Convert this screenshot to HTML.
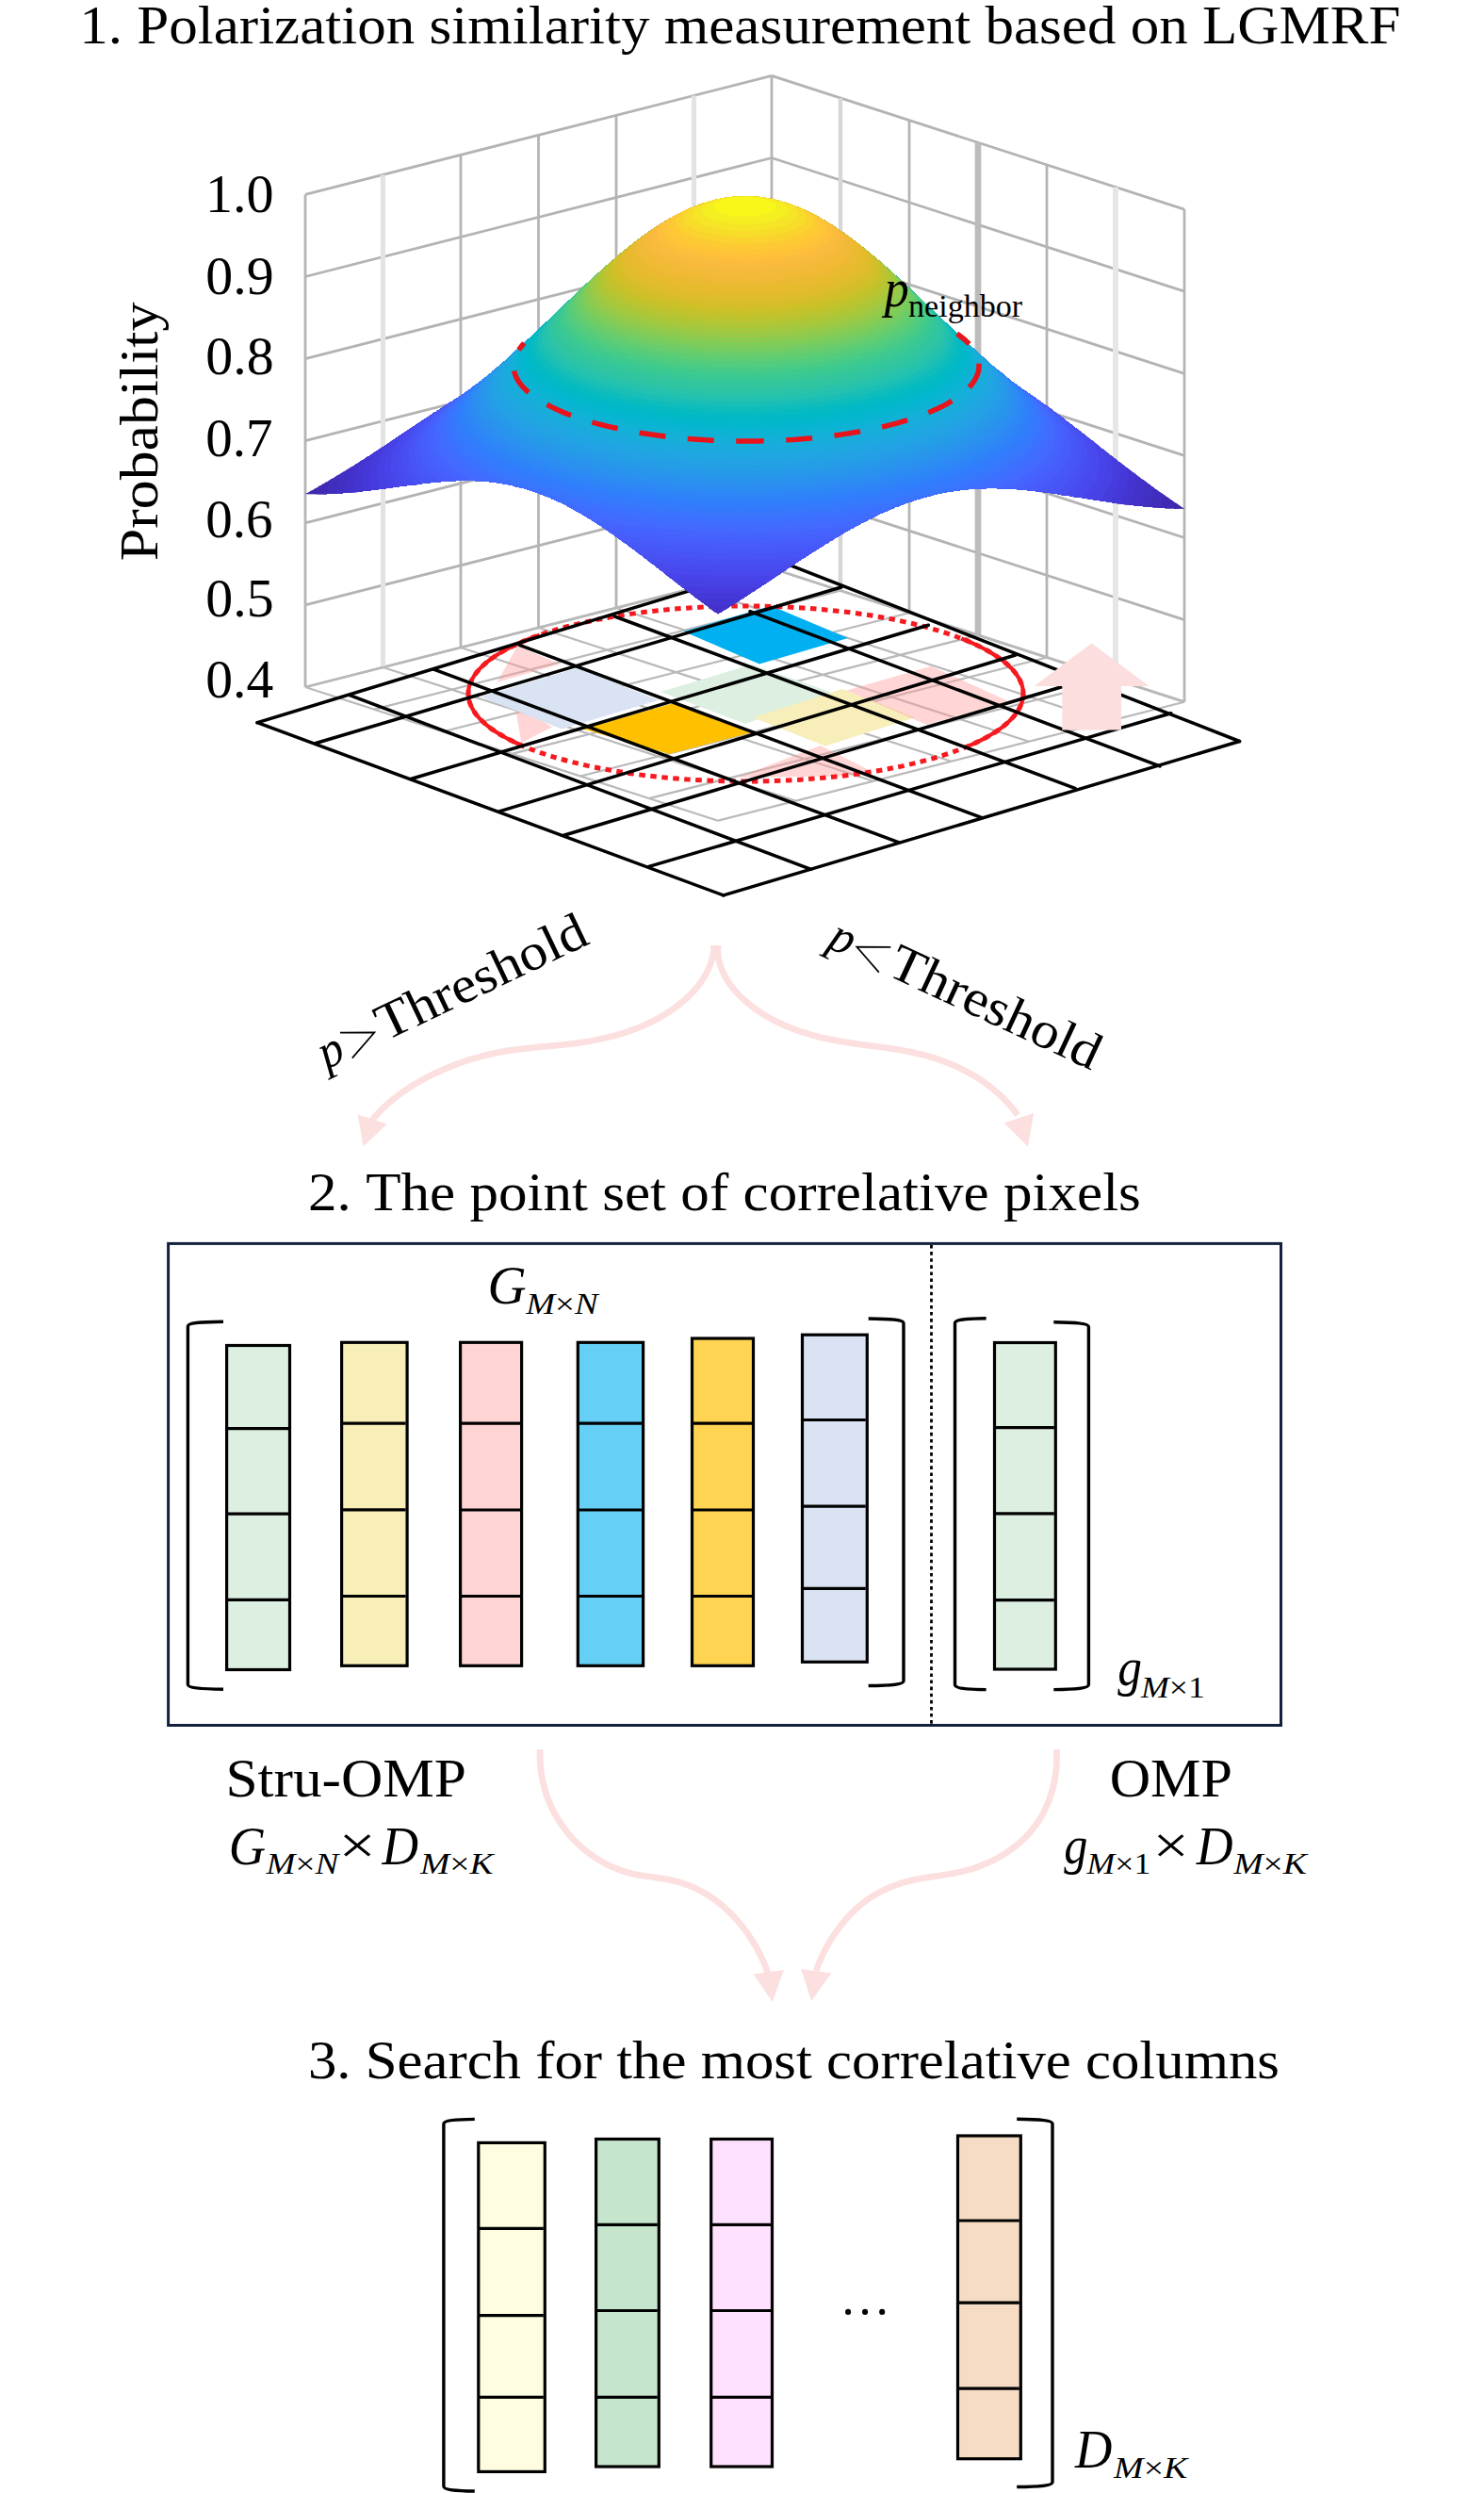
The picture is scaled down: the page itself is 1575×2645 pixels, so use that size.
<!DOCTYPE html><html><head><meta charset="utf-8"><style>html,body{margin:0;padding:0;background:#fff;font-family:'Liberation Serif',serif}svg{display:block}</style></head><body>
<svg width="1575" height="2645" viewBox="0 0 1575 2645">
<rect width="1575" height="2645" fill="#fff"/>
<g stroke-linecap="butt">
<line x1="324.0" y1="729.0" x2="819.0" y2="603.0" stroke="#b3b3b3" stroke-width="2.8"/>
<line x1="819.0" y1="603.0" x2="1257.0" y2="744.7" stroke="#b3b3b3" stroke-width="2.8"/>
<line x1="324.0" y1="641.9" x2="819.0" y2="515.9" stroke="#b3b3b3" stroke-width="2.8"/>
<line x1="819.0" y1="515.9" x2="1257.0" y2="657.6" stroke="#b3b3b3" stroke-width="2.8"/>
<line x1="324.0" y1="554.8" x2="819.0" y2="428.8" stroke="#b3b3b3" stroke-width="2.8"/>
<line x1="819.0" y1="428.8" x2="1257.0" y2="570.5" stroke="#b3b3b3" stroke-width="2.8"/>
<line x1="324.0" y1="467.7" x2="819.0" y2="341.7" stroke="#b3b3b3" stroke-width="2.8"/>
<line x1="819.0" y1="341.7" x2="1257.0" y2="483.4" stroke="#b3b3b3" stroke-width="2.8"/>
<line x1="324.0" y1="380.6" x2="819.0" y2="254.6" stroke="#b3b3b3" stroke-width="2.8"/>
<line x1="819.0" y1="254.6" x2="1257.0" y2="396.3" stroke="#b3b3b3" stroke-width="2.8"/>
<line x1="324.0" y1="293.5" x2="819.0" y2="167.5" stroke="#b3b3b3" stroke-width="2.8"/>
<line x1="819.0" y1="167.5" x2="1257.0" y2="309.2" stroke="#b3b3b3" stroke-width="2.8"/>
<line x1="324.0" y1="206.4" x2="819.0" y2="80.4" stroke="#b3b3b3" stroke-width="2.8"/>
<line x1="819.0" y1="80.4" x2="1257.0" y2="222.1" stroke="#b3b3b3" stroke-width="2.8"/>
<line x1="819.0" y1="80.4" x2="819.0" y2="603.0" stroke="#b5b5b5" stroke-width="2.8"/>
<line x1="736.5" y1="101.4" x2="736.5" y2="624.0" stroke="#e3e3e3" stroke-width="5.2"/>
<line x1="654.0" y1="122.4" x2="654.0" y2="645.0" stroke="#b5b5b5" stroke-width="2.8"/>
<line x1="571.5" y1="143.4" x2="571.5" y2="666.0" stroke="#b5b5b5" stroke-width="2.8"/>
<line x1="489.0" y1="164.4" x2="489.0" y2="687.0" stroke="#b5b5b5" stroke-width="2.8"/>
<line x1="406.5" y1="185.4" x2="406.5" y2="708.0" stroke="#e3e3e3" stroke-width="5.2"/>
<line x1="324.0" y1="206.4" x2="324.0" y2="729.0" stroke="#b5b5b5" stroke-width="2.8"/>
<line x1="892.0" y1="104.0" x2="892.0" y2="626.6" stroke="#d6d6d6" stroke-width="4.5"/>
<line x1="965.0" y1="127.6" x2="965.0" y2="650.2" stroke="#b5b5b5" stroke-width="2.8"/>
<line x1="1038.0" y1="151.2" x2="1038.0" y2="673.9" stroke="#bcbcbc" stroke-width="6.7"/>
<line x1="1111.0" y1="174.9" x2="1111.0" y2="697.5" stroke="#b5b5b5" stroke-width="2.8"/>
<line x1="1184.0" y1="198.5" x2="1184.0" y2="721.1" stroke="#e6e6e6" stroke-width="6"/>
<line x1="1257.0" y1="222.1" x2="1257.0" y2="744.7" stroke="#b5b5b5" stroke-width="2.8"/>
<line x1="819.0" y1="603.0" x2="1257.0" y2="744.7" stroke="#b9b9b9" stroke-width="2.2"/>
<line x1="819.0" y1="603.0" x2="324.0" y2="729.0" stroke="#b9b9b9" stroke-width="2.2"/>
<line x1="736.5" y1="624.0" x2="1174.5" y2="765.7" stroke="#b9b9b9" stroke-width="2.2"/>
<line x1="892.0" y1="626.6" x2="397.0" y2="752.6" stroke="#b9b9b9" stroke-width="2.2"/>
<line x1="654.0" y1="645.0" x2="1092.0" y2="786.7" stroke="#b9b9b9" stroke-width="2.2"/>
<line x1="965.0" y1="650.2" x2="470.0" y2="776.2" stroke="#b9b9b9" stroke-width="2.2"/>
<line x1="571.5" y1="666.0" x2="1009.5" y2="807.7" stroke="#b9b9b9" stroke-width="2.2"/>
<line x1="1038.0" y1="673.9" x2="543.0" y2="799.9" stroke="#b9b9b9" stroke-width="2.2"/>
<line x1="489.0" y1="687.0" x2="927.0" y2="828.7" stroke="#b9b9b9" stroke-width="2.2"/>
<line x1="1111.0" y1="697.5" x2="616.0" y2="823.5" stroke="#b9b9b9" stroke-width="2.2"/>
<line x1="406.5" y1="708.0" x2="844.5" y2="849.7" stroke="#b9b9b9" stroke-width="2.2"/>
<line x1="1184.0" y1="721.1" x2="689.0" y2="847.1" stroke="#b9b9b9" stroke-width="2.2"/>
<line x1="324.0" y1="729.0" x2="762.0" y2="870.7" stroke="#b9b9b9" stroke-width="2.2"/>
<line x1="1257.0" y1="744.7" x2="762.0" y2="870.7" stroke="#b9b9b9" stroke-width="2.2"/>
</g>
<polygon points="527.8,723.8 549,685.6 594.3,704.4" fill="#ff9a9a" fill-opacity="0.42"/>
<polygon points="546,745 553.3,787.9 585.8,771.4" fill="#ff9a9a" fill-opacity="0.42"/>
<polygon points="612.6,708.8 699.2,742.7 596.0,773.5 510.5,739.2" fill="#dae3f3"/>
<polygon points="619.0,773.5 714.0,746.2 797.2,777.5 710.2,800.0" fill="#ffc000"/>
<polygon points="725.5,670.0 818.5,642.7 900.0,677.0 806.0,704.5" fill="#00b0f0"/>
<polygon points="701.0,734.0 798.0,705.0 882.0,734.5 791.0,768.0" fill="#dcefe0"/>
<polygon points="799.0,761.3 894.0,731.0 970.9,761.3 875.9,791.6" fill="#f7eeb9"/>
<polygon points="898.5,732.6 988.2,706.7 1069.8,743.8 983.8,769" fill="#ff9a9a" fill-opacity="0.42"/>
<polygon points="870.5,791 927.1,819.3 894.8,823.5 783,824.7" fill="#ff9a9a" fill-opacity="0.42"/>
<ellipse cx="791.5" cy="736" rx="294.5" ry="93" fill="none" stroke="#f51a1f" stroke-width="5" stroke-dasharray="6.5 5.5"/>
<path d="M553.2 790.7 L547.3 788.0 L541.7 785.3 L536.5 782.5 L531.5 779.7 L526.8 776.8 L522.5 773.8 L518.4 770.8 L514.8 767.8 L511.4 764.7 L508.4 761.6 L505.7 758.5 L503.4 755.3 L501.5 752.1 L499.9 748.9 L498.6 745.7 L497.7 742.5 L497.2 739.2 L497.0 736.0 L497.2 732.8 L497.7 729.5 L498.6 726.3 L499.9 723.1 L501.5 719.9 L503.4 716.7 L505.7 713.5 L508.4 710.4 L511.4 707.3 L514.8 704.2 L518.4 701.2 L522.5 698.2 L526.8 695.2 L531.5 692.3 L536.5 689.5 L541.7 686.7 L547.3 684.0 L553.2 681.3 L559.4 678.7 L565.9 676.2 L572.6 673.8 " fill="none" stroke="#f51a1f" stroke-width="4.2"/>
<path d="M1020.4 677.5 L1026.6 680.0 L1032.6 682.6 L1038.3 685.2 L1043.7 688.0 L1048.8 690.7 L1053.5 693.6 L1058.0 696.4 L1062.2 699.4 L1066.0 702.3 L1069.5 705.3 L1072.7 708.4 L1075.6 711.4 L1078.1 714.6 L1080.2 717.7 L1082.1 720.8 L1083.5 724.0 L1084.7 727.2 L1085.5 730.4 L1085.9 733.6 L1086.0 736.8 L1085.7 740.0 L1085.1 743.2 L1084.2 746.4 L1082.9 749.6 L1081.2 752.7 L1079.2 755.9 L1076.9 759.0 L1074.2 762.1 L1071.2 765.1 L1067.8 768.2 L1064.2 771.1 L1060.2 774.1 L1055.8 777.0 L1051.2 779.8 L1046.3 782.6 L1041.0 785.4 L1035.5 788.1 L1029.7 790.7 L1023.6 793.3" fill="none" stroke="#f51a1f" stroke-width="4.2"/>
<g stroke="#000" stroke-width="3.5" stroke-linecap="round">
<line x1="273.1" y1="766.7" x2="830.8" y2="596.6" stroke="#000" stroke-width="3.5"/>
<line x1="335.2" y1="788.5" x2="892.8" y2="623.0" stroke="#000" stroke-width="3.5"/>
<line x1="435.9" y1="826.5" x2="985.3" y2="663.3" stroke="#000" stroke-width="3.5"/>
<line x1="529.9" y1="860.9" x2="1077.7" y2="695.0" stroke="#000" stroke-width="3.5"/>
<line x1="598.4" y1="886.3" x2="1150.3" y2="721.8" stroke="#000" stroke-width="3.5"/>
<line x1="688.7" y1="919.4" x2="1242.8" y2="756.7" stroke="#000" stroke-width="3.5"/>
<line x1="767.8" y1="949.9" x2="1315.5" y2="786.5" stroke="#000" stroke-width="3.5"/>
<line x1="273.1" y1="766.7" x2="767.8" y2="949.9" stroke="#000" stroke-width="3.5"/>
<line x1="371.3" y1="737.7" x2="860.8" y2="922.3" stroke="#000" stroke-width="3.5"/>
<line x1="460.3" y1="710.2" x2="954.2" y2="893.8" stroke="#000" stroke-width="3.5"/>
<line x1="551.3" y1="684.3" x2="1042.2" y2="867.6" stroke="#000" stroke-width="3.5"/>
<line x1="652.3" y1="654.0" x2="1141.0" y2="836.3" stroke="#000" stroke-width="3.5"/>
<line x1="796.0" y1="648.7" x2="1231.0" y2="812.9" stroke="#000" stroke-width="3.5"/>
<line x1="830.8" y1="596.6" x2="1315.5" y2="786.5" stroke="#000" stroke-width="3.5"/>
</g>
<polygon points="1158.6,682.5 1219.7,728.0 1190.0,728.0 1190.0,774.5 1127.3,774.5 1127.3,728.0 1097.5,728.0" fill="#fddede"/>
<defs><clipPath id="sil"><path d="M762.2 651.5l-.4 0-1.6-1.5-2-1-9.4-7.5-.6 0-1.4-1.5-.6 0-1.4-1.5-.6 0-1.4-1.5-.6 0-1.4-1.5-2-1-6.6-5.5-.4 0-1.6-1.5-.4 0-2-2-.6 0-1.4-1.5-.6 0-1.4-1.5-.6 0-1.4-1.5-.6 0-7-6-.4 0-1.6-1.5-.4 0-1.6-1.5-.4 0-7-6-.6 0-1.4-1.5-.6 0-1.4-1.5-.6 0-4.4-3.9-.6 0-1.4-1.5-.6 0-2-2-.4 0-1.6-1.5-.4 0-1.6-1.5-.4 0-1.6-1.5-.4 0-2-2-.6 0-1.4-1.5-.6 0-2-2-.4 0-1.6-1.5-.4 0-1.6-1.5-.4 0-1.6-1.5-.4 0-5.6-4.5-2-1-3.4-3-.6 0-3-2.5-2-1-1.4-1.5-3.6-2-1-1-.4 0-1.6-1.5-.4 0-7-5-2-1-5.6-4-1.4-.5-2.6-2-1.4-.5-2.6-2-2.4-1-3.6-2.5-6-3-1-1-4.4-2-1-1-1 0-1-1-8-4-1 0-1-1-1 0-3.6-2-1 0-2.4-1.5-1 0-2.6-1.5-1 0-1.4-1-1 0-1.6-1-2.4-.5-1.6-1-1 0-.4-.5-4-1-.6-.5-1 0-.4-.5-4-1-.6-.5-1.4 0-2-1-3.6-.5-2-1-4-.5-.4-.5-1.6 0-.4-.5-4.6-.5-.4-.5-2 0-.6-.5-2.4 0-.6-.5-2.4 0-.6-.5-2.4 0-.6-.5-3.4 0-.6-.5-4 0-.4-.5-5 0-.6-.5-8.4 0-.6-.5-20 0-.4 .5-9 0-.6 .5-6.4 0-.6 .5-5.4 0-.6 .5-4.4 0-.6 .5-8.4 .5-.6 .5-3.4 0-.6 .5-7.4 .5-.6 .5-3.4 0-.6 .5-7 .4-.4 .5-6.6 .5-.4 .5-3.6 0-.4 .5-3 0-.6 .5-7.4 .5-.6 .5-3.4 0-.6 .5-3.4 0-.6 .5-3.4 0-.6 .5-4 0-.4 .5-4 0-.6 .5-10 .5-.4 .5-5.6 0-.4 .4-7 0-.6 .5-9 0-.4 .5-22.7-.2 .7-.6 3.4-1.5 1-1 3.6-1.5 1-1 3.4-1.5 1-1 2.6-1 1-1 2.4-1 1-1 2.6-1 3.4-2.5 2.6-1 3.4-2.5 4-2 1-1 1.6-.5 1-1 1.4-.5 2.6-2 1.4-.6 1-1 4-2 2.6-2 1.4-.5 4-3 1.6-.5 5.4-4 1.6-.5 7-5 1.4-.5 1.6-1.5 1.4-.5 1-1 3.6-2 10-7 1.4-.5 1.6-1.5 .4 0 1-1 .6 0 1-1 .4 0 1-1 .6 0 1-1 .4 0 1-1 .6 0 1-1 .4 0 1-1 .6 0 1-1 .4 0 1-1 .6 0 1-1 .4 0 1-1 .6 0 1-1 2-1.1 1-1 .4 0 1-1 .6 0 1-1 2-1 1-1 .4 0 1-1 3.6-2 8.4-6 1.6-.5 1.4-1.5 1.6-.5 7-5 1.4-.5 4-3 1.6-.5 4-3 1.4-.5 5.6-4 .4 0 1.6-1.5 3.4-2 9.6-7.5 .4 0 1.6-1.5 .4 0 2-2 .6 0 1.4-1.5 .6 0 2-2 .4 0 5-4.5 .6 0 2.4-2.5 .6 0 10-9 .4 0 3.6-3.5 .4 0 9.6-9.1 .4 0 12.6-12 .4 0 8.6-8.5 .4 0 10-10 .6 0 11.4-11.5 .6 0 11.4-11.5 .6 0 18-17.5 .4 0 6-6 .6 0 5.4-5.5 .6 0 4.4-4.5 .6 0 3.4-3.5 .6 0 4-4 .4 0 9.6-8.5 .4 0 2-2 .6 0 2.4-2.5 .6 0 7-6 .4 0 1.6-1.5 .4 0 1.6-1.5 .4 0 1.6-1.5 .4 0 1.6-1.5 .4 0 1.6-1.5 .4 0 1.6-1.5 2-1 1.4-1.5 3.6-2 1-1 .4 0 1-1 .6 0 1-1 .4 0 1-1 .6 0 1-1 .4 0 1-1 .6 0 1-1 1.4-.5 2.6-2 1.4-.5 3.6-2.5 3.4-1.5 1-1 16-8 1 0 2.6-1.5 1 0 1.4-1 1 0 1.6-1 2.4-.5 1.6-1 1 0 .4-.5 1 0 .6-.5 1 0 .4-.5 1 0 2-1 1.6 0 2-1 3.4-.5 .6-.5 1.4 0 .6-.5 1.4 0 .6-.5 2 0 .4-.5 2 0 .6-.5 2.4 0 .6-.5 3 0 .4-.5 3.6 0 .4-.5 5.6 0 .4-.5 16 0 .6 .5 5.4 0 .6 .5 3.4 0 .6 .5 3 0 .4 .5 2.6 0 .4 .5 4.6 .5 .4 .5 1.6 0 .4 .5 1.6 0 .4 .5 3.6 .5 2 1 1 0 .4 .5 1.6 0 .4 .5 1 0 .6 .5 4 1 1.4 1 2.6 .5 1.4 1 1 0 2.6 1.5 1 0 2.4 1.5 1 0 5 2.5 10 5 1 1 2.6 1 1 1 2.4 1 1 1 1.6 .5 2.4 2 1.6 .5 11.4 8 2 1 1.6 1.5 2 1 3.4 3 .6 0 1.4 1.5 .6 0 1.4 1.5 .6 0 1.4 1.5 .6 0 1.4 1.5 .6 0 9.4 8 .6 0 2.4 2.5 .6 0 2.4 2.5 .6 0 2.4 2.5 .6 0 3 3 .4 0 7.6 7 .4 0 4 4 .6 0 11 10.5 .4 0 6.6 6.5 .4 0 8 8 .6 0 9.4 9.5 .6 0 10 10 .4 0 10 10 .6 0 8.4 8.5 .6 0 14 13.5 .4 0 5 5 .6 0 9 8.6 .4 0 7.6 7 .4 0 3 3 .6 0 8.4 7.5 .6 0 7 6 .4 0 4 3.5 .6 0 5.4 4.5 2 1 3.6 3 .4 0 1 1 .6 0 2.4 2 2 1 1.6 1.5 .4 0 2.6 2 2 1 3 2.5 2 1 1.4 1.5 2 1 1.6 1.5 2 1 3 2.5 .4 0 7.6 6 .4 0 1.6 1.5 .4 0 1.6 1.5 .4 0 6.6 5.5 .4 0 1.6 1.5 .4 0 1.6 1.5 .4 0 1.6 1.5 .4 0 2 2 .6 0 1.4 1.5 .6 0 2 2 .4 0 1.6 1.5 .4 0 1.6 1.5 .4 0 7.6 6.6 2 1 9.4 8 2 1 5 4.5 .6 0 1.4 1.5 .6 0 1.4 1.5 .6 0 1.4 1.5 .6 0 2 2 .4 0 2 2 .6 0 1.4 1.5 .6 0 2 2 .4 0 1.6 1.5 .4 0 1.6 1.5 .4 0 1.6 1.5 .4 0 3.6 3 .4 0 9.6 7.5 2 1 5 4.1 .4 0 3.6 3 .4 0 3 2.5 .6 0 1.4 1.5 .6 0 1 1 3.4 2 1 1 .6 0 1 1 .4 0 1.6 1.5 .4 0 5.6 4 .4 0 1.6 1.5 3 1.5 5.4 4 3.2 1.7-11.6 .1-.6-.5-8.4 0-.6-.5-6.4 0-.6-.5-5.4 0-.6-.5-5 0-.4-.5-4.6 0-.4-.5-9-.4-.6-.5-3.4 0-.6-.5-7.4-.5-.6-.5-7-.5-.4-.5-3 0-.6-.5-6-.5-.4-.5-6.6-.5-.4-.5-2.6 0-.4-.5-3 0-.6-.5-2.4 0-.6-.5-3 0-.4-.5-5.6-.5-.4-.5-3 0-.6-.5-5.4-.4-.6-.5-3 0-.4-.5-2.6 0-.4-.5-6-.5-.6-.5-3 0-.4-.5-6.6-.5-.4-.5-3 0-.6-.5-3.4 0-.6-.5-3.4 0-.6-.5-3.4 0-.6-.5-4 0-.4-.5-4 0-.6-.5-5 0-.4-.5-5.6 0-.4-.5-7 0-.6-.5-12.4 0-.6-.5-11 0-.4 .5-12 0-.6 .5-6 0-.4 .5-5 0-.6 .5-3.4 0-.6 .5-3.4 0-.6 .5-2.4 0-.6 .5-3 0-.4 .5-2.6 0-.4 .5-4.6 .5-.4 .5-4.6 .5-.4 .5-1.6 0-.4 .5-2 0-.6 .5-1.4 0-.6 .5-3.4 .5-2 1-1.6 0-2 1-1.4 0-2 1-1.6 0-.4 .5-1 0-.6 .5-1 0-2 1-1 0-.4 .5-4 1-.6 .5-1 0-.4 .5-1 0-1.6 1-2.4 .5-4 2-2.6 .5-2.4 1.5-1 0-1.6 1-1 0-3.4 2-1 0-4.6 2.5-1 0-11.4 6-1 0-1 1-7.6 3.5-1 1-1 0-1 1-3.4 1.5-1 1-3.6 1.5-1 1-5 2.5-1 1-2.4 1-3.6 2.5-4 2-2.4 2-1.6 .5-3.4 2.5-1.6 .5-2.4 2-1.6 .5-1 1-.4 0-2.6 2-1.4 .5-2.6 2-1.4 .5-1.6 1.5-1.4 .5-2.6 2-1.4 .5-1.6 1.5-3 1.5-1 1-.4 0-1 1-.6 0-1 1-.4 0-1 1-.6 0-1 1-.4 0-1 1-.6 0-1 1-.4 0-1 1-.6 0-1 1-.4 0-1 1-.6 0-1 1-.4 0-1 .9-2 1-1 1-.6 0-1 1-.4 0-1 1-2 1-10 7-1.6 .5-1.4 1.5-3.6 2-4 3-1.4 .5-3 2.5-1.6 .5-7 5-1.4 .5-3 2.5-1.6 .5-5.4 4-1.6 .5-2.4 2-1.6 .5-4 3-4 2-1.4 1.5-1.6 .5-2 1.5z"/></clipPath></defs>
<path fill="#3e28ac" d="M762.2 651.5l-.4 0-1.6-1.5-2-1-9.4-7.5-.6 0-1.4-1.5-.6 0-1.4-1.5-.6 0-1.4-1.5-.6 0-1.4-1.5-2-1-6.6-5.5-.4 0-1.6-1.5-.4 0-2-2-.6 0-1.4-1.5-.6 0-1.4-1.5-.6 0-1.4-1.5-.6 0-7-6-.4 0-1.6-1.5-.4 0-1.6-1.5-.4 0-7-6-.6 0-1.4-1.5-.6 0-1.4-1.5-.6 0-4.4-3.9-.6 0-1.4-1.5-.6 0-2-2-.4 0-1.6-1.5-.4 0-1.6-1.5-.4 0-1.6-1.5-.4 0-2-2-.6 0-1.4-1.5-.6 0-2-2-.4 0-1.6-1.5-.4 0-1.6-1.5-.4 0-1.6-1.5-.4 0-5.6-4.5-2-1-3.4-3-.6 0-3-2.5-2-1-1.4-1.5-3.6-2-1-1-.4 0-1.6-1.5-.4 0-7-5-2-1-5.6-4-1.4-.5-2.6-2-1.4-.5-2.6-2-2.4-1-3.6-2.5-6-3-1-1-4.4-2-1-1-1 0-1-1-8-4-1 0-1-1-1 0-3.6-2-1 0-2.4-1.5-1 0-2.6-1.5-1 0-1.4-1-1 0-1.6-1-2.4-.5-1.6-1-1 0-.4-.5-4-1-.6-.5-1 0-.4-.5-4-1-.6-.5-1.4 0-2-1-3.6-.5-2-1-4-.5-.4-.5-1.6 0-.4-.5-4.6-.5-.4-.5-2 0-.6-.5-2.4 0-.6-.5-2.4 0-.6-.5-2.4 0-.6-.5-3.4 0-.6-.5-4 0-.4-.5-5 0-.6-.5-8.4 0-.6-.5-20 0-.4 .5-9 0-.6 .5-6.4 0-.6 .5-5.4 0-.6 .5-4.4 0-.6 .5-8.4 .5-.6 .5-3.4 0-.6 .5-7.4 .5-.6 .5-3.4 0-.6 .5-7 .4-.4 .5-6.6 .5-.4 .5-3.6 0-.4 .5-3 0-.6 .5-7.4 .5-.6 .5-3.4 0-.6 .5-3.4 0-.6 .5-3.4 0-.6 .5-4 0-.4 .5-4 0-.6 .5-10 .5-.4 .5-5.6 0-.4 .4-7 0-.6 .5-9 0-.4 .5-22.7-.2 .7-.6 3.4-1.5 1-1 3.6-1.5 1-1 3.4-1.5 1-1 2.6-1 1-1 2.4-1 1-1 2.6-1 3.4-2.5 2.6-1 3.4-2.5 4-2 1-1 1.6-.5 1-1 1.4-.5 2.6-2 1.4-.6 1-1 4-2 2.6-2 1.4-.5 4-3 1.6-.5 5.4-4 1.6-.5 7-5 1.4-.5 1.6-1.5 1.4-.5 1-1 3.6-2 10-7 1.4-.5 1.6-1.5 .4 0 1-1 .6 0 1-1 .4 0 1-1 .6 0 1-1 .4 0 1-1 .6 0 1-1 .4 0 1-1 .6 0 1-1 .4 0 1-1 .6 0 1-1 .4 0 1-1 .6 0 1-1 2-1.1 1-1 .4 0 1-1 .6 0 1-1 2-1 1-1 .4 0 1-1 3.6-2 8.4-6 1.6-.5 1.4-1.5 1.6-.5 7-5 1.4-.5 4-3 1.6-.5 4-3 1.4-.5 5.6-4 .4 0 1.6-1.5 3.4-2 9.6-7.5 .4 0 1.6-1.5 .4 0 2-2 .6 0 1.4-1.5 .6 0 2-2 .4 0 5-4.5 .6 0 2.4-2.5 .6 0 10-9 .4 0 3.6-3.5 .4 0 9.6-9.1 .4 0 12.6-12 .4 0 8.6-8.5 .4 0 10-10 .6 0 11.4-11.5 .6 0 11.4-11.5 .6 0 18-17.5 .4 0 6-6 .6 0 5.4-5.5 .6 0 4.4-4.5 .6 0 3.4-3.5 .6 0 4-4 .4 0 9.6-8.5 .4 0 2-2 .6 0 2.4-2.5 .6 0 7-6 .4 0 1.6-1.5 .4 0 1.6-1.5 .4 0 1.6-1.5 .4 0 1.6-1.5 .4 0 1.6-1.5 .4 0 1.6-1.5 2-1 1.4-1.5 3.6-2 1-1 .4 0 1-1 .6 0 1-1 .4 0 1-1 .6 0 1-1 .4 0 1-1 .6 0 1-1 1.4-.5 2.6-2 1.4-.5 3.6-2.5 3.4-1.5 1-1 16-8 1 0 2.6-1.5 1 0 1.4-1 1 0 1.6-1 2.4-.5 1.6-1 1 0 .4-.5 1 0 .6-.5 1 0 .4-.5 1 0 2-1 1.6 0 2-1 3.4-.5 .6-.5 1.4 0 .6-.5 1.4 0 .6-.5 2 0 .4-.5 2 0 .6-.5 2.4 0 .6-.5 3 0 .4-.5 3.6 0 .4-.5 5.6 0 .4-.5 16 0 .6 .5 5.4 0 .6 .5 3.4 0 .6 .5 3 0 .4 .5 2.6 0 .4 .5 4.6 .5 .4 .5 1.6 0 .4 .5 1.6 0 .4 .5 3.6 .5 2 1 1 0 .4 .5 1.6 0 .4 .5 1 0 .6 .5 4 1 1.4 1 2.6 .5 1.4 1 1 0 2.6 1.5 1 0 2.4 1.5 1 0 5 2.5 10 5 1 1 2.6 1 1 1 2.4 1 1 1 1.6 .5 2.4 2 1.6 .5 11.4 8 2 1 1.6 1.5 2 1 3.4 3 .6 0 1.4 1.5 .6 0 1.4 1.5 .6 0 1.4 1.5 .6 0 1.4 1.5 .6 0 9.4 8 .6 0 2.4 2.5 .6 0 2.4 2.5 .6 0 2.4 2.5 .6 0 3 3 .4 0 7.6 7 .4 0 4 4 .6 0 11 10.5 .4 0 6.6 6.5 .4 0 8 8 .6 0 9.4 9.5 .6 0 10 10 .4 0 10 10 .6 0 8.4 8.5 .6 0 14 13.5 .4 0 5 5 .6 0 9 8.6 .4 0 7.6 7 .4 0 3 3 .6 0 8.4 7.5 .6 0 7 6 .4 0 4 3.5 .6 0 5.4 4.5 2 1 3.6 3 .4 0 1 1 .6 0 2.4 2 2 1 1.6 1.5 .4 0 2.6 2 2 1 3 2.5 2 1 1.4 1.5 2 1 1.6 1.5 2 1 3 2.5 .4 0 7.6 6 .4 0 1.6 1.5 .4 0 1.6 1.5 .4 0 6.6 5.5 .4 0 1.6 1.5 .4 0 1.6 1.5 .4 0 1.6 1.5 .4 0 2 2 .6 0 1.4 1.5 .6 0 2 2 .4 0 1.6 1.5 .4 0 1.6 1.5 .4 0 7.6 6.6 2 1 9.4 8 2 1 5 4.5 .6 0 1.4 1.5 .6 0 1.4 1.5 .6 0 1.4 1.5 .6 0 2 2 .4 0 2 2 .6 0 1.4 1.5 .6 0 2 2 .4 0 1.6 1.5 .4 0 1.6 1.5 .4 0 1.6 1.5 .4 0 3.6 3 .4 0 9.6 7.5 2 1 5 4.1 .4 0 3.6 3 .4 0 3 2.5 .6 0 1.4 1.5 .6 0 1 1 3.4 2 1 1 .6 0 1 1 .4 0 1.6 1.5 .4 0 5.6 4 .4 0 1.6 1.5 3 1.5 5.4 4 3.2 1.7-11.6 .1-.6-.5-8.4 0-.6-.5-6.4 0-.6-.5-5.4 0-.6-.5-5 0-.4-.5-4.6 0-.4-.5-9-.4-.6-.5-3.4 0-.6-.5-7.4-.5-.6-.5-7-.5-.4-.5-3 0-.6-.5-6-.5-.4-.5-6.6-.5-.4-.5-2.6 0-.4-.5-3 0-.6-.5-2.4 0-.6-.5-3 0-.4-.5-5.6-.5-.4-.5-3 0-.6-.5-5.4-.4-.6-.5-3 0-.4-.5-2.6 0-.4-.5-6-.5-.6-.5-3 0-.4-.5-6.6-.5-.4-.5-3 0-.6-.5-3.4 0-.6-.5-3.4 0-.6-.5-3.4 0-.6-.5-4 0-.4-.5-4 0-.6-.5-5 0-.4-.5-5.6 0-.4-.5-7 0-.6-.5-12.4 0-.6-.5-11 0-.4 .5-12 0-.6 .5-6 0-.4 .5-5 0-.6 .5-3.4 0-.6 .5-3.4 0-.6 .5-2.4 0-.6 .5-3 0-.4 .5-2.6 0-.4 .5-4.6 .5-.4 .5-4.6 .5-.4 .5-1.6 0-.4 .5-2 0-.6 .5-1.4 0-.6 .5-3.4 .5-2 1-1.6 0-2 1-1.4 0-2 1-1.6 0-.4 .5-1 0-.6 .5-1 0-2 1-1 0-.4 .5-4 1-.6 .5-1 0-.4 .5-1 0-1.6 1-2.4 .5-4 2-2.6 .5-2.4 1.5-1 0-1.6 1-1 0-3.4 2-1 0-4.6 2.5-1 0-11.4 6-1 0-1 1-7.6 3.5-1 1-1 0-1 1-3.4 1.5-1 1-3.6 1.5-1 1-5 2.5-1 1-2.4 1-3.6 2.5-4 2-2.4 2-1.6 .5-3.4 2.5-1.6 .5-2.4 2-1.6 .5-1 1-.4 0-2.6 2-1.4 .5-2.6 2-1.4 .5-1.6 1.5-1.4 .5-2.6 2-1.4 .5-1.6 1.5-3 1.5-1 1-.4 0-1 1-.6 0-1 1-.4 0-1 1-.6 0-1 1-.4 0-1 1-.6 0-1 1-.4 0-1 1-.6 0-1 1-.4 0-1 1-.6 0-1 1-.4 0-1 .9-2 1-1 1-.6 0-1 1-.4 0-1 1-2 1-10 7-1.6 .5-1.4 1.5-3.6 2-4 3-1.4 .5-3 2.5-1.6 .5-7 5-1.4 .5-3 2.5-1.6 .5-5.4 4-1.6 .5-2.4 2-1.6 .5-4 3-4 2-1.4 1.5-1.6 .5-2 1.5z"/>
<g clip-path="url(#sil)">
<path fill="#402ab4" d="M759.7 652.8l-2.5-1.9-.4 0-1.6-1.5-.4 0-1.6-1.5-.4 0-1.6-1.5-.4 0-1.6-1.5-.4 0-1.6-1.5-.4 0-1.6-1.5-.4 0-1.6-1.5-.4 0-1.6-1.5-.4 0-1.6-1.5-2-1-6.4-5.5-.6 0-1.4-1.5-.6 0-2-2-.4 0-1.6-1.5-.4 0-3.6-3-.4 0-7-5.9-.6 0-1.4-1.5-.6 0-1.4-1.5-.6 0-7-6-.4 0-3.6-3-.4 0-4.6-4-.4 0-1.6-1.5-.4 0-2-2-.6 0-1.4-1.5-.6 0-1.4-1.5-.6 0-1.4-1.5-.6 0-2-2-.4 0-1.6-1.5-.4 0-2-2-.6 0-5.4-4.5-.6 0-5.4-4.5-2-1-3.6-3-.4 0-3-2.5-2-1-1.6-1.5-.4 0-4-3-.6 0-1.4-1.5-3.6-2-5.4-4-.6 0-5.4-4-1.6-.5-2.4-2-1.6-.5-2.4-2-2.6-1-3.4-2.5-6-2.9-1-1-4.6-2-1-1-1 0-1-1-8-4-1 0-1-1-1 0-3.4-2-1 0-2.6-1.5-1 0-2.4-1.5-1 0-1.6-1-1 0-1.4-1-2.6-.5-1.4-1-4-1-.6-.5-2.4-.5-.6-.5-1 0-2-1-1.4 0-2-1-3.6-.5-2-1-4-.5-.4-.5-1.6 0-.4-.5-2 0-.6-.5-4.4-.5-.6-.5-2.4 0-.6-.5-2.4 0-.6-.5-2.4 0-.6-.5-3.4 0-.6-.5-4 0-.4-.5-5 0-.6-.5-8.4-.1-.6-.5-20 0-.4 .5-9 0-.6 .5-6.4 0-.6 .5-5.4 0-.6 .5-4.4 0-.6 .5-8.4 .5-.6 .5-7.4 .5-.6 .5-3.4 0-.6 .5-3.4 0-.6 .5-7 .5-.4 .5-6.6 .5-.4 .5-3.6-.1-.4 .5-3 0-.6 .5-3.4 0-.6 .5-3.4 0-.6 .5-7.4 .5-.6 .5-3.4 0-.6 .5-4 0-.4 .5-4 0-.6 .5-4.4 0-.6 .5-5 0-.4 .5-5.6-.1-.4 .5-7 0-.6 .5-9 0-.4 .5-10.9 0 0-3 1.2-6-.1-1.6-.8-1.2 .6-.8 2.4-1 1-1 2.6-1 1-1 2.4-1 3.6-2.5 2.4-1 1-1 1.6-.5 3.4-2.5 1.6-.5 3.4-2.5 1.6-.5 2.4-2 1.6-.5 1-1 4-2.1 1-1 3-1.5 4-3 1.4-.5 5.6-4 1.4-.5 7-5 1.6-.5 1.4-1.5 1.6-.5 1-1 3.4-2 10-7 1.6-.5 1.4-1.5 .6 0 1-1 .4 0 1-1.1 .6 0 1-1 .4 0 1-1 .6 0 1-1 .4 0 1-1 .6 0 1-1 .4 0 1-1 .6 0 1-1 .4 0 1-1 .6 0 1-1 3.4-2 1-1 .6 0 1-1 2-1 1-1 .4 0 2.6-2 2-1 10-7 1.4-.5 1.6-1.5 1.4-.5 7-5 1.6-.5 4-3 1.4-.5 4-3 1.6-.5 1-1 .4 0 4-3 .6 0 1.4-1.5 3.6-2.1 9.4-7.5 .6 0 1.4-1.5 .6 0 2-2 .4 0 1.6-1.5 .4 0 5-4.5 .6 0 2-2 .4 0 2.6-2.5 .4 0 3-3 .6 0 3-3 .4 0 3-3 .6 0 13.4-12.5 .6 0 5.4-5.5 .6 0 15.4-15 .6 0 10-10 .4 0 11.6-11.5 .4 0 11.6-11.6 .4 0 9.6-9.5 .4 0 8-8 .6 0 6-6 .4 0 10.6-10 .4 0 8-7.5 .6 0 3-3 .4 0 11.6-10 .4 0 7-6 .6 0 1.4-1.5 .6 0 9.4-7.5 2-1 1.6-1.5 .4 0 1-1 .6 0 11.4-8 1.6-.5 1-1 3-1.5 1-1 1.4-.5 1-1 3.6-1.5 1-1 16-8 1 0 2.4-1.5 1 0 4-2 2.6-.5 1.4-1 1 0 .6-.5 4-1 .4-.5 1 0 .6-.5 1 0 .4-.5 1.6 0 2-1 3.4-.5 .6-.5 1.4 0 .6-.5 1.4 0 .6-.5 2 0 .4-.5 2 0 .6-.5 6-.6zM809.7 207.2l6.1 .6 .4 .5 2 0 .6 .5 2 0 .4 .5 1.6 0 .4 .5 1.6 0 .4 .5 3.6 .5 .4 .5 2.6 .5 .4 .5 1.6 0 2 1 1 0 .4 .5 1 0 .6 .5 1 0 .4 .5 1 0 1.6 1 1 0 3 1.5 1 0 2.4 1.5 1 0 2.6 1.5 1 0 15 7.5 1 1 6 3 1 1 1.4 .5 2.6 2 1.4 .5 10 7 2 1 1 1 .6 0 1.4 1.5 2 1 9.6 7.5 .4 0 1.6 1.5 .4 0 9.6 8 .4 0 8.6 7.5 .4 0 3 3 .6 0 3.4 3.5 .6 0 3.4 3.5 .6 0 4 4 .4 0 11 10.5 .6 0 6.4 6.5 .6 0 8 8 .4 0 9.6 9.6 .4 0 10 10 .6 0 10 10 .4 0 8.6 8.5 .4 0 14 13.5 .6 0 5 5 .4 0 9 8.5 .6 0 3.4 3.5 .6 0 3.4 3.5 .6 0 3 3 .4 0 8.6 7.5 .4 0 7 6 .6 0 4 3.5 .4 0 5.6 4.5 2 1 3.4 3 .6 0 4 3.1 2 1 1.4 1.5 .6 0 4 3 .4 0 1.6 1.5 3.4 2 5 4 2 1 3 2.5 .6 0 9.4 7.5 .6 0 1.4 1.5 .6 0 2 2 .4 0 1.6 1.5 .4 0 2 2 .6 0 5.4 4.5 .6 0 6.4 5.5 .6 0 1.4 1.5 .6 0 1.4 1.5 .6 0 7.4 6.5 2 1 9.6 8.1 2 1 2.4 2.5 .6 0 2 2 .4 0 1.6 1.5 .4 0 1.6 1.5 .4 0 1.6 1.5 .4 0 2 2 .6 0 2 2 .4 0 1.6 1.5 .4 0 2 2 .6 0 9.4 7.5 .6 0 9.4 7.5 2 1 3.6 3.1 2 1 3.4 3 2 1 3.6 3 .4 0 1 1 .6 0 5.4 4 .6 0 1.4 1.5 .6 0 1 1 .4 0 4 3 .6 0 1 1.4-1.2 2.2-1.3 6 0 3-7.5 0-.6-.5-6.4 0-.6-.5-5.4 0-.6-.5-5 0-.4-.5-4.6 0-.4-.5-4.6 .1-.4-.5-4 0-.6-.5-3.4 0-.6-.5-7.4-.5-.6-.5-3 0-.4-.5-3.6 0-.4-.5-6.6-.5-.4-.5-2.6 0-.4-.5-6.6-.5-.4-.5-2.6 0-.4-.5-3 0-.6-.5-2.4 .1-.6-.5-3 0-.4-.5-2.6 0-.4-.5-2.6 0-.4-.5-3 0-.6-.5-2.4 0-.6-.5-2.4 0-.6-.5-3 0-.4-.5-6-.5-.6-.5-2.4 0-.6-.5-6.4-.5-.6-.5-3 0-.4-.5-3 0-.6-.5-7.4-.5-.6-.5-3.4 0-.6-.5-4 0-.4-.5-4 0-.6-.5-5 0-.4-.5-5.6 0-.4-.5-7 0-.6-.5-12.4 0-.6-.5-11 .1-.4 .5-12 0-.6 .5-6 0-.4 .5-5 0-.6 .5-3.4 0-.6 .5-3.4 0-.6 .5-2.4 0-.6 .5-6 .5-.4 .5-2 0-.6 .5-2 0-.4 .5-2 0-.6 .5-2 0-.4 .5-1.6 0-.4 .5-2 0-.6 .5-3.4 .5-.6 .5-1.4 0-2 1-1.6 0-2 1-1.4 0-2 1-1.6 0-.4 .5-1 0-.6 .5-2.4 .5-.6 .5-1 0-.4 .5-1 0-.6 .5-1 0-2 1-1 0-1.4 1-2.6 .5-4 2-2.4 .5-2.6 1.5-1 0-1.4 1-1 0-9 4.5-1 0-11.6 5.9-1 0-1 1-7.4 3.5-1 1-1 0-1 1-3.6 1.5-1 1-3.4 1.5-1 1-2.6 1-3.4 2.5-2.6 1-3.4 2.5-4 2-2.6 2-1.4 .5-3.6 2.5-1.4 .5-2.6 2-1.4 .5-1 1-2 1-1 1-1.6 .5-2.4 2-1.6 .5-1.4 1.5-1.6 .5-2.4 2-1.6 .5-1.4 1.5-3 1.5-1 1-.6 0-1 1-.4 0-1 1-.6 0-1 1-.4 0-1 1-.6 0-1 1-.4 0-1 1-.6 0-1 1-.4 0-1 1-.6 0-1 1-.4 0-1 1-.6 0-1 1-.4 0-1 1-2 1-1 1-.6 0-1 1-.4 0-11.6 8-1.4 .4-1.6 1.5-.4 0-4 3-.6 0-2.4 2-1.6 .5-3 2.5-1.4 .5-7 5-1.6 .5-3 2.5-1.4 .5-5.6 4-1.4 .5-2.6 2-1.4 .5-1 1-2 1-1 1-1.6 .5-1 1-1.4 .5-1.6 1.5-1.4 .5-1 .9z"/>
<path fill="#412dbc" d="M759.7 652.8l-2.5-2-.4 0-1.6-1.5-.4 0-1.6-1.5-.4 0-1.6-1.5-.4 0-1.6-1.5-.4 0-1.6-1.5-.4 0-1.6-1.4-.4 0-1.6-1.5-.4 0-1.6-1.5-.4 0-1.6-1.5-2-1-6.4-5.5-.6 0-1.4-1.5-.6 0-2-2-.4 0-1.6-1.5-.4 0-3.6-3-.4 0-7-6-.6 0-1.4-1.5-.6 0-1.4-1.5-.6 0-7-6-.4 0-1.6-1.5-.4 0-1.6-1.4-.4 0-4.6-4-.4 0-1.6-1.5-.4 0-2-2-.6 0-1.4-1.5-.6 0-1.4-1.5-.6 0-1.4-1.5-.6 0-2-2-.4 0-1.6-1.5-.4 0-2-2-.6 0-5.4-4.5-.6 0-5.4-4.5-2-1-3.6-3-.4 0-3-2.5-2-1-1.6-1.5-.4 0-4-3-.6 0-1.4-1.5-3.6-2-5.4-4-.6 0-5.4-4-1.6-.5-2.4-2-1.6-.5-2.4-2-2.6-1-3.4-2.5-6-3-1-1-4.6-2-1-1-1 0-1-1-8-4-1 0-1-1-1 0-3.4-2-1 0-2.6-1.5-1 0-2.4-1.5-1 0-1.6-1-1 0-1.4-1-2.6-.5-1.4-1-4-1-.6-.5-1 0-.4-.5-4-1-.6-.5-1.4 0-2-1-3.6-.5-2-1-4-.5-.4-.5-1.6 0-.4-.5-2 0-.6-.5-4.4-.5-.6-.5-2.4 0-.6-.5-2.4 0-.6-.5-2.4 0-.6-.5-3.4 0-.6-.5-4 0-.4-.5-5 0-.6-.5-8.4 0-.6-.5-20 0-.4 .5-9 0-.6 .5-6.4 0-.6 .5-5.4 0-.6 .5-4.4 0-.6 .5-8.4 .5-.6 .5-3.4 0-.6 .5-3.4 0-.6 .5-7.4 .5-.6 .5-7 .4-.4 .5-6.6 .5-.4 .5-7 .5-.6 .5-7.4 .5-.6 .5-7.4 .5-.6 .5-3.4 0-.6 .5-4 0-.4 .5-4 0-.6 .5-4.4-.1-.6 .5-5 0-.4 .5-5.6 0-.4 .5-7 0-.6 .5-7.8-.1-1.4-3 .7-6 2-7.4-1.5-2.1 4-2 1-1 1.6-.5 1-1 1.4-.5 1-1 1.6-.5 1-1 1.4-.5 1-1 1.6-.5 2.4-2 1.6-.5 3.4-2.5 1.6-.5 1-1 3-1.5 4-3 1.4-.5 5.6-4.1 1.4-.5 7-5 1.6-.5 1.4-1.5 1.6-.5 1-1 3.4-2 10-7 1.6-.5 1.4-1.5 .6 0 1-1 .4 0 1-1 .6 0 1-1 .4 0 1-1 .6 0 1-1 .4 0 1-1 .6 0 1-1 .4 0 1-1 .6 0 1-1 .4 0 1-1 .6 0 1-1 3.4-2.1 1-1 .6 0 1-1 2-1 1-1 .4 0 2.6-2 2-1 10-7 1.4-.5 1.6-1.5 1.4-.5 7-5 1.6-.5 4-3 1.4-.5 4-3 1.6-.5 1-1 .4 0 4-3 .6 0 1.4-1.5 3.6-2 9.4-7.6 .6 0 1.4-1.5 .6 0 2-2 .4 0 1.6-1.5 .4 0 5-4.5 .6 0 2-2 .4 0 2.6-2.5 .4 0 3-3 .6 0 3-3 .4 0 3-3 .6 0 13.4-12.5 .6 0 5.4-5.5 .6 0 15.4-15 .6 0 10-10 .4 0 11.6-11.5 .4 0 11.6-11.5 .4 0 9.6-9.5 .4 0 8-8 .6 0 6-6.1 .4 0 10.6-10 .4 0 8-7.5 .6 0 3-3 .4 0 11.6-10 .4 0 7-6 .6 0 1.4-1.5 .6 0 9.4-7.5 2-1 1.6-1.5 .4 0 1-1 .6 0 11.4-8 1.6-.5 1-1 3-1.5 1-1 1.4-.5 1-1 3.6-1.5 1-1 16-8 1 0 2.4-1.5 1 0 4-2 2.6-.5 1.4-1 1 0 .6-.5 4-1 .4-.5 1 0 .6-.5 1 0 .4-.5 1.6 0 2-1 3.4-.5 .6-.5 1.4 0 .6-.5 1.4 0 .6-.5 2 0 .4-.5 2 0 .6-.5 6-.6zM809.7 207.2l6.1 .6 .4 .5 2 0 .6 .5 2 0 .4 .5 1.6 0 .4 .5 1.6 0 .4 .5 3.6 .5 .4 .5 2.6 .5 .4 .5 1.6 0 2 1 1 0 .4 .5 1 0 .6 .5 1 0 .4 .5 1 0 1.6 1 2.4 .5 1.6 1 1 0 2.4 1.5 1 0 2.6 1.5 1 0 15 7.5 1 1 6 3 1 1 1.4 .5 2.6 2 1.4 .5 10 7 2 1 1 1 .6 0 1.4 1.5 2 1 9.6 7.5 .4 0 1.6 1.5 .4 0 9.6 8 .4 0 8.6 7.5 .4 0 3 3 .6 0 3.4 3.5 .6 0 3.4 3.5 .6 0 4 4 .4 0 11 10.5 .6 0 6.4 6.6 .6 0 8 8 .4 0 9.6 9.5 .4 0 10 10 .6 0 10 10 .4 0 8.6 8.5 .4 0 14 13.5 .6 0 5 5 .4 0 9 8.5 .6 0 3.4 3.5 .6 0 3.4 3.5 .6 0 3 3 .4 0 8.6 7.5 .4 0 7 6 .6 0 4 3.5 .4 0 5.6 4.5 2 1.1 3.4 3 .6 0 4 3 2 1 1.4 1.5 .6 0 2.4 2 2 1 1.6 1.5 3.4 2 1.6 1.5 2 1 3 2.5 .4 0 1.6 1.5 2 1 9.4 7.5 .6 0 1.4 1.5 .6 0 6.4 5.5 .6 0 5.4 4.5 .6 0 2 2 .4 0 1.6 1.5 .4 0 2 2 .6 0 3.4 3 .6 0 7.4 6.6 2 1 9.6 8 2 1 5 4.5 .4 0 1.6 1.5 .4 0 3.6 3 .4 0 2 2 .6 0 2 2 .4 0 1.6 1.5 .4 0 2 2 .6 0 9.4 7.5 .6 0 9.4 7.6 2 1 3.6 3 2 1 3.4 3 2 1 3.6 3 .4 0 1 1 3.6 2 .4 1-.6 1.1-.9 8-2 7 0 2.4-1.9 .1-.6-.5-5.4 0-.6-.5-5 0-.4-.5-4.6 0-.4-.5-4.6 0-.4-.5-4 0-.6-.5-3.4 0-.6-.5-7.4-.4-.6-.5-3 0-.4-.5-3.6 0-.4-.5-6.6-.5-.4-.5-2.6 0-.4-.5-6.6-.5-.4-.5-2.6 0-.4-.5-3 0-.6-.5-2.4 0-.6-.5-3 0-.4-.5-2.6 0-.4-.5-2.6 0-.4-.5-3 0-.6-.5-2.4 .1-.6-.5-2.4 0-.6-.5-3 0-.4-.5-6-.5-.6-.5-6-.5-.4-.5-3 0-.6-.5-3 0-.4-.5-3 0-.6-.5-7.4-.5-.6-.5-3.4 0-.6-.5-4 0-.4-.5-4 0-.6-.5-5 0-.4-.5-5.6 0-.4-.5-7 0-.6-.5-12.4 0-.6-.5-11 0-.4 .5-12 0-.6 .5-6 0-.4 .5-5 0-.6 .5-3.4 0-.6 .5-3.4 0-.6 .5-2.4 0-.6 .5-6 .5-.4 .5-2 0-.6 .5-2 0-.4 .5-2 0-.6 .5-2 0-.4 .5-1.6 0-.4 .5-2 0-.6 .5-1.4 0-.6 .5-1.4 0-.6 .5-1.4 0-2 1-1.6 0-2 1-1.4 0-2 1-1.6 0-.4 .5-1 0-.6 .5-2.4 .5-.6 .5-1 0-2 1-4 1-1.4 1-2.6 .5-4 2-2.4 .5-2.6 1.5-1 0-1.4 1-1 0-9 4.5-1 0-11.6 6-1 0-1 1-7.4 3.5-1 1-1 0-1 1-3.6 1.5-1 1-3.4 1.5-1 1-2.6 1-3.4 2.5-2.6 1-3.4 2.5-4 2-2.6 2-1.4 .5-3.6 2.5-1.4 .5-2.6 2-1.4 .5-1 1-2 1-1 1-1.6 .5-2.4 2-1.6 .5-1.4 1.5-1.6 .5-2.4 2-1.6 .5-1.4 1.5-3 1.5-1 1-.6 0-1 1-.4 0-1 1-.6 0-1 1-.4 0-1 1-.6 0-1 1-.4 0-1 1-.6 0-1 1-.4 0-1 1-.6 0-1 1-.4 0-1 1-.6 0-1 1-.4 0-1 1-2 .9-1 1-.6 0-1 1-.4 0-11.6 8-1.4 .5-1.6 1.5-.4 0-2.6 2-2 1-2.4 2-1.6 .5-3 2.5-1.4 .5-7 5-1.6 .5-3 2.5-1.4 .5-5.6 4-1.4 .5-2.6 1.9-1.4 .5-4 3-4 2-1.6 1.5-1.4 .5-1 1z"/>
<path fill="#4230c3" d="M759.7 652.8l-2.5-2-.4 0-1.6-1.5-.4 0-1.6-1.5-.4 0-1.6-1.5-.4 0-1.6-1.5-.4 0-1.6-1.5-.4 0-1.6-1.5-.4 0-1.6-1.5-.4 0-1.6-1.5-.4 0-1.6-1.5-2-1-6.4-5.4-.6 0-1.4-1.5-.6 0-2-2-.4 0-1.6-1.5-.4 0-3.6-3-.4 0-7-6-.6 0-3.4-3-.6 0-7-6-.4 0-1.6-1.5-.4 0-1.6-1.5-.4 0-4.6-4-.4 0-1.6-1.5-.4 0-2-2-.6 0-5.4-4.4-.6 0-2-2-.4 0-1.6-1.5-.4 0-2-2-.6 0-5.4-4.5-.6 0-5.4-4.5-2-1-3.6-3-.4 0-3-2.5-2-1-1.6-1.5-.4 0-4-3-.6 0-1.4-1.5-3.6-2-5.4-4-.6 0-5.4-4-1.6-.5-2.4-2-1.6-.5-2.4-2-2.6-1-3.4-2.5-6-3-1-1-4.6-2-1-1-1 0-1-1-8-4-1 0-1-1-1 0-3.4-2-1 0-2.6-1.5-1 0-2.4-1.5-1 0-1.6-1-1 0-1.4-1-2.6-.5-1.4-1-4-1-.6-.5-2.4-.5-.6-.5-2.4-.5-.6-.5-1.4 0-2-1-3.6-.5-2-1-4-.5-.4-.5-1.6 0-.4-.5-2 0-.6-.5-2 0-.4-.5-2 0-.6-.5-2.4 0-.6-.5-2.4 0-.6-.5-2.4 0-.6-.5-8-.5-.4-.5-5 0-.6-.5-8.4 0-.6-.5-20 0-.4 .5-9 0-.6 .5-6.4 0-.6 .5-5.4 0-.6 .5-4.4 0-.6 .5-4 0-.4 .5-4 0-.6 .5-3.4 0-.6 .5-3.4-.1-.6 .5-3.4 0-.6 .5-7 .5-.4 .5-3.6 0-.4 .5-6.6 .5-.4 .5-3.6 0-.4 .5-3 0-.6 .5-7.4 .5-.6 .5-3.4 0-.6 .5-3.4 0-.6 .5-3.4-.1-.6 .5-8.4 .5-.6 .5-4.4 0-.6 .5-5 0-.4 .5-5.6 0-.4 .5-5.7 0-.6-1.6-.1-3 .3-4.4 1-5.6 2.6-8-1.1-2.3 .6-.7 4-2 2.4-2 1.6-.5 1-1 4-2 1-1 3-1.5 4-3 1.4-.5 5.6-4 1.4-.5 1-1 2-1 4-3.1 1.6-.5 1.4-1.5 1.6-.5 1-1 3.4-2 10-7 1.6-.5 1.4-1.5 .6 0 1-1 .4 0 1-1 .6 0 1-1 .4 0 1-1 .6 0 1-1 .4 0 1-1 .6 0 1-1 .4 0 1-1 .6 0 1-1 .4 0 1-1 .6 0 1-1 3.4-2 1-1 .6 0 1-1 2-1 1-1 .4 0 2.6-2 2-1 10-7.1 1.4-.5 1.6-1.5 1.4-.5 7-5 1.6-.5 4-3 1.4-.5 4-3 1.6-.5 1-1 .4 0 4-3 .6 0 1.4-1.5 3.6-2 9.4-7.5 .6 0 1.4-1.5 .6 0 2-2 .4 0 1.6-1.6 .4 0 5-4.5 .6 0 2-2 .4 0 2.6-2.5 .4 0 3-3 .6 0 3-3 .4 0 3-3 .6 0 13.4-12.5 .6 0 5.4-5.5 .6 0 15.4-15 .6 0 10-10 .4 0 11.6-11.5 .4 0 11.6-11.5 .4 0 9.6-9.5 .4 0 8-8 .6 0 12-11.5 .4 0 4.6-4.5 .4 0 11.6-10.6 .4 0 6-5.5 .6 0 2-2 .4 0 2.6-2.5 .4 0 7-6 .6 0 1.4-1.5 .6 0 9.4-7.5 2-1 1.6-1.5 .4 0 1-1 .6 0 11.4-8 1.6-.5 2.4-2 1.6-.5 3.4-2.5 3.6-1.5 1-1 16-8 1 0 2.4-1.5 1 0 4-2 2.6-.5 1.4-1 1 0 .6-.5 4-1 .4-.5 1 0 .6-.5 1 0 .4-.5 1.6 0 2-1 3.4-.5 .6-.5 1.4 0 .6-.5 1.4 0 .6-.5 2 0 .4-.5 2 0 .6-.5 6-.6zM809.7 207.2l6.1 .6 .4 .5 2 0 .6 .5 2 0 .4 .5 1.6 0 .4 .5 1.6 0 .4 .5 3.6 .5 .4 .5 2.6 .5 .4 .5 1.6 0 2 1 1 0 .4 .5 1 0 .6 .5 1 0 .4 .5 1 0 1.6 1 1 0 3 1.5 1 0 2.4 1.5 1 0 2.6 1.5 1 0 15 7.5 1 1 6 3 1 1 1.4 .5 2.6 2 1.4 .5 10 7 2 1 1 1 .6 0 1.4 1.5 2 1 9.6 7.5 .4 0 1.6 1.5 .4 0 9.6 8 .4 0 8.6 7.5 .4 0 3 3 .6 0 3.4 3.5 .6 0 3.4 3.6 .6 0 4 4 .4 0 11 10.5 .6 0 6.4 6.5 .6 0 8 8 .4 0 9.6 9.5 .4 0 10 10 .6 0 10 10 .4 0 8.6 8.5 .4 0 14 13.5 .6 0 5 5 .4 0 9 8.5 .6 0 3.4 3.5 .6 0 3.4 3.5 .6 0 3 3 .4 0 8.6 7.5 .4 0 7 6 .6 0 4 3.6 .4 0 5.6 4.5 2 1 3.4 3 .6 0 4 3 2 1 1.4 1.5 .6 0 2.4 2 2 1 1.6 1.5 3.4 2 1.6 1.5 .4 0 3 2.5 2 1 1.6 1.5 2 1 9.4 7.5 .6 0 1.4 1.5 .6 0 6.4 5.5 .6 0 5.4 4.5 .6 0 2 2.1 .4 0 1.6 1.5 .4 0 2 2 .6 0 3.4 3 .6 0 7.4 6.5 2 1 9.6 8 2 1 5 4.5 .4 0 1.6 1.5 .4 0 3.6 3 .4 0 2 2 .6 0 2 2 .4 0 1.6 1.5 .4 0 2 2.1 .6 0 9.4 7.5 .6 0 9.4 7.5 2 1 3.6 3 2 1 3.4 3 .6 0 .4 .8-1.1 2.3-.6 8.4-1.6 6.6-2 5 0 2.4-1.7 .1-.4-.5-4.6 0-.4-.5-4.6 0-.4-.5-4 0-.6-.5-3.4 0-.6-.5-7.4-.5-.6-.5-3 0-.4-.5-3.6 0-.4-.5-6.6-.4-.4-.5-2.6 0-.4-.5-3 0-.6-.5-6-.5-.4-.5-3 0-.6-.5-2.4 0-.6-.5-3 0-.4-.5-5.6-.5-.4-.5-3 0-.6-.5-2.4 0-.6-.5-2.4 0-.6-.5-3 0-.4-.5-2.6 0-.4-.5-3 0-.6-.5-2.4 .1-.6-.5-6.4-.5-.6-.5-6.4-.5-.6-.5-3.4 0-.6-.5-3.4 0-.6-.5-3.4 0-.6-.5-8.4-.5-.6-.5-5 0-.4-.5-5.6 0-.4-.5-7 0-.6-.5-12.4 0-.6-.5-11 0-.4 .5-12 0-.6 .5-6 0-.4 .5-5 0-.6 .5-3.4 0-.6 .5-3.4 0-.6 .5-6 .5-.4 .5-2.6 0-.4 .5-4.6 .5-.4 .5-4.6 .5-.4 .5-1.6 0-.4 .5-2 0-.6 .5-3.4 .5-.6 .5-1.4 0-2 1-1.6 0-2 1-1.4 0-2 1-1.6 0-.4 .5-1 0-.6 .5-2.4 .5-.6 .5-1 0-2 1-4 1-1.4 1-2.6 .5-4 2-2.4 .5-2.6 1.5-1 0-1.4 1-1 0-3.6 2-1 0-17 8.5-1 0-1 1-7.4 3.5-1 1-1 0-1 1-3.6 1.5-1 1-7 3.5-3.4 2.5-2.6 1-3.4 2.5-4 2-2.6 2-1.4 .5-3.6 2.5-1.4 .5-2.6 2-1.4 .5-4 3-1.6 .5-2.4 2-1.6 .5-1.4 1.5-1.6 .5-2.4 2-1.6 .5-1.4 1.5-3 1.5-1 1-.6 0-1 1-.4 0-1 1-.6 0-1 .9-.4 0-1 1-.6 0-1 1-.4 0-1 1-.6 0-1 1-.4 0-1 1-.6 0-1 1-.4 0-1 1-.6 0-1 1-.4 0-1 1-2 1-1 1-.6 0-1 1-.4 0-11.6 8-1.4 .5-1.6 1.5-.4 0-2.6 2-2 1-2.4 2-1.6 .5-3 2.5-1.4 .5-7 5-1.6 .5-3 2.4-1.4 .5-5.6 4-1.4 .5-2.6 2-1.4 .5-4 3-4 2-1.6 1.5-1.4 .5-1 1z"/>
<path fill="#4332ca" d="M809.7 207.2l6.1 .6 .4 .5 2 0 .6 .5 2 0 .4 .5 1.6 0 .4 .5 1.6 0 .4 .5 3.6 .5 .4 .5 2.6 .5 .4 .5 1.6 0 2 1 1 0 .4 .5 1 0 .6 .5 1 0 .4 .5 1 0 1.6 1 1 0 3 1.5 1 0 2.4 1.5 1 0 2.6 1.5 1 0 15 7.5 1 1 6 3 1 1 1.4 .5 2.6 2 1.4 .5 10 7 2 1 1 1 .6 0 1.4 1.5 2 1 9.6 7.5 .4 0 1.6 1.5 .4 0 9.6 8.1 .4 0 8.6 7.5 .4 0 3 3 .6 0 3.4 3.5 .6 0 3.4 3.5 .6 0 4 4 .4 0 11 10.5 .6 0 6.4 6.5 .6 0 8 8 .4 0 9.6 9.5 .4 0 10 10 .6 0 10 10 .4 0 8.6 8.5 .4 0 14 13.5 .6 0 5 5 .4 0 9 8.5 .6 0 3.4 3.5 .6 0 3.4 3.5 .6 0 3 3 .4 0 8.6 7.6 .4 0 7 6 .6 0 4 3.5 .4 0 5.6 4.5 2 1 3.4 3 .6 0 4 3 2 1 1.4 1.5 .6 0 2.4 2 2 1 1.6 1.5 3.4 2 1.6 1.5 .4 0 3 2.5 2 1 1.6 1.5 2 1 9.4 7.5 .6 0 1.4 1.6 .6 0 6.4 5.5 .6 0 5.4 4.5 .6 0 2 2 .4 0 1.6 1.5 .4 0 2 2 .6 0 3.4 3 .6 0 7.4 6.5 2 1 9.6 8 2 1 5 4.5 .4 0 1.6 1.5 .4 0 1.6 1.6 .4 0 1.6 1.5 .4 0 2 2 .6 0 4 3.5 .4 0 2 2 .6 0 1.4 1.5 .6 0 3.4 3 .6 0 3.4 3 .6 0 9.4 7.5 2 1 .6 1-1.6 1.5 .1 8-1 6.6-2 6.4-2.4 5.6 0 2.4-.7 .1-.4-.5-4 0-.6-.5-3.4 0-.6-.5-3.4 0-.6-.5-3.4 0-.6-.5-3 0-.4-.5-3.6 0-.4-.5-3 0-.6-.5-3 0-.4-.5-2.6 0-.4-.5-6.6-.4-.4-.5-2.6 0-.4-.5-3 0-.6-.5-2.4 0-.6-.5-3 0-.4-.5-2.6 0-.4-.5-2.6 0-.4-.5-3 0-.6-.5-5.4-.5-.6-.5-3 0-.4-.5-6-.5-.6-.5-2.4 0-.6-.5-6.4-.5-.6-.5-3 0-.4-.5-3 0-.6-.5-7.4-.4-.6-.5-3.4 0-.6-.5-4 0-.4-.5-4 0-.6-.5-5 0-.4-.5-5.6 0-.4-.5-7 0-.6-.5-12.4 0-.6-.5-11 0-.4 .5-12 0-.6 .5-6 0-.4 .5-5 0-.6 .5-3.4 0-.6 .5-3.4 0-.6 .5-2.4 0-.6 .5-6 .5-.4 .5-2 0-.6 .5-2 0-.4 .5-2 0-.6 .5-2 0-.4 .5-1.6 0-.4 .5-2 0-.6 .5-3.4 .5-.6 .5-1.4 0-2 1-1.6 0-2 1-1.4 0-2 1-1.6 0-.4 .5-1 0-.6 .5-2.4 .5-.6 .5-1 0-2 1-4 1-1.4 1-2.6 .5-4 2-2.4 .5-2.6 1.5-1 0-1.4 1-1 0-9 4.5-1 0-11.6 6-1 0-1 1-7.4 3.5-1 1-1 0-1 1-3.6 1.5-1 1-3.4 1.5-1 1-2.6 1-3.4 2.5-2.6 1-3.4 2.5-4 2-2.6 2-1.4 .5-3.6 2.5-1.4 .5-2.6 2-1.4 .5-4 3-3 1.5-1 1-1.6 .4-1.4 1.5-1.6 .5-2.4 2-1.6 .5-1.4 1.5-3 1.5-1 1-.6 0-1 1-.4 0-1 1-.6 0-1 1-.4 0-1 1-.6 0-1 1-.4 0-1 1-.6 0-1 1-.4 0-1 1-.6 0-1 1-.4 0-1 1-.6 0-1 1-.4 0-1 1-2 1-1 1-.6 0-1 1-.4 0-11.6 8-1.4 .5-1.6 1.5-.4 0-2.6 2-2 1-2.4 2-1.6 .5-3 2.4-1.4 .5-7 5-1.6 .5-3 2.5-1.4 .5-5.6 4-1.4 .5-2.6 2-1.4 .5-4 3-4 2-1.6 1.5-2 .5-.5-1.6-1.5-.5-3.4 0-1.6 1.5-1.4-.4-9.6-7.5-.4 0-1.6-1.5-.4 0-1.6-1.5-.4 0-1.6-1.5-.4 0-1.6-1.5-2-1-6.4-5.5-.6 0-1.4-1.5-.6 0-2-2-.4 0-1.6-1.5-.4 0-3.6-2.9-.4 0-7-6-.6 0-1.4-1.5-.6 0-1.4-1.5-.6 0-4.4-4-.6 0-2-2-.4 0-1.6-1.5-.4 0-1.6-1.5-.4 0-4.6-4-.4 0-1.6-1.5-.4 0-2-2-.6 0-5.4-4.5-.6 0-2-2-.4 0-1.6-1.5-.4 0-2-2-.6 0-5.4-4.4-.6 0-5.4-4.5-2-1-3.6-3-2-1-3-2.5-.4 0-1.6-1.5-2-1-2.4-2-.6 0-1.4-1.5-3.6-2-5.4-4-.6 0-5.4-4-1.6-.5-2.4-2-1.6-.5-2.4-2-2.6-1-3.4-2.5-6-3-1-1-4.6-2-1-1-1 0-1-1-8-4-1 0-1-1-1 0-3.4-2-1 0-2.6-1.5-1 0-2.4-1.5-1 0-1.6-1-1 0-1.4-1-2.6-.5-1.4-1-4-1-.6-.5-2.4-.5-.6-.5-2.4-.5-.6-.5-1.4 0-2-1-3.6-.5-2-1-4-.5-.4-.5-1.6 0-.4-.5-2 0-.6-.5-2 0-.4-.5-2 0-.6-.5-2.4 0-.6-.5-2.4 0-.6-.5-2.4 0-.6-.5-3.4 0-.6-.5-4 0-.4-.5-5 0-.6-.5-8.4 0-.6-.5-20 0-.4 .5-9 0-.6 .5-6.4 0-.6 .5-5.4 0-.6 .5-4.4-.1-.6 .5-4 0-.4 .5-4 0-.6 .5-3.4 0-.6 .5-3.4 0-.6 .5-3.4 0-.6 .5-7 .5-.4 .5-3.6 0-.4 .5-6.6 .5-.4 .5-3.6 0-.4 .5-3 0-.6 .5-7.4 .4-.6 .5-3.4 0-.6 .5-3.4 0-.6 .5-3.4 0-.6 .5-4 0-.4 .5-4 0-.6 .5-4.4 0-.6 .5-5 0-.4 .5-2.3-.1-.4-8.4 .6-6 1.6-7 3.1-7.6 0-1-.6-1.1 .4-.9 1.6-.5 2.4-2 1.6-.5 4-3 1.4-.5 1-1 2-1 2.6-2 1.4-.5 7-5 1.6-.5 1.4-1.5 1.6-.5 1-1 3.4-2 10-7.1 1.6-.5 1.4-1.5 .6 0 1-1 .4 0 1-1 .6 0 1-1 .4 0 1-1 .6 0 1-1 .4 0 1-1 .6 0 1-1 .4 0 1-1 .6 0 1-1 .4 0 1-1 .6 0 1-1 3.4-2 1-1 .6 0 1-1 2-1 1-1 .4 0 2.6-2 2-1 10-7 1.4-.5 1.6-1.5 1.4-.5 7-5.1 1.6-.5 4-3 1.4-.5 4-3 1.6-.5 1-1 .4 0 4-3 .6 0 1.4-1.5 3.6-2 9.4-7.5 .6 0 1.4-1.5 .6 0 2-2 .4 0 1.6-1.5 .4 0 5-4.5 .6 0 2-2.1 .4 0 2.6-2.5 .4 0 3-3 .6 0 3-3 .4 0 3-3 .6 0 13.4-12.5 .6 0 5.4-5.5 .6 0 15.4-15 .6 0 10-10 .4 0 11.6-11.5 .4 0 11.6-11.5 .4 0 9.6-9.5 .4 0 8-8 .6 0 12-11.5 .4 0 4.6-4.5 .4 0 11.6-10.5 .4 0 6-5.5 .6 0 2-2 .4 0 2.6-2.5 .4 0 7-6.1 .6 0 1.4-1.5 .6 0 9.4-7.5 2-1 1.6-1.5 .4 0 1-1 .6 0 11.4-8 1.6-.5 2.4-2 1.6-.5 3.4-2.5 3.6-1.5 1-1 16-8 1 0 2.4-1.5 1 0 4-2 2.6-.5 1.4-1 1 0 .6-.5 4-1 .4-.5 1 0 .6-.5 1 0 .4-.5 1.6 0 2-1 3.4-.5 .6-.5 1.4 0 .6-.5 1.4 0 .6-.5 2 0 .4-.5 2 0 .6-.5 6-.6z"/>
<path fill="#4435d1" d="M809.7 207.2l6.1 .6 .4 .5 2 0 .6 .5 2 0 .4 .5 1.6 0 .4 .5 1.6 0 .4 .5 3.6 .5 .4 .5 2.6 .5 .4 .5 1.6 0 2 1 1 0 .4 .5 1 0 .6 .5 1 0 .4 .5 1 0 1.6 1 1 0 3 1.5 1 0 2.4 1.5 1 0 2.6 1.5 1 0 15 7.5 1 1 6 3 1 1 1.4 .5 2.6 2 1.4 .5 10 7.1 2 1 1 1 .6 0 1.4 1.5 2 1 9.6 7.5 .4 0 1.6 1.5 .4 0 9.6 8 .4 0 8.6 7.5 .4 0 3 3 .6 0 3.4 3.5 .6 0 3.4 3.5 .6 0 4 4 .4 0 11 10.5 .6 0 6.4 6.5 .6 0 8 8 .4 0 9.6 9.5 .4 0 10 10 .6 0 10 10 .4 0 8.6 8.5 .4 0 14 13.5 .6 0 5 5 .4 0 9 8.5 .6 0 3.4 3.5 .6 0 3.4 3.5 .6 0 3 3.1 .4 0 8.6 7.5 .4 0 7 6 .6 0 4 3.5 .4 0 5.6 4.5 2 1 3.4 3 .6 0 5.4 4 .6 0 1.4 1.5 .6 0 2.4 2 2 1 1.6 1.5 3.4 2 1.6 1.5 2 1 3 2.5 .4 0 1.6 1.6 2 1 9.4 7.5 .6 0 1.4 1.5 .6 0 6.4 5.5 .6 0 5.4 4.5 .6 0 2 2 .4 0 1.6 1.5 .4 0 2 2 .6 0 1.4 1.5 .6 0 1.4 1.5 .6 0 7.4 6.5 2 1 9.6 8.1 2 1 5 4.5 .4 0 3.6 3 .4 0 1.6 1.5 .4 0 2 2 .6 0 4 3.5 .4 0 2 2 .6 0 1.4 1.5 .6 0 3.4 3 .6 0 5.4 4.5 .6 0 .4 1-1.5 1.5 .8 8-.7 7-1.6 6.6-2.5 6-2.4 4.4 0 2.6-2.5 0-.6-.5-3.4 0-.6-.5-3 0-.4-.5-3.6 0-.4-.5-3 0-.6-.5-3 0-.4-.5-2.6 0-.4-.5-6.6-.5-.4-.5-2.6 0-.4-.5-3 0-.6-.5-2.4 .1-.6-.5-3 0-.4-.5-2.6 0-.4-.5-2.6 0-.4-.5-3 0-.6-.5-2.4 0-.6-.5-2.4 0-.6-.5-3 0-.4-.5-6-.5-.6-.5-2.4 0-.6-.5-6.4-.5-.6-.5-3 0-.4-.5-3 0-.6-.5-7.4-.5-.6-.5-3.4 0-.6-.5-4 0-.4-.5-4 .1-.6-.5-5 0-.4-.5-5.6 0-.4-.5-7 0-.6-.5-12.4 0-.6-.5-11 0-.4 .5-12 0-.6 .5-6 0-.4 .5-5 0-.6 .5-3.4 0-.6 .5-3.4 0-.6 .5-2.4 0-.6 .5-6 .5-.4 .5-2 0-.6 .5-2 0-.4 .5-2 0-.6 .5-2 0-.4 .5-1.6 0-.4 .5-2 0-.6 .5-3.4 .5-.6 .5-1.4 0-2 1-1.6 0-2 1-1.4 0-2 1-1.6 0-.4 .5-1 0-.6 .5-2.4 .5-.6 .5-1 0-2 1-4 1-1.4 1-2.6 .5-4 2-2.4 .5-2.6 1.5-1 0-1.4 1-1 0-9 4.5-1 0-11.6 6-1 0-1 1-7.4 3.5-1 1-1 0-1 1-3.6 1.5-1 1-3.4 1.5-1 1-2.6 1-3.4 2.5-2.6 1-3.4 2.5-4 2-2.6 2-1.4 .5-3.6 2.4-1.4 .5-2.6 2-1.4 .5-4 3-3 1.5-1 1-1.6 .5-1.4 1.5-1.6 .5-2.4 2-1.6 .5-1.4 1.5-3 1.5-1 1-.6 0-1 1-.4 0-1 1-.6 0-1 1-.4 0-1 1-.6 0-1 1-.4 0-1 1-.6 0-1 1-.4 0-1 1-.6 0-1 1-.4 0-1 1-.6 0-1 1-.4 0-1 1-2 1-1 1-.6 0-1 1-.4 0-11.6 8-1.4 .4-1.6 1.5-.4 0-2.6 2-2 1-2.4 2-1.6 .5-3 2.5-1.4 .5-7 5-1.6 .5-3 2.5-1.4 .5-5.6 4-3 1.5-1 1-2 .6-1-1.8-2.4-.1-22.6-.3-2 1.6-5-4-.4 0-1.6-1.5-.4 0-1.6-1.5-2-1-6.4-5.5-.6 0-1.4-1.5-.6 0-2-2-.4 0-1.6-1.5-.4 0-3.6-3-.4 0-7-5.9-.6 0-1.4-1.5-.6 0-1.4-1.5-.6 0-2-2-.4 0-2-2-.6 0-2-2-.4 0-1.6-1.5-.4 0-1.6-1.5-.4 0-4.6-4-.4 0-1.6-1.5-.4 0-2-2-.6 0-5.4-4.5-.6 0-2-2-.4 0-1.6-1.5-.4 0-2-2-.6 0-5.4-4.5-.6 0-5.4-4.5-2-1-3.6-3-.4 0-3-2.5-2-.9-1.6-1.5-.4 0-4-3-.6 0-1.4-1.5-.6 0-7-5-2-1-5.4-4-1.6-.5-2.4-2-1.6-.5-2.4-2-2.6-1-3.4-2.5-6-3-1-1-4.6-2-1-1-1 0-1-1-8-4-1 0-1-1-1 0-3.4-2-1 0-2.6-1.5-1 0-2.4-1.5-1 0-1.6-1-1 0-1.4-1-2.6-.5-1.4-1-4-1-.6-.5-1 0-.4-.5-4-1-.6-.5-1.4 0-2-1-3.6-.5-2-1-4-.5-.4-.5-1.6 0-.4-.5-2 0-.6-.5-4.4-.5-.6-.5-2.4 0-.6-.5-2.4 0-.6-.5-2.4 0-.6-.5-3.4 0-.6-.5-4 0-.4-.5-5 0-.6-.5-8.4 0-.6-.5-20 0-.4 .5-9 0-.6 .5-6.4-.1-.6 .5-5.4 0-.6 .5-4.4 0-.6 .5-8.4 .5-.6 .5-3.4 0-.6 .5-3.4 0-.6 .5-3.4 0-.6 .5-3.4 0-.6 .5-3 0-.4 .5-3.6 0-.4 .5-3 0-.6 .5-3 0-.4 .5-7 .4-.6 .5-3.4 0-.6 .5-7.4 .5-.6 .5-3.4 0-.6 .5-3.4 0-.6 .5-4 0-.4 .5-4 0-.6 .5-3-.1-1-8.4 .1-6.6 .8-5 1.3-4.4 1.9-5 2.9-5.6-1.5-1.4 .1-.6 1.4-.5 5.6-4 1.4-.5 7-5 1.6-.5 1.4-1.5 1.6-.5 1-1 3.4-2 10-7 1.6-.5 1.4-1.5 .6 0 1-1 .4 0 1-1.1 .6 0 1-1 .4 0 1-1 .6 0 1-1 .4 0 1-1 .6 0 1-1 .4 0 1-1 .6 0 1-1 .4 0 1-1 .6 0 1-1 3.4-2 1-1 .6 0 1-1 2-1 1-1 .4 0 2.6-2 2-1 10-7 1.4-.5 1.6-1.5 1.4-.5 7-5 1.6-.5 4-3 1.4-.5 4-3.1 1.6-.5 1-1 .4 0 4-3 .6 0 1.4-1.5 3.6-2 9.4-7.5 .6 0 1.4-1.5 .6 0 2-2 .4 0 1.6-1.5 .4 0 5-4.5 .6 0 2-2 .4 0 2.6-2.5 .4 0 3-3 .6 0 3-3 .4 0 3-3.1 .6 0 13.4-12.5 .6 0 5.4-5.5 .6 0 15.4-15 .6 0 10-10 .4 0 11.6-11.5 .4 0 11.6-11.5 .4 0 9.6-9.5 .4 0 8-8 .6 0 6-6 .4 0 10.6-10 .4 0 8-7.5 .6 0 3-3 .4 0 11.6-10 .4 0 7-6 .6 0 1.4-1.5 .6 0 9.4-7.5 2-1 1.6-1.5 .4 0 1-1 .6 0 11.4-8.1 1.6-.5 1-1 3-1.5 1-1 1.4-.5 1-1 3.6-1.5 1-1 16-8 1 0 2.4-1.5 1 0 4-2 2.6-.5 1.4-1 1 0 .6-.5 4-1 .4-.5 2.6-.5 .4-.5 1.6 0 2-1 3.4-.5 .6-.5 1.4 0 .6-.5 1.4 0 .6-.5 2 0 .4-.5 2 0 .6-.5 6-.6z"/>
<path fill="#4538d8" d="M809.7 207.2l6.1 .6 .4 .5 2 0 .6 .5 2 0 .4 .5 1.6 0 .4 .5 1.6 0 .4 .5 3.6 .5 .4 .5 2.6 .5 .4 .5 1.6 0 2 1 1 0 .4 .5 1 0 .6 .5 1 0 .4 .5 1 0 1.6 1 1 0 3 1.5 1 0 2.4 1.5 1 0 2.6 1.5 1 0 15 7.6 1 1 6 3 1 1 1.4 .5 2.6 2 1.4 .5 10 7 2 1 1 1 .6 0 1.4 1.5 2 1 9.6 7.5 .4 0 1.6 1.5 .4 0 9.6 8 .4 0 8.6 7.5 .4 0 3 3 .6 0 3.4 3.5 .6 0 3.4 3.5 .6 0 4 4 .4 0 11 10.5 .6 0 6.4 6.5 .6 0 8 8 .4 0 9.6 9.5 .4 0 10 10 .6 0 10 10 .4 0 8.6 8.5 .4 0 14 13.5 .6 0 5 5 .4 0 9 8.5 .6 0 3.4 3.6 .6 0 3.4 3.5 .6 0 3 3 .4 0 8.6 7.5 .4 0 7 6 .6 0 4 3.5 .4 0 5.6 4.5 2 1 3.4 3 .6 0 5.4 4 .6 0 1.4 1.5 .6 0 4 3.1 .4 0 1.6 1.5 3.4 2 1.6 1.5 2 1 3 2.5 .4 0 1.6 1.5 2 1 9.4 7.5 .6 0 1.4 1.5 .6 0 6.4 5.5 .6 0 5.4 4.5 .6 0 2 2 .4 0 1.6 1.5 .4 0 2 2 .6 0 3.4 3 .6 0 7.4 6.5 2 1.1 9.6 8 2 1 5 4.5 .4 0 3.6 3 .4 0 6.6 5.5 .4 0 4 3.5 .6 0 1.4 1.5 .6 0 1 1-1.1 2.6 1 5.4 .3 5.6-1 8.4-2.7 8-3 6-3.2 5 0 1-6.3-.4-.6-.5-3 0-.4-.5-2.6 0-.4-.5-3 0-.6-.5-3 0-.4-.5-2.6 0-.4-.5-3 0-.6-.5-2.4 0-.6-.5-3 0-.4-.5-5.6-.5-.4-.5-3 .1-.6-.5-5.4-.5-.6-.5-3 0-.4-.5-2.6 0-.4-.5-6-.5-.6-.5-6.4-.5-.6-.5-3 0-.4-.5-3 0-.6-.5-7.4-.5-.6-.5-3.4 0-.6-.5-4 0-.4-.5-4 0-.6-.5-5 0-.4-.5-5.6 0-.4-.5-7 .1-.6-.5-12.4 0-.6-.5-11 0-.4 .5-12 0-.6 .5-6 0-.4 .5-5 0-.6 .5-3.4 0-.6 .5-3.4 0-.6 .5-2.4 0-.6 .5-3 0-.4 .5-2.6 0-.4 .5-2 0-.6 .5-2 0-.4 .5-4.6 .5-.4 .5-1.6 0-.4 .5-2 0-.6 .5-3.4 .5-.6 .5-1.4 0-2 1-1.6 0-2 1-1.4 0-2 1-1.6 0-.4 .5-1 0-.6 .5-2.4 .5-.6 .5-1 0-2 1-4 1-1.4 1-2.6 .5-4 2-2.4 .5-2.6 1.5-1 0-6 3-1 0-4.4 2.5-1 0-11.6 6-1 0-1 1-7.4 3.5-1 1-1 0-1 1-3.6 1.5-1 1-3.4 1.5-1 .9-5 2.5-1 1-2.6 1-3.4 2.5-4 2-2.6 2-1.4 .5-3.6 2.5-1.4 .5-2.6 2-1.4 .5-4 3-3 1.5-1 1-1.6 .5-1.4 1.5-1.6 .5-2.4 2-1.6 .5-3 2.5-1.4 .5-1 1-.6 0-1 1-.4 0-1 1-.6 0-1 1-.4 0-1 1-.6 0-1 1-.4 0-1 1-.6 0-1 1-.4 0-1 1-.6 0-1 1-2 1-1 1-.4 0-1 1-2 1-10 6.9-2 1-2.6 2-1.4 .5-1.6 1.5-.4 0-4 3-.6 0-2.4 2-1.6 .5-1.4 1.5-3 1.5-7 5-1.6 .5-1.4 1.5-.6 0-2 1.5-1 .3-1.4-1.6-44.6-.8-1.4 2-2-1.4-.6 0-6.4-5.5-.6 0-1.4-1.5-.6 0-2-2-.4 0-1.6-1.5-.4 0-1.6-1.5-.4 0-1.6-1.5-.4 0-7-6-.6 0-1.4-1.5-.6 0-1.4-1.5-.6 0-2-2-.4 0-2-2-.6 0-2-1.9-.4 0-1.6-1.5-.4 0-1.6-1.5-.4 0-4.6-4-.4 0-1.6-1.5-.4 0-2-2-.6 0-5.4-4.5-.6 0-2-2-.4 0-1.6-1.5-.4 0-2-2-.6 0-5.4-4.5-.6 0-5.4-4.5-2-1-3.6-3-2-1-3-2.5-.4 0-1.6-1.5-2-1-2.4-2-.6 0-1.4-1.5-.6 0-7-5-2-.9-5.4-4-1.6-.5-2.4-2-1.6-.5-2.4-2-2.6-1-3.4-2.5-6-3-1-1-4.6-2-1-1-1 0-1-1-8-4-1 0-1-1-1 0-3.4-2-1 0-2.6-1.5-1 0-2.4-1.5-1 0-1.6-1-1 0-1.4-1-2.6-.5-1.4-1-4-1-.6-.5-2.4-.5-.6-.5-2.4-.5-.6-.5-1.4 0-2-1-3.6-.5-2-1-4-.5-.4-.5-1.6 0-.4-.5-2 0-.6-.5-2 0-.4-.5-2 0-.6-.5-2.4 0-.6-.5-2.4 0-.6-.5-2.4 0-.6-.5-3.4 0-.6-.5-4 0-.4-.5-5 0-.6-.5-8.4 0-.6-.5-20-.1-.4 .5-9 0-.6 .5-6.4 0-.6 .5-5.4 0-.6 .5-4.4 0-.6 .5-4 0-.4 .5-4 0-.6 .5-7.4 .5-.6 .5-3.4 0-.6 .5-3.4 0-.6 .5-3 0-.4 .5-3.6 0-.4 .5-6.6 .4-.4 .5-3.6 0-.4 .5-3 0-.6 .5-7.4 .5-.6 .5-3.4 0-.6 .5-3.4 0-.6 .5-3.4 0-.6 .5-2.6-.1-.4-.4-1.6-11.6 .1-5 .5-4 2.6-9 1.8-4 3.6-6-.1-1-.9-1.3 .6-.7 .4 0 4-3 1.6-.5 1.4-1.5 1.6-.5 1-1 3.4-2 10-7 1.6-.5 1.4-1.5 .6 0 1-1 .4 0 1-1 .6 0 1-1 .4 0 1-1 .6 0 1-1 .4 0 1-1 .6 0 1-1 .4 0 1-1 .6 0 1-1 .4 0 1-1.1 .6 0 1-1 3.4-2 1-1 .6 0 1-1 2-1 1-1 2-1 2.4-2 .6 0 10-7 1.4-.5 1.6-1.5 1.4-.5 7-5 1.6-.5 4-3 1.4-.5 4-3 1.6-.5 1-1.1 .4 0 4-3 .6 0 1.4-1.5 3.6-2 9.4-7.5 .6 0 1.4-1.5 .6 0 6.4-5.5 .6 0 2.4-2.5 .6 0 5-4.5 .4 0 3-3 .6 0 3-3 .4 0 3-3 .6 0 13.4-12.6 .6 0 5.4-5.5 .6 0 15.4-15 .6 0 10-10 .4 0 11.6-11.5 .4 0 11.6-11.5 .4 0 9.6-9.5 .4 0 8-8 .6 0 6-6 .4 0 10.6-10 .4 0 8-7.5 .6 0 3-3 .4 0 11.6-10 .4 0 7-6 .6 0 1.4-1.5 .6 0 9.4-7.5 2-1 1.6-1.5 .4 0 1-1 .6 0 11.4-8 1.6-.5 1-1 3-1.5 1-1 1.4-.5 1-1 3.6-1.5 1-1 16-8.1 1 0 2.4-1.5 1 0 4-2 2.6-.5 1.4-1 1 0 .6-.5 4-1 .4-.5 2.6-.5 .4-.5 1.6 0 2-1 3.4-.5 .6-.5 1.4 0 .6-.5 1.4 0 .6-.5 2 0 .4-.5 2 0 .6-.5 6-.6z"/>
<path fill="#463cde" d="M809.6 207.2l6.2 .7 .4 .5 2 0 .6 .5 2 0 .4 .5 1.6 0 .4 .5 1.6 0 .4 .5 3.6 .5 .4 .5 2.6 .5 .4 .5 1.6 0 2 1 1 0 .4 .5 1 0 .6 .5 1 0 .4 .5 1 0 1.6 1 2.4 .5 1.6 1 1 0 2.4 1.5 1 0 2.6 1.5 1 0 15 7.5 1 1 6 3 1 1 1.4 .5 2.6 2 1.4 .5 10 7 2 1 1 1 .6 0 1.4 1.5 2 1 9.6 7.5 .4 0 1.6 1.5 .4 0 9.6 8 .4 0 8.6 7.5 .4 0 3 3 .6 0 3.4 3.5 .6 0 3.4 3.5 .6 0 4 4 .4 0 11 10.5 .6 0 6.4 6.5 .6 0 8 8 .4 0 9.6 9.5 .4 0 10 10 .6 0 10 10 .4 0 8.6 8.5 .4 0 14 13.5 .6 0 5 5 .4 0 9 8.6 .6 0 3.4 3.5 .6 0 3.4 3.5 .6 0 3 3 .4 0 8.6 7.5 .4 0 7 6 .6 0 4 3.5 .4 0 5.6 4.5 2 1 3.4 3 .6 0 4 3.1 2 1 1.4 1.5 .6 0 2.4 2 2 1 1.6 1.5 3.4 2 1.6 1.5 .4 0 3 2.5 2 1 1.6 1.5 2 1 9.4 7.5 .6 0 1.4 1.5 .6 0 6.4 5.5 .6 0 5.4 4.5 .6 0 2 2 .4 0 1.6 1.5 .4 0 2 2 .6 0 1.4 1.6 .6 0 1.4 1.5 .6 0 7.4 6.5 2 1 9.6 8 2 1 5 4.5 .4 0 1.6 1.5 .4 0 3.6 3 .4 0 2 2 .6 0 1.5 1.6-1.3 2.4 1.3 5 .6 4 0 6.6-.7 5.4-1.9 6.6-2 5-6.4 10 0 2.4-.7 .1-.4-.5-2.6 0-.4-.5-3 0-.6-.5-6-.5-.4-.5-6-.5-.6-.5-3 0-.4-.5-2.6 0-.4-.5-2.6 0-.4-.5-3 0-.6-.5-2.4 0-.6-.5-2.4 0-.6-.5-3 0-.4-.5-2.6 .1-.4-.5-3 0-.6-.5-2.4 0-.6-.5-6.4-.5-.6-.5-3 0-.4-.5-3 0-.6-.5-7.4-.5-.6-.5-3.4 0-.6-.5-4 0-.4-.5-4 0-.6-.5-5 0-.4-.5-5.6 0-.4-.5-7 0-.6-.5-12.4 0-1-.5-10.6 .1-.4 .5-12 0-.6 .5-6 0-.4 .5-5 0-.6 .5-3.4 0-.6 .5-3.4 0-.6 .5-6 .5-.4 .5-2.6 0-.4 .5-4.6 .5-.4 .5-4.6 .5-.4 .5-1.6 0-.4 .5-2 0-.6 .5-3.4 .5-.6 .5-1.4 0-2 1-1.6 0-2 1-1.4 0-2 1-1.6 0-.4 .5-1 0-.6 .5-2.4 .5-.6 .5-1 0-2 1-4 1-1.4 1-2.6 .5-4 2-2.4 .5-2.6 1.5-1 0-6 3-1 0-4.4 2.5-1 0-11.6 5.9-1 0-1 1-7.4 3.5-1 1-1 0-1 1-3.6 1.5-1 1-3.4 1.5-1 1-5 2.5-1 1-2.6 1-3.4 2.5-4 2-2.6 2-1.4 .5-3.6 2.5-1.4 .5-2.6 2-1.4 .5-4 3-3 1.5-1 1-1.6 .5-1.4 1.5-1.6 .5-2.4 2-1.6 .5-1.4 1.5-3 1.5-1 1-.6 0-1 1-.4 0-1 1-.6 0-1 1-.4 0-1 1-.6 0-1 1-.4 0-1 1-.6 0-1 1-.4 0-1 .9-.6 0-1 1-.4 0-1 1-.6 0-1 1-.4 0-1 1-2 1-1 1-.6 0-1 1-.4 0-11.6 8-1.4 .5-1.6 1.5-.4 0-2.6 2-2 1-2.4 2-1.6 .5-1.4 1.5-3 1.5-2.6 2-1 .3-1.4-1.6-35-.2-28-.9-1.5 1.3-.1 .6-1 0-4-3.5-.4 0-1.6-1.5-.4 0-3.6-3-.4 0-7-6-.6 0-1.4-1.5-.6 0-1.4-1.5-.6 0-2-2-.4 0-2-2-.6 0-2-2-.4 0-3.6-3-.4 0-4.6-4-.4 0-1.6-1.4-.4 0-2-2-.6 0-1.4-1.5-.6 0-3.4-3-.6 0-2-2-.4 0-1.6-1.5-.4 0-2-2-.6 0-5.4-4.5-.6 0-5.4-4.5-2-1-3.6-3-.4 0-3-2.5-2-1-1.6-1.5-.4 0-4-3-.6 0-1.4-1.5-3.6-2-5.4-4-.6 0-5.4-4-1.6-.5-2.4-2-1.6-.5-2.4-2-2.6-1-3.4-2.5-6-2.9-1-1-4.6-2-1-1-1 0-1-1-8-4-1 0-1-1-1 0-3.4-2-1 0-2.6-1.5-1 0-2.4-1.5-1 0-1.6-1-1 0-1.4-1-2.6-.5-1.4-1-4-1-.6-.5-2.4-.5-.6-.5-1 0-2-1-1.4 0-2-1-3.6-.5-2-1-4-.5-.4-.5-1.6 0-.4-.5-2 0-.6-.5-2 0-.4-.5-2 0-.6-.5-2.4 0-.6-.5-2.4 0-.6-.5-2.4 0-.6-.5-3.4 0-.6-.5-4 0-.4-.5-5 0-.6-.5-8.4-.1-.6-.5-20 0-.4 .5-9 0-.6 .5-6.4 0-.6 .5-5.4 0-.6 .5-4.4 0-.6 .5-8.4 .5-.6 .5-3.4 0-.6 .5-3.4 0-.6 .5-3.4 0-.6 .5-3.4-.1-.6 .5-3 0-.4 .5-3.6 0-.4 .5-3 0-.6 .5-3 0-.4 .5-3.6 0-.4 .5-3 0-.6 .5-3.4 0-.6 .5-3.4 0-.6 .5-3.4 0-.6 .5-2-.1 0-2.4-1.9-6.6-.5-4-.2-6 .6-5 1.6-6 1.9-5 2.4-4.4 3.9-6 0-1-.8-1.3 .6-.8 3.4-2 10-7 1.6-.5 1.4-1.5 .6 0 1-1 .4 0 1-1 .6 0 1-1 .4 0 1-1 .6 0 1-1 .4 0 1-1 .6 0 1-1 .4 0 1-1 .6 0 1-1 .4 0 1-1 .6 0 1-1 3.4-2 1-1 .6 0 1-1 2-1 1-1.1 2-1 2.4-2 .6 0 10-7 1.4-.5 1.6-1.5 1.4-.5 7-5 1.6-.5 4-3 1.4-.5 4-3 1.6-.5 1-1 .4 0 4-3 .6 0 1.4-1.5 3.6-2.1 9.4-7.5 .6 0 1.4-1.5 .6 0 6.4-5.5 .6 0 2.4-2.5 .6 0 2-2 .4 0 2.6-2.5 .4 0 3-3 .6 0 3-3 .4 0 3-3 .6 0 13.4-12.6 .6 0 5.4-5.5 .6 0 15.4-15 .6 0 10-10 .4 0 11.6-11.5 .4 0 11.6-11.5 .4 0 9.6-9.5 .4 0 8-8 .6 0 6-6 .4 0 10.6-10 .4 0 8-7.5 .6 0 3-3 .4 0 11.6-10 .4 0 7-6 .6 0 1.4-1.5 .6 0 9.4-7.5 2-1 1.6-1.5 .4 0 1-1 .6 0 1-1 .4 0 4-3 .6 0 2.4-2 2-1 1-1 1.6-.5 1-1 3-1.5 1-1 1.4-.5 1-1 3.6-1.5 1-1 16-8 1 0 2.4-1.5 1 0 4-2 2.6-.5 1.4-1 1 0 .6-.5 4-1 .4-.5 2.6-.5 .4-.5 1.6 0 2-1 3.4-.5 .6-.5 1.4 0 .6-.5 1.4 0 .6-.5 2 0 .4-.5 2 0 .6-.5 6.1-.7z"/>
<path fill="#4740e3" d="M809.6 207.2l6.2 .7 .4 .5 2 0 .6 .5 2 0 .4 .5 1.6 0 .4 .5 1.6 0 .4 .5 3.6 .5 .4 .5 2.6 .5 .4 .5 1.6 0 2 1 1 0 .4 .5 1 0 .6 .5 1 0 .4 .5 1 0 1.6 1 2.4 .5 1.6 1 1 0 2.4 1.5 1 0 2.6 1.5 1 0 15 7.5 1 1 6 3 1 1 1.4 .5 2.6 2 1.4 .5 10 7 2 1 1 1 .6 0 1.4 1.5 2 1 9.6 7.5 .4 0 1.6 1.5 .4 0 9.6 8 .4 0 8.6 7.5 .4 0 3 3 .6 0 3.4 3.5 .6 0 3.4 3.5 .6 0 4 4 .4 0 11 10.5 .6 0 6.4 6.5 .6 0 8 8 .4 0 9.6 9.5 .4 0 10 10 .6 0 10 10 .4 0 16.6 16 .4 0 11.6 11.1 .4 0 4.6 4.5 .4 0 4 4 .6 0 11 10 .4 0 8.6 7.5 .4 0 2 2 .6 0 2 2 .4 0 2 2 .6 0 1.4 1.5 .6 0 2 2 .4 0 5.6 4.5 2 1.1 1.4 1.5 .6 0 1.4 1.5 3.6 2 1 1 2 1 1.4 1.5 .6 0 2.4 2 2 1 1.6 1.5 3.4 2 1.6 1.5 2 1 3 2.5 .4 0 1.6 1.5 2 1 9.4 7.5 .6 0 1.4 1.5 .6 0 2 2 .4 0 1.6 1.5 .4 0 2 2 .6 0 5.4 4.6 .6 0 2 2 .4 0 1.6 1.5 .4 0 2 2 .6 0 1.4 1.5 .6 0 1.4 1.5 .6 0 7.4 6.5 2 1 9.6 8 2 1 2.4 2.5 .6 0 2 2 .4 0 1.1 1.1-1 2.4 1.8 5.6 1.2 7 .1 5.4-.6 5.6-1.7 6-2.1 5-3.7 6.4-5.3 7 0 2.6-.8 0-.4-.5-2.6 0-.4-.5-6-.5-.6-.5-6-.5-.4-.5-2.6 0-.4-.5-6-.5-.6-.5-2.4 0-.6-.5-3 0-.4-.5-2.6 0-.4-.5-3 0-.6-.5-2.4 0-.6-.5-6.4-.4-.6-.5-3 0-.4-.5-3 0-.6-.5-3.4 0-.6-.5-3.4 0-.6-.5-3.4 0-.6-.5-8.4-.5-.6-.5-5 0-.4-.5-5.6 0-.4-.5-7 0-.6-.5-12.4 0-.6-.5-11 0-.4 .5-12 0-.6 .5-6 0-.4 .5-5 0-.6 .5-3.4 0-.6 .5-3.4 0-.6 .5-2.4 0-.6 .5-6 .6-.4 .5-2 0-.6 .5-2 0-.4 .5-2 0-.6 .5-2 0-.4 .5-1.6 0-.4 .5-2 0-.6 .5-3.4 .5-.6 .5-1.4 0-2 1-3 .5-.6 .5-1.4 0-2 1-1.6 0-.4 .5-1 0-.6 .5-2.4 .5-.6 .5-1 0-.4 .5-1 0-.6 .5-1 0-2 .9-1 0-1.4 1-2.6 .5-4 2-2.4 .5-2.6 1.5-1 0-6 3-1 0-4.4 2.5-1 0-11.6 6-1 0-1 1-7.4 3.5-1 1-1 0-1 1-3.6 1.5-1 1-3.4 1.5-1 1-5 2.5-1 1-2.6 1-3.4 2.5-4 2-2.6 2-1.4 .5-3.6 2.5-1.4 .5-2.6 2-1.4 .5-4 3-3 1.5-1 1-1.6 .5-1.4 1.5-1.6 .5-2.4 2-1.6 .5-1.4 1.5-3 1.5-1 .9-.6 0-1 1-.4 0-1 1-.6 0-1 1-.4 0-1 1-.6 0-1 1-.4 0-1 1-.6 0-1 1-.4 0-1 1-.6 0-1 1-.4 0-1 1-.6 0-1 1-.4 0-1 1-2 1-1 1-.6 0-1 1-.4 0-11.6 8-1.4 .5-1.6 1.5-.4 0-1 1-.6 0-1 1-.4 0-1 1-2.6 1.4-1.4-1.6-1.6-.1-37 .1-44-1.6-2 1.8-3.4-3-.6 0-2-2-.4 0-2-2-.6 0-3.4-3-.6 0-7-6-.4 0-1.6-1.5-.4 0-1.6-1.5-.4 0-4.6-4-.4 0-1.6-1.5-.4 0-2-2-.6 0-1.4-1.5-.6 0-3.4-3-.6 0-2-1.9-.4 0-1.6-1.5-.4 0-2-2-.6 0-5.4-4.5-.6 0-5.4-4.5-2-1-3.6-3-2-1-3-2.5-.4 0-1.6-1.5-.4 0-4-3-.6 0-1.4-1.5-.6 0-7-5-2-1-5.4-4-1.6-.5-2.4-2-1.6-.5-2.4-2-2.6-1-3.4-2.5-6-3-1-1-4.6-2-1-1-1 0-1-1-8-4-1 0-1-1-1 0-3.4-2-1 0-2.6-1.5-1 0-2.4-1.5-1 0-1.6-1-1 0-1.4-1-2.6-.5-1.4-1-4-1-.6-.5-2.4-.5-.6-.5-2.4-.5-.6-.5-1.4 0-2-1-3.6-.5-2-1-4-.5-.4-.5-4-.5-.6-.5-2 0-.4-.5-2 0-.6-.5-2.4 0-.6-.5-2.4 0-.6-.5-2.4 0-.6-.5-3.4 0-.6-.5-4 0-.4-.5-5 0-.6-.5-8.4 0-.6-.5-20 0-.4 .5-9 0-.6 .5-6.4 0-.6 .5-5.4 0-.6 .5-4.4 0-.6 .5-8.4 .5-.6 .5-7.4 .4-.6 .5-3.4 0-.6 .5-3.4 0-.6 .5-7 .5-.4 .5-3 0-.6 .5-3 0-.4 .5-3.6 0-.4 .5-3 0-.6 .5-3.4 0-.6 .5-1.2-.1 0-2.4-1.9-5-1.6-7-.3-6 .5-6 1.5-6 1.9-5 3.9-7 5.3-7-.5-2.1 .4-1 2-1 1-1 1.6-.5 1.4-1.5 .6 0 1-1 .4 0 1-1 .6 0 1-1 .4 0 1-1 .6 0 1-1 .4 0 1-1 .6 0 1-1 .4 0 1-1 .6 0 1-1 .4 0 1-1 .6 0 1-1 3.4-2 1-1 .6 0 1-1 2-1 1-1 .4 0 2.6-2 2-1 10-7.1 1.4-.5 1.6-1.5 1.4-.5 7-5 1.6-.5 4-3 1.4-.5 4-3 1.6-.5 1-1 2-1 2.4-2 .6 0 1.4-1.5 3.6-2 7.4-6.1 .6 0 1.4-1.5 .6 0 1.4-1.5 .6 0 6.4-5.5 .6 0 2.4-2.5 .6 0 2-2 .4 0 2.6-2.5 .4 0 3-3 .6 0 3-3 .4 0 3-3 .6 0 13.4-12.5 .6 0 5.4-5.5 .6 0 15.4-15.1 .6 0 10-10 .4 0 11.6-11.5 .4 0 11.6-11.5 .4 0 9.6-9.5 .4 0 8-8 .6 0 6-6 .4 0 10.6-10 .4 0 8-7.5 .6 0 3-3 .4 0 11.6-10 .4 0 7-6 .6 0 1.4-1.5 .6 0 9.4-7.5 2-1 1.6-1.5 .4 0 1-1 .6 0 1-1 .4 0 4-3 .6 0 2.4-2 2-1 1-1 1.6-.5 1-1 3-1.5 1-1 1.4-.5 1-1 3.6-1.5 1-1 16-8 1 0 2.4-1.5 1 0 4-2 2.6-.5 1.4-1 1 0 .6-.5 4-1 .4-.5 1 0 .6-.5 1 0 .4-.5 1.6 0 2-1 3.4-.5 .6-.5 1.4 0 .6-.5 1.4 0 .6-.5 4.4-.5 .6-.5 2.4 0 .6-.5 3.1-.2z"/>
<path fill="#4743e8" d="M809.6 207.2l6.2 .7 .4 .5 2 0 .6 .5 2 0 .4 .5 1.6 0 .4 .5 1.6 0 .4 .5 3.6 .5 .4 .5 2.6 .5 .4 .5 1.6 0 2 1 1 0 .4 .5 1 0 .6 .5 1 0 .4 .5 1 0 1.6 1 1 0 3 1.5 1 0 2.4 1.5 1 0 2.6 1.5 1 0 15 7.5 1 1 6 3 1 1 1.4 .5 2.6 2 1.4 .5 10 7 2 1 1 1 .6 0 1.4 1.5 2 1 9.6 7.5 .4 0 1.6 1.5 .4 0 9.6 8 .4 0 8.6 7.5 .4 0 3 3 .6 0 3.4 3.5 .6 0 3.4 3.5 .6 0 4 4 .4 0 11 10.5 .6 0 6.4 6.5 .6 0 8 8 .4 0 9.6 9.5 .4 0 10 10 .6 0 10 10 .4 0 16.6 16.1 .4 0 11.6 11 .4 0 4.6 4.5 .4 0 4 4 .6 0 11 10 .4 0 8.6 7.5 .4 0 2 2 .6 0 6.4 5.5 .6 0 2 2 .4 0 5.6 4.6 2 1 3.4 3 .6 0 4 3 2 1 1.4 1.5 .6 0 2.4 2 2 1 1.6 1.5 3.4 2 5 4 .6 0 3 2.5 2 1 9.4 7.5 .6 0 1.4 1.6 .6 0 2 2 .4 0 1.6 1.5 .4 0 2 2 .6 0 5.4 4.5 .6 0 6.4 5.5 .6 0 1.4 1.5 .6 0 1.4 1.5 .6 0 5 4.5 .4 0 2 2 2 1 7 6 .6 0 1.5 1.6-.7 2.4 2.6 6.6 1.3 5 .7 6-.5 8-1.5 6-2.5 6-4.4 7.4-7 8.6 0 2.4-1.1-.4-3 0-.4-.5-2.6 0-.4-.5-2.6 0-.4-.5-6-.5-.6-.5-2.4 0-.6-.5-6-.5-.4-.5-3 0-.6-.5-2.4 0-.6-.5-6.4-.5-.6-.5-6.4-.5-.6-.5-3.4 .1-.6-.5-3.4 0-.6-.5-3.4 0-.6-.5-8.4-.5-.6-.5-5 0-.4-.5-5.6 0-.4-.5-7 0-.6-.5-12.4 0-.6-.5-11 0-.4 .5-12 0-.6 .5-6 0-.4 .5-5 0-.6 .5-3.4 0-.6 .5-3.4 0-.6 .5-2.4 0-.6 .5-6 .5-.4 .5-2 0-.6 .5-2 0-.4 .5-2 0-.6 .5-2 0-.4 .5-1.6 0-.4 .5-2 0-.6 .5-3.4 .5-.6 .5-1.4 0-2 1-3 .5-.6 .5-1.4 0-2 1-1.6 0-.4 .5-1 0-.6 .5-2.4 .5-.6 .5-1 0-2 1-4 1-1.4 1-2.6 .5-4 2-2.4 .5-2.6 1.5-1 0-6 3-1 0-4.4 2.5-1 0-11.6 6-1 0-1 1-7.4 3.5-1 1-1 0-1 1-3.6 1.5-1 1-7 3.5-3.4 2.5-2.6 1-3.4 2.5-4 2-2.6 2-1.4 .5-3.6 2.5-1.4 .5-2.6 2-1.4 .5-4 3-1.6 .5-2.4 2-1.6 .4-1.4 1.5-1.6 .5-2.4 2-1.6 .5-1.4 1.5-3 1.5-1 1-.6 0-1 1-.4 0-1 1-.6 0-1 1-.4 0-1 1-.6 0-1 1-.4 0-1 1-.6 0-1 1-.4 0-1 1-.6 0-1 1-.4 0-1 1-.6 0-1 1-.4 0-1 1-.6 0-1 1-.4 0-1 1-.6 0-1 1-.4 0-1 1-.6 0-1 1-.4 0-1 1-.6 0-1 1-.4 0-1 1-.6 0-1 1-.4 0-1 1-2.6 1.3-1-2-23 .4-29.4-.2-47.6-2-2 2-2.4-2-.6 0-1.4-1.5-.6 0-7-6-.4 0-1.6-1.5-.4 0-1.6-1.5-.4 0-4.6-4-.4 0-1.6-1.5-.4 0-2-2-.6 0-1.4-1.5-.6 0-3.4-3-.6 0-2-2-.4 0-1.6-1.5-.4 0-2-2-.6 0-5.4-4.4-.6 0-5.4-4.5-2-1-3.6-3-2-1-3-2.5-.4 0-1.6-1.5-2-1-2.4-2-.6 0-1.4-1.5-.6 0-7-5-2-1-5.4-4-1.6-.5-2.4-2-1.6-.5-2.4-2-2.6-1-3.4-2.5-6-3-1-1-4.6-2-1-1-1 0-1-1-8-4-1 0-1-1-1 0-3.4-2-1 0-2.6-1.5-1 0-2.4-1.5-1 0-1.6-1-1 0-1.4-1-2.6-.5-1.4-1-4-1-.6-.5-2.4-.5-.6-.5-1 0-2-1-1.4 0-2-1-1.6 0-.4-.5-3-.5-.6-.5-1.4 0-.6-.5-2 0-.4-.5-4-.5-.6-.5-2 0-.4-.5-2 0-.6-.5-2.4 0-.6-.5-2.4 0-.6-.5-2.4 0-.6-.5-3.4 0-.6-.5-4 0-.4-.5-5 0-.6-.5-8.4 0-.6-.5-20 0-.4 .5-9 0-.6 .5-6.4 0-.6 .5-5.4 0-.6 .5-4.4-.1-.6 .5-4 0-.4 .5-4 0-.6 .5-3.4 0-.6 .5-3.4 0-.6 .5-3.4 0-.6 .5-7 .5-.4 .5-3.6 0-.4 .5-6.6 .5-.4 .5-2.5 0-.5-.6-.5-1.4-.9-.6-1.4-3-2.3-6.4-1.2-7.6 .2-7.4 1-5.6 2.3-6.4 3.4-6.6 2.3-3.4 5.8-7 0-1-.7-1.3 .4-.8 .6 0 1-1 .4 0 1-1 .6 0 1-1 .4 0 1-1 .6 0 1-1 .4 0 1-1 .6 0 1-1 .4 0 1-1 .6 0 1-1 3.4-2 1-1 .6 0 1-1 2-1 1-1 .4 0 2.6-2 2-1 10-7 1.4-.5 1.6-1.5 1.4-.5 7-5.1 1.6-.5 4-3 1.4-.5 4-3 1.6-.5 1-1 2-1 2.4-2 .6 0 1.4-1.5 3.6-2 7.4-6 .6 0 1.4-1.6 .6 0 1.4-1.5 .6 0 2-2 .4 0 4-3.5 .6 0 2.4-2.5 .6 0 2-2 .4 0 9.6-8.5 .4 0 3-3 .6 0 3.4-3.5 .6 0 9.4-9 .6 0 5.4-5.5 .6 0 15.4-15.1 .6 0 10-10 .4 0 11.6-11.5 .4 0 11.6-11.5 .4 0 9.6-9.5 .4 0 8-8 .6 0 6-6 .4 0 10.6-10 .4 0 8-7.5 .6 0 3-3 .4 0 11.6-10 .4 0 7-6 .6 0 1.4-1.5 .6 0 9.4-7.5 2-1 1.6-1.5 .4 0 1-1 .6 0 1-1 .4 0 4-3 .6 0 2.4-2 2-1 1-1 1.6-.5 1-1 3-1.5 1-1 1.4-.5 1-1 3.6-1.5 1-1 16-8 1 0 2.4-1.5 1 0 4-2 2.6-.5 1.4-1 1 0 .6-.5 4-1 .4-.5 1 0 .6-.5 1 0 .4-.5 1.6 0 2-1 3.4-.5 .6-.5 1.4 0 .6-.5 1.4 0 .6-.5 4.4-.5 .6-.5 2.4 0 .6-.5 3.1-.2z"/>
<path fill="#4848ec" d="M809.6 207.2l3.2 .2 .4 .5 2.6 0 .4 .5 2 0 .6 .5 2 0 .4 .5 1.6 0 .4 .5 1.6 0 .4 .5 3.6 .5 .4 .5 2.6 .5 .4 .5 1.6 0 2 1 1 0 .4 .5 1 0 .6 .5 1 0 .4 .5 1 0 1.6 1 1 0 3 1.5 1 0 2.4 1.5 1 0 2.6 1.5 1 0 15 7.5 1 1 6 3 1 1 1.4 .5 2.6 2 1.4 .5 10 7 2 1 1 1 .6 0 1.4 1.5 2 1 9.6 7.5 .4 0 1.6 1.5 .4 0 9.6 8 .4 0 8.6 7.5 .4 0 3 3 .6 0 3.4 3.5 .6 0 3.4 3.5 .6 0 4 4 .4 0 11 10.5 .6 0 6.4 6.5 .6 0 8 8 .4 0 9.6 9.5 .4 0 10 10 .6 0 10 10 .4 0 16.6 16.1 .4 0 11.6 11 .4 0 4.6 4.5 .4 0 4 4 .6 0 11 10 .4 0 8.6 7.5 .4 0 2 2 .6 0 6.4 5.6 .6 0 2 2 .4 0 5.6 4.5 2 1 3.4 3 .6 0 4 3 2 1 1.4 1.5 .6 0 4 3 .4 0 1.6 1.5 3.4 2 5 4 .6 0 3 2.5 2 1.1 9.4 7.5 .6 0 1.4 1.5 .6 0 2 2 .4 0 1.6 1.5 .4 0 2 2 .6 0 5.4 4.5 .6 0 6.4 5.5 .6 0 3.4 3 .6 0 7.4 6.5 2 1 1.6 1.6-1.6 2 3.6 7.4 1.8 6.6 .7 6.4-.5 7-2 8-3 6.6-6.1 9-7 7.4 0 2.6-.9-.5-6-.5-.6-.5-2.4 0-.6-.5-6-.5-.4-.5-6-.5-.6-.5-6.4-.5-.6-.5-3 0-.4-.5-3 0-.6-.5-7.4-.5-.6-.5-3.4 0-.6-.5-4 .1-.4-.5-4 0-.6-.5-5 0-.4-.5-5.6 0-.4-.5-7 0-.6-.5-12.4 0-1-.5-10.6 0-.4 .5-12 0-.6 .5-6 0-.4 .5-5 0-.6 .5-3.4 0-.6 .5-3.4 0-.6 .5-2.4 0-.6 .5-6 .5-.4 .5-2 0-.6 .5-2 0-.4 .5-2 0-.6 .5-2 0-.4 .5-1.6 0-.4 .5-2 0-.6 .5-1.4 0-.6 .5-1.4 0-.6 .5-1.4 0-2 1-1.6 0-2 1-1.4 0-2 1-1.6 0-.4 .5-1 0-.6 .5-2.4 .5-.6 .5-1 0-2 1-4 1-1.4 1-2.6 .5-4 2-2.4 .5-2.6 1.5-1 0-1.4 1-1 0-9 4.5-1 0-11.6 6-1 0-1 1-7.4 3.5-1 1-1 0-1 1-3.6 1.5-1 1-3.4 1.5-1 1-2.6 1-3.4 2.5-2.6 1-3.4 2.5-4 2-2.6 2-1.4 .5-3.6 2.5-1.4 .4-2.6 2-1.4 .5-1 1-2 1-1 1-1.6 .5-2.4 2-1.6 .5-1.4 1.5-1.6 .5-2.4 2-1.6 .5-1.4 1.5-3 1.5-1 1-.6 0-1 1-.4 0-1 1-.6 0-1 1-.4 0-1 1-.6 0-1 1-.4 0-1 1-.6 0-1 1-.4 0-1 1-.6 0-1 1-.4 0-1 1-.6 0-1 1-.4 0-1 1-.6 0-1 1-.4 0-1 1-.6 0-3.4 2.4-1.6-1.5-30.4 .7-33.6-.3-28.4-1-26.6-1.5-2 1.7-5-4-.4 0-1.6-1.5-.4 0-4.6-4-.4 0-1.6-1.5-.4 0-2-2-.6 0-5.4-4.5-.6 0-2-2-.4 0-1.6-1.5-.4 0-2-2-.6 0-1.4-1.5-.6 0-3.4-3-.6 0-5.4-4.5-2-1-3.6-2.9-2-1-5-4-2-1-2.4-2-.6 0-1.4-1.5-.6 0-7-5-2-1-5.4-4-1.6-.5-2.4-2-1.6-.5-2.4-2-2.6-1-3.4-2.5-6-3-1-1-4.6-2-1-1-1 0-1-1-8-4-1 0-1-1-1 0-3.4-2-1 0-2.6-1.5-1 0-2.4-1.5-1 0-1.6-1-1 0-1.4-1-2.6-.5-1.4-1-4-1-.6-.5-2.4-.5-.6-.5-2.4-.5-.6-.5-1.4 0-2-1-3.6-.5-2-1-4-.5-.4-.5-1.6 0-.4-.5-2 0-.6-.5-2 0-.4-.5-2 0-.6-.5-2.4 0-.6-.5-2.4 0-.6-.5-2.4 0-.6-.5-8-.5-.4-.5-5 0-.6-.5-8.4 0-.6-.5-20 0-.4 .5-9 0-.6 .5-6.4-.1-.6 .5-5.4 0-.6 .5-4.4 0-.6 .5-8.4 .5-.6 .5-3.4 0-.6 .5-3.4 0-.6 .5-3.4 0-.6 .5-3.4 0-.6 .5-3 0-.4 .5-3.6 0-.4 .5-1.8 0-.8-1.6 0-1-3.9-7.4-1.9-6-1-6.6 .4-9 2-7.4 2.4-5.6 5-8 7.4-8.4 0-1-.8-1.4 .4-.7 .6 0 1-1 .4 0 1-1 .6 0 1-1 3.4-2 1-1 .6 0 1-1 2-1 1-1 .4 0 2.6-2 2-1 10-7 1.4-.5 1.6-1.5 1.4-.5 7-5 1.6-.5 4-3 1.4-.6 4-3 1.6-.5 1-1 .4 0 4-3 .6 0 1.4-1.5 3.6-2 7.4-6 .6 0 1.4-1.5 .6 0 1.4-1.5 .6 0 2-2 .4 0 4-3.6 .6 0 2.4-2.5 .6 0 2-2 .4 0 9.6-8.5 .4 0 3-3 .6 0 3.4-3.5 .6 0 9.4-9 .6 0 5.4-5.5 .6 0 15.4-15 .6 0 10-10.1 .4 0 11.6-11.5 .4 0 11.6-11.5 .4 0 9.6-9.5 .4 0 8-8 .6 0 6-6 .4 0 10.6-10 .4 0 8-7.5 .6 0 3-3 .4 0 11.6-10 .4 0 7-6 .6 0 1.4-1.5 .6 0 9.4-7.5 2-1 1.6-1.5 .4 0 1-1 .6 0 1-1 .4 0 4-3 .6 0 2.4-2 2-1 1-1 1.6-.5 1-1 3-1.5 1-1 1.4-.5 1-1 3.6-1.5 1-1 16-8 1 0 2.4-1.5 1 0 4-2 2.6-.5 1.4-1 1 0 .6-.5 4-1 .4-.5 1 0 .6-.5 1 0 .4-.5 1.6 0 2-1 3.4-.5 .6-.5 1.4 0 .6-.5 1.4 0 .6-.5 4.4-.5 .6-.5 2.4 0 .6-.5 3.1-.2z"/>
<path fill="#484cef" d="M809.6 207.2l3.2 .2 .4 .5 2.6 0 .4 .5 2 0 .6 .5 2 0 .4 .5 1.6 0 .4 .5 1.6 0 .4 .5 3.6 .5 .4 .5 2.6 .5 .4 .5 1.6 0 2 1 1 0 .4 .5 1 0 .6 .5 1 0 .4 .5 1 0 1.6 1 1 0 3 1.5 1 0 2.4 1.5 1 0 2.6 1.5 1 0 15 7.5 1 1 6 3 1 1 1.4 .5 2.6 2 1.4 .5 10 7 2 1 1 1 .6 0 1.4 1.5 2 1 9.6 7.5 .4 0 1.6 1.5 .4 0 9.6 8 .4 0 8.6 7.5 .4 0 3 3 .6 0 3.4 3.5 .6 0 3.4 3.5 .6 0 4 4 .4 0 11 10.5 .6 0 6.4 6.5 .6 0 8 8 .4 0 9.6 9.5 .4 0 10 10 .6 0 10 10.1 .4 0 16.6 16 .4 0 11.6 11 .4 0 4.6 4.5 .4 0 4 4 .6 0 11 10 .4 0 8.6 7.5 .4 0 2 2.1 .6 0 2 2 .4 0 2 2 .6 0 1.4 1.5 .6 0 2 2 .4 0 5.6 4.5 2 1 1.4 1.5 .6 0 1.4 1.5 3.6 2 1 1 2 1 1.4 1.5 .6 0 2.4 2 2 1 1.6 1.5 3.4 2.1 5 4 2 1 1.6 1.5 2 1 9.4 7.5 .6 0 1.4 1.5 .6 0 2 2 .4 0 1.6 1.5 .4 0 2 2 .6 0 5.4 4.5 .6 0 6.4 5.5 .6 0 1.4 1.5 .6 0 1.4 1.5 .6 0 1.5 1.5-.8 2.6 2.2 3.4 2.7 5.6 2.5 7.4 .8 6.6-.6 8-2.2 8-3.6 7.4-4.5 6.6-2.6 2.9-8.2 8.1 0 2.4-.8-.4-6-.5-.4-.5-6-.5-.6-.5-6.4-.5-.6-.5-3 0-.4-.5-3 0-.6-.5-7.4-.5-.6-.5-3.4 0-.6-.5-8.4-.5-.6-.5-5 0-.4-.5-5.6 .1-.4-.5-7 0-.6-.5-12.4 0-.6-.5-11 0-.4 .5-12 0-.6 .5-6 0-.4 .5-5 0-.6 .5-7.4 .5-.6 .5-6 .5-.4 .5-2.6 0-.4 .5-4.6 .5-.4 .5-4.6 .5-.4 .5-1.6 0-.4 .5-2 0-.6 .5-1.4 0-.6 .5-1.4 0-.6 .5-1.4 0-2 1-1.6 0-2 1-1.4 0-2 1-1.6 0-.4 .5-1 0-.6 .5-2.4 .5-.6 .5-1 0-2 1-4 1-1.4 1-2.6 .5-4 2-2.4 .5-2.6 1.5-1 0-1.4 1-1 0-9 4.5-1 0-11.6 6-1 0-1 1-7.4 3.5-1 1-1 0-1 1-3.6 1.5-1 1-3.4 1.5-1 1-2.6 1-3.4 2.5-2.6 1-3.4 2.4-4 2-2.6 2-1.4 .5-3.6 2.5-1.4 .5-2.6 2-1.4 .5-1 1-2 1-1 1-1.6 .5-2.4 2-1.6 .5-1.4 1.5-1.6 .5-2.4 2-1.6 .5-1.4 1.5-3 1.5-1 1-.6 0-1 1-.4 0-1 1-2 1-10 7-1 .2-1.6-1.6-.4-.1-32 1-30.6-.1-33-.9-40-2.5-.4 0-2 2-3.6-3-.4 0-1.6-1.5-.4 0-2-2-.6 0-1.4-1.5-.6 0-3.4-3-.6 0-2-2-.4 0-1.6-1.5-.4 0-2-2-.6 0-1.4-1.5-.6 0-3.4-3-.6 0-5.4-4.5-2-1-3.6-3-2-1-5-4-2-1-2.4-2-.6 0-1.4-1.4-.6 0-7-5-2-1-5.4-4-1.6-.5-2.4-2-1.6-.5-2.4-2-2.6-1-3.4-2.5-6-3-1-1-4.6-2-1-1-1 0-1-1-8-4-1 0-1-1-1 0-3.4-2-1 0-2.6-1.5-1 0-2.4-1.5-1 0-1.6-1-1 0-1.4-1-2.6-.5-1.4-1-4-1-.6-.5-1 0-.4-.5-4-1-.6-.5-1.4 0-2-1-3.6-.5-2-1-4-.5-.4-.5-4-.5-.6-.5-2 0-.4-.5-2 0-.6-.5-2.4 0-.6-.5-5.4-.5-.6-.5-8-.5-.4-.5-5 0-.6-.5-8.4 0-.6-.5-20 0-.4 .5-9-.1-.6 .5-6.4 0-.6 .5-5.4 0-.6 .5-4.4 0-.6 .5-8.4 .5-.6 .5-3.4 0-.6 .5-3.4 0-.6 .5-3.4 0-.6 .5-3.4 0-.6 .5-1.3 0 0-2.6-3.8-6-2.7-6-1.1-3.4-1.3-7.6 .2-7.4 1.6-7 3.1-7.6 5.1-8 4.2-5 5.5-5.4 0-1-.9-1.5 .4-.6 .6 0 1-1 2-1 1-1 2-1 2.4-2 .6 0 10-7 1.4-.5 1.6-1.5 1.4-.5 7-5 1.6-.5 4-3 1.4-.5 4-3 1.6-.6 1-1 .4 0 4-3 .6 0 1.4-1.5 3.6-2 7.4-6 .6 0 1.4-1.5 .6 0 1.4-1.5 .6 0 2-2 .4 0 4-3.5 .6 0 2.4-2.6 .6 0 2-2 .4 0 9.6-8.5 .4 0 3-3 .6 0 3.4-3.5 .6 0 9.4-9 .6 0 5.4-5.5 .6 0 15.4-15 .6 0 10-10 .4 0 11.6-11.6 .4 0 11.6-11.5 .4 0 9.6-9.5 .4 0 8-8 .6 0 6-6 .4 0 10.6-10 .4 0 8-7.5 .6 0 3-3 .4 0 11.6-10 .4 0 7-6 .6 0 1.4-1.5 .6 0 9.4-7.5 2-1 1.6-1.5 .4 0 1-1 .6 0 1-1 .4 0 4-3 .6 0 2.4-2 2-1 1-1 1.6-.5 1-1 3-1.5 1-1 1.4-.5 1-1 3.6-1.5 1-1 16-8 1 0 2.4-1.5 1 0 4-2 2.6-.5 1.4-1 1 0 .6-.5 4-1 .4-.5 1 0 .6-.5 1 0 .4-.5 1.6 0 2-1 3.4-.5 .6-.5 1.4 0 .6-.5 1.4 0 .6-.5 4.4-.5 .6-.5 2.4 0 .6-.5 3.1-.2z"/>
<path fill="#4850f2" d="M809.6 207.2l3.2 .2 .4 .5 2.6 0 .4 .5 2 0 .6 .5 2 0 .4 .5 1.6 0 .4 .5 1.6 0 .4 .5 3.6 .5 .4 .5 2.6 .5 .4 .5 1.6 0 2 1 1 0 .4 .5 1 0 .6 .5 1 0 .4 .5 1 0 1.6 1 1 0 3 1.5 1 0 2.4 1.5 1 0 2.6 1.5 1 0 15 7.5 1 1 6 3 1 1 1.4 .5 2.6 2 1.4 .5 10 7 2 1 1 1 .6 0 1.4 1.5 2 1 9.6 7.5 .4 0 1.6 1.5 .4 0 9.6 8 .4 0 8.6 7.5 .4 0 3 3 .6 0 3.4 3.5 .6 0 3.4 3.5 .6 0 4 4 .4 0 11 10.5 .6 0 6.4 6.5 .6 0 8 8 .4 0 9.6 9.5 .4 0 10 10.1 .6 0 10 10 .4 0 16.6 16 .4 0 11.6 11 .4 0 4.6 4.5 .4 0 4 4 .6 0 11 10 .4 0 8.6 7.6 .4 0 2 2 .6 0 2 2 .4 0 2 2 .6 0 1.4 1.5 .6 0 2 2 .4 0 5.6 4.5 2 1 1.4 1.5 .6 0 1.4 1.5 3.6 2 1 1 2 1.1 1.4 1.4 .6 0 2.4 2.1 2 1 1.6 1.5 3.4 2 5 4 2 1 1.6 1.5 2 1 1.4 1.5 .6 0 3.4 3 .6 0 5.4 4.5 .6 0 2 2 .4 0 1.6 1.5 .4 0 2 2 .6 0 9.5 7.5-.6 2.6 3.6 5 2.3 4 2.2 5 1.5 5 1 7.4-.6 8-2.4 8-4.1 8-8 10.1-5 4.9-4.7 4 0 2.6-.7 0-.6-.5-2.4 0-.6-.5-3 0-.4-.5-3 0-.6-.5-3 0-.4-.5-3 0-.6-.5-7.4-.5-.6-.5-3.4 0-.6-.5-4 0-.4-.5-4 0-.6-.5-11-.5-.4-.5-7 0-.6-.5-12.4 .1-.6-.5-11 0-.4 .5-12 0-.6 .5-6 0-.4 .5-5 0-.6 .5-3.4 0-.6 .5-3.4 0-.6 .5-2.4 0-.6 .5-6 .5-.4 .5-4.6 .5-.4 .5-4.6 .5-.4 .5-1.6 0-.4 .5-2 0-.6 .5-3.4 .5-.6 .5-1.4 0-2 1-1.6 0-2 1-1.4 0-2 1-1.6 0-.4 .5-1 0-.6 .5-2.4 .5-.6 .5-1 0-.4 .5-1 0-.6 .5-1 0-2 1-1 0-1.4 1-2.6 .5-4 2-2.4 .5-2.6 1.5-1 0-6 3-1 0-4.4 2.5-1 0-11.6 6-1 0-1 1-7.4 3.5-1 1-1 0-1 1-3.6 1.5-1 .9-3.4 1.5-1 1-5 2.5-1 1-2.6 1-3.4 2.5-4 2-2.6 2-1.4 .5-3.6 2.5-1.4 .5-2.6 2-1.4 .5-4 3-3 1.5-1 1-1.6 .5-1.4 1.5-1.6 .5-2.4 2-1.6 .5-1.4 1.5-3 1.5-7 5-1 0-.7-1.6-.9-.3-31.4 1.2-41.6 .1-39-1.2-24-1.4-18-1.6-2.4 1.8-5-4-.6 0-4-3.5-.4 0-2-2-.6 0-9.4-7.5-.6 0-1.4-1.5-2-1-3.6-3-2-1-3-2.5-.4 0-1.6-1.5-2-1-2.4-2-.6 0-1.4-1.5-.6 0-7-5-2-1-5.4-3.9-1.6-.5-2.4-2-1.6-.5-2.4-2-2.6-1-3.4-2.5-6-3-1-1-4.6-2-1-1-1 0-1-1-8-4-1 0-1-1-1 0-3.4-2-1 0-2.6-1.5-1 0-2.4-1.5-1 0-4-2-2.6-.5-1.4-1-4-1-.6-.5-1 0-.4-.5-4-1-.6-.5-1.4 0-2-1-3.6-.5-2-1-1.4 0-.6-.5-2 0-.4-.5-1.6 0-.4-.5-2 0-.6-.5-4.4-.5-.6-.5-2.4 0-.6-.5-5.4-.5-.6-.5-8-.5-.4-.5-5 0-.6-.5-8.4 0-.6-.5-20-.1-.4 .5-9 0-.6 .5-6.4 0-.6 .5-5.4 0-.6 .5-4.4 0-.6 .5-8.4 .5-.6 .5-3.4 0-.6 .5-3.4 0-1 .5 0-2.6-3.1-4-3.4-5.4-2.1-4.6-1.7-5-1.2-7.4 .6-9 1.1-4.6 1.9-5 3.9-7 7-8.9 7.8-7.5-.4-2.2 1.2 1.2 .5 0 0-1-.7-1.2 .6-.9 3.4-2 5.6-4 1.4-.5 1.6-1.5 1.4-.5 7-5 1.6-.5 4-3 1.4-.5 4-3 1.6-.5 1-1 .4 0 4-3.1 .6 0 1.4-1.5 3.6-2 7.4-6 .6 0 1.4-1.5 .6 0 1.4-1.5 .6 0 2-2 .4 0 4-3.5 .6 0 2.4-2.5 .6 0 2-2 .4 0 2.6-2.6 .4 0 10-9 .6 0 3.4-3.5 .6 0 9.4-9 .6 0 5.4-5.5 .6 0 6.4-6.5 .6 0 19-18.5 .4 0 11.6-11.5 .4 0 11.6-11.6 .4 0 9.6-9.5 .4 0 8-8 .6 0 12-11.5 .4 0 4.6-4.5 .4 0 3.6-3.5 .4 0 4-4 .6 0 3-3 .4 0 2.6-2.5 .4 0 3-3 .6 0 12.4-10.5 .6 0 1.4-1.5 .6 0 9.4-7.5 2-1 1.6-1.5 .4 0 1-1 .6 0 1-1 .4 0 8.6-6 .4 0 1-1 1.6-.5 1-1 3-1.5 1-1 1.4-.5 1-1 3.6-1.5 1-1 16-8 1 0 2.4-1.5 1 0 4-2 2.6-.5 1.4-1 1 0 .6-.5 4-1 .4-.5 1 0 .6-.5 1 0 .4-.5 1.6 0 2-1 3.4-.5 .6-.5 1.4 0 .6-.5 1.4 0 .6-.5 4.4-.5 .6-.5 2.4 0 .6-.5 3.1-.2zM448.8 443.3l0 0z"/>
<path fill="#4854f5" d="M809.6 207.2l3.2 .2 .4 .5 2.6 0 .4 .5 2 0 .6 .5 2 0 .4 .5 1.6 0 .4 .5 1.6 0 .4 .5 3.6 .5 .4 .5 2.6 .5 .4 .5 1.6 0 2 1 1 0 .4 .5 1 0 .6 .5 1 0 .4 .5 1 0 1.6 1 1 0 3 1.5 1 0 2.4 1.5 1 0 2.6 1.5 1 0 15 7.5 1 1 6 3 1 1 1.4 .5 2.6 2 1.4 .5 10 7 2 1 1 1 .6 0 1.4 1.5 2 1 9.6 7.5 .4 0 1.6 1.5 .4 0 9.6 8 .4 0 8.6 7.5 .4 0 3 3 .6 0 3.4 3.5 .6 0 3.4 3.5 .6 0 4 4 .4 0 11 10.5 .6 0 6.4 6.5 .6 0 8 8 .4 0 9.6 9.6 .4 0 10 10 .6 0 10 10 .4 0 16.6 16 .4 0 11.6 11 .4 0 4.6 4.5 .4 0 4 4 .6 0 11 10.1 .4 0 8.6 7.5 .4 0 2 2 .6 0 2 2 .4 0 2 2 .6 0 1.4 1.5 .6 0 2 2 .4 0 5.6 4.5 2 1 1.4 1.5 .6 0 1.4 1.5 3.6 2.1 1 1 2 1 1.4 1.5 .6 0 4 3 .4 0 1.6 1.5 3.4 2 5 4 2 1 1.6 1.5 2 1 1.4 1.5 .6 0 9.4 7.5 .6 0 2 2 .4 0 5.6 4.6-.6 2.4 4.8 6 3.1 5 3.7 9 1.3 7-.3 9-2.6 9-2.8 5.6-3.2 5-8 9.2-7 6.3-4.5 3.5 0 2.4-.9 .1-.6-.5-3 0-.4-.5-3 0-.6-.5-7.4-.5-.6-.5-3.4 0-.6-.5-8.4-.5-.6-.5-11-.5-.4-.5-7 0-.6-.5-12.4 0-.6-.5-11 .1-.4 .5-12 0-.6 .5-6 0-.4 .5-5 0-.6 .5-3.4 0-.6 .5-3.4 0-.6 .5-2.4 0-.6 .5-6 .5-.4 .5-4.6 .5-.4 .5-4.6 .5-.4 .5-1.6 0-.4 .5-2 0-.6 .5-3.4 .5-.6 .5-1.4 0-2 1-1.6 0-2 1-1.4 0-2 1-1.6 0-.4 .5-1 0-.6 .5-2.4 .5-.6 .5-1 0-2 1-4 1-1.4 1-2.6 .5-4 2-2.4 .5-2.6 1.5-1 0-1.4 1-1 0-3.6 2-1 0-4.4 2.5-1 0-11.6 5.9-1 0-1 1-7.4 3.5-1 1-1 0-1 1-3.6 1.5-1 1-7 3.5-3.4 2.5-2.6 1-3.4 2.5-4 2-2.6 2-1.4 .5-3.6 2.5-1.4 .5-2.6 2-1.4 .5-4 3-1.6 .5-2.4 2-1.6 .5-1.4 1.5-1.6 .5-2.4 2-1.6 .5-1.4 1.5-1 .1-.7-1.6-.9-.3-13.4 .8-32.6 1-40 0-25-.7-23-1.2-22-1.6-17.4-1.7-2 1.7-5-4-.6 0-1.4-1.5-.6 0-1.4-1.5-.6 0-1.4-1.5-.6 0-1.4-1.5-.6 0-1.4-1.5-2-1-3.6-3-.4 0-3-2.5-2-1-1.6-1.5-.4 0-4-3-.6 0-1.4-1.5-.6 0-7-5-2-1-5.4-4-1.6-.5-2.4-2-1.6-.5-2.4-2-2.6-1-3.4-2.5-6-2.9-1-1-4.6-2-1-1-1 0-1-1-8-4-1 0-1-1-1 0-3.4-2-1 0-2.6-1.5-1 0-2.4-1.5-1 0-4-2-2.6-.5-1.4-1-4-1-.6-.5-2.4-.5-.6-.5-1 0-2-1-1.4 0-2-1-3.6-.5-.4-.5-3-.5-.6-.5-2 0-.4-.5-4-.5-.6-.5-2 0-.4-.5-2 0-.6-.5-2.4 0-.6-.5-5.4-.5-.6-.5-8-.5-.4-.5-5 0-.6-.5-8.4-.1-.6-.5-20 0-.4 .5-9 0-.6 .5-6.4 0-.6 .5-5.4 0-.6 .5-4.4 0-.6 .5-4 0-.4 .5-2.9-.1-1.1-2.2-3.2-3.2-4.7-6.6-2.7-5-1.6-4-1.9-8-.3-5 .3-4.4 .8-4 1.6-5 4.1-8.3 2.6-3.7 5-6 5-5 5.8-5 .2-.8 .4 .3 .8-.5 0-1-.5-.6 .3-.9 1.5 1.5-.5-2.6 .4 0 1.6-1.5 1.4-.5 7-5 1.6-.5 4-3 1.4-.5 4-3 1.6-.5 1-1 .4 0 4-3 .6 0 1.4-1.5 .6 0 2.4-2.1 .6 0 7.4-6 .6 0 1.4-1.5 .6 0 1.4-1.5 .6 0 2-2 .4 0 1.6-1.5 .4 0 5-4.5 .6 0 2-2 .4 0 2.6-2.5 .4 0 10-9.1 .6 0 3.4-3.5 .6 0 9.4-9 .6 0 5.4-5.5 .6 0 6.4-6.5 .6 0 19-18.5 .4 0 11.6-11.5 .4 0 11.6-11.6 .4 0 9.6-9.5 .4 0 8-8 .6 0 12-11.5 .4 0 4.6-4.5 .4 0 3.6-3.5 .4 0 4-4 .6 0 3-3 .4 0 2.6-2.5 .4 0 3-3 .6 0 12.4-10.5 .6 0 1.4-1.5 .6 0 9.4-7.5 2-1 1.6-1.5 .4 0 1-1 .6 0 1-1 .4 0 4-3 .6 0 2.4-2 2-1 1-1 1.6-.5 1-1 3-1.5 1-1 1.4-.5 1-1 3.6-1.5 1-1 16-8 1 0 2.4-1.5 1 0 4-2 2.6-.5 1.4-1 1 0 .6-.5 4-1 .4-.5 1 0 .6-.5 1 0 .4-.5 1.6 0 2-1 3.4-.5 .6-.5 1.4 0 .6-.5 1.4 0 .6-.5 4.4-.5 .6-.5 2.4 0 .6-.5 3.1-.2zM459.2 436.5l.5-.3-.5 .3z"/>
<path fill="#4758f8" d="M809.6 207.2l3.2 .2 .4 .5 2.6 0 .4 .5 2 0 .6 .5 2 0 .4 .5 1.6 0 .4 .5 1.6 0 .4 .5 3.6 .5 .4 .5 2.6 .5 .4 .5 1.6 0 2 1 1 0 .4 .5 1 0 .6 .5 1 0 .4 .5 1 0 1.6 1 2.4 .5 1.6 1 1 0 2.4 1.5 1 0 2.6 1.5 1 0 15 7.5 1 1 6 3 1 1 1.4 .5 2.6 2 1.4 .5 10 7 2 1 1 1 .6 0 1.4 1.5 2 1 9.6 7.5 .4 0 1.6 1.5 .4 0 9.6 8 .4 0 8.6 7.5 .4 0 3 3 .6 0 3.4 3.5 .6 0 3.4 3.5 .6 0 4 4 .4 0 11 10.5 .6 0 6.4 6.5 .6 0 8 8.1 .4 0 9.6 9.5 .4 0 10 10 .6 0 10 10 .4 0 16.6 16 .4 0 11.6 11 .4 0 4.6 4.5 .4 0 4 4 .6 0 11 10.1 .4 0 8.6 7.5 .4 0 2 2 .6 0 2 2 .4 0 2 2 .6 0 1.4 1.5 .6 0 2 2 .4 0 5.6 4.5 2 1 1.4 1.5 .6 0 1.4 1.6 3.6 2 1 1 2 1 1.4 1.5 .6 0 2.4 2 2 1 1.6 1.5 3.4 2 1.6 1.5 2 1 1.4 1.5 2 1 1.6 1.5 2 1 9.4 7.5 .6 0 1 1.1-.6 2.4 8 9.6 4.5 8 2.6 7.4 .9 7.6-.1 4-.9 5.4-2.5 7-3.8 7-6.7 8.5-9.4 8.9-9.1 6.6 0 2.6-1.9 0-.6-.5-3.4 0-.6-.5-3.4 0-.6-.5-4 0-.4-.5-4 0-.6-.5-11-.5-.4-.5-7 0-.6-.5-12.4 0-1-.5-10.6 0-.4 .5-12 0-.6 .5-6 0-.4 .5-5 .1-.6 .5-3.4 0-.6 .5-3.4 0-.6 .5-2.4 0-.6 .5-6 .5-.4 .5-4.6 .5-.4 .5-4.6 .5-.4 .5-1.6 0-.4 .5-2 0-.6 .5-1.4 0-.6 .5-1.4 0-.6 .5-1.4 0-2 1-1.6 0-2 1-1.4 0-2 1-1.6 0-.4 .5-1 0-.6 .5-2.4 .5-.6 .5-1 0-.4 .5-1 0-.6 .5-1 0-2 1-1 0-1.4 1-2.6 .5-4 2-2.4 .5-2.6 1.4-1 0-6 3-1 0-4.4 2.5-1 0-11.6 6-1 0-1 1-7.4 3.5-1 1-1 0-1 1-3.6 1.5-1 1-3.4 1.5-1 1-5 2.5-1 1-2.6 1-3.4 2.5-4 2-2.6 2-1.4 .5-3.6 2.5-1.4 .5-2.6 2-1.4 .5-4 3-3 1.5-1 1-1 .2-1-2-45 2.2-46.6 .3-25-.6-23.4-1.1-23-1.6-29.6-2.9-2 2-2.4-2-.6 0-1.4-1.5-.6 0-1.4-1.5-2-1-1.6-1.5-.4 0-1.6-1.5-2-1-1.4-1.5-2-1-1.6-1.5-2-1-2.4-2-.6 0-1.4-1.5-3.6-2-5.4-4-.6 0-5.4-4-1.6-.5-2.4-2-1.6-.5-2.4-2-2.6-1-3.4-2.5-6-3-1-1-22-10.9-1 0-2.6-1.5-1 0-2.4-1.5-1 0-1.6-1-1 0-1.4-1-2.6-.5-1.4-1-4-1-.6-.5-1 0-.4-.5-4-1-.6-.5-1.4 0-2-1-3.6-.5-2-1-4-.5-.4-.5-1.6 0-.4-.5-2 0-.6-.5-4.4-.6-.6-.5-2.4 0-.6-.5-2.4 0-.6-.5-2.4 0-.6-.5-3.4 0-.6-.5-4 0-.4-.5-5 0-.6-.5-8.4 0-.6-.5-20 0-.4 .5-9 0-.6 .5-6.4 0-.6 .5-5.4 0-.6 .5-3.3-.1-1.1-2.2-2.1-1.8-6.7-8-5.2-9-1.6-4-1.3-5.4-.5-4.6 .1-4.4 .7-5 1.3-4.6 2.7-6 3-5.1 2.9-3.9 4.7-5.2 5-4.8 5.9-5 .1-.5 .4 .2 .9-.7-.3-2.1 1.4 1.3 .3-1.2-.5-.4 .2-1 1.6 1.5 0-1.1-.5-.4-.1-1 .6-.6 3-1.5 4-3 1.4-.5 4-3 1.6-.5 1-1 .4 0 4-3 .6 0 1.4-1.5 .6 0 2.4-2 .6 0 7.4-6.1 .6 0 1.4-1.5 .6 0 1.4-1.5 .6 0 2-2 .4 0 1.6-1.5 .4 0 5-4.5 .6 0 2-2 .4 0 2.6-2.5 .4 0 10-9 .6 0 3.4-3.6 .6 0 9.4-9 .6 0 5.4-5.5 .6 0 6.4-6.5 .6 0 19-18.5 .4 0 11.6-11.5 .4 0 11.6-11.5 .4 0 9.6-9.6 .4 0 8-8 .6 0 12-11.5 .4 0 4.6-4.5 .4 0 3.6-3.5 .4 0 4-4 .6 0 3-3 .4 0 2.6-2.5 .4 0 3-3 .6 0 12.4-10.5 .6 0 1.4-1.5 .6 0 9.4-7.5 2-1 1.6-1.5 .4 0 1-1 .6 0 1-1 .4 0 4-3 .6 0 2.4-2 2-1 1-1 1.6-.5 1-1 3-1.5 1-1 1.4-.5 1-1 3.6-1.5 1-1 16-8 1 0 2.4-1.5 1 0 4-2 2.6-.5 1.4-1 1 0 .6-.5 4-1 .4-.5 1 0 .6-.5 1 0 .4-.5 1.6 0 2-1 3.4-.5 .6-.5 1.4 0 .6-.5 1.4 0 .6-.5 4.4-.5 .6-.5 2.4 0 .6-.5 3.1-.2zM467.8 431l.4-.2-.4 .2zM466.2 431.9l0 0z"/>
<path fill="#475cfa" d="M809.6 207.2l3.2 .2 .4 .5 2.6 0 .4 .5 2 0 .6 .5 2 0 .4 .5 1.6 0 .4 .5 1.6 0 .4 .5 3.6 .5 .4 .5 2.6 .5 .4 .5 1.6 0 2 1 1 0 .4 .5 1 0 .6 .5 1 0 .4 .5 1 0 1.6 1 2.4 .5 1.6 1 1 0 2.4 1.5 1 0 2.6 1.5 1 0 15 7.5 1 1 6 3 1 1 1.4 .5 2.6 2 1.4 .5 10 7 2 1 1 1 .6 0 1.4 1.5 2 1 9.6 7.5 .4 0 1.6 1.5 .4 0 9.6 8 .4 0 8.6 7.5 .4 0 3 3 .6 0 3.4 3.5 .6 0 3.4 3.5 .6 0 4 4 .4 0 11 10.5 .6 0 6.4 6.6 .6 0 8 8 .4 0 9.6 9.5 .4 0 10 10 .6 0 10 10 .4 0 16.6 16 .4 0 11.6 11 .4 0 4.6 4.5 .4 0 4 4.1 .6 0 11 10 .4 0 8.6 7.5 .4 0 2 2 .6 0 2 2 .4 0 2 2 .6 0 1.4 1.5 .6 0 2 2 .4 0 5.6 4.5 2 1.1 3.4 3 .6 0 4 3 2 1 1.4 1.5 .6 0 2.4 2 2 1 1.6 1.5 3.4 2 1.6 1.5 2 1 1.4 1.5 2 1 5 4 .6 0 1 1.1-.9 1.4 0 1 8 8.6 3.9 5.2 2.1 3.8 2.3 5 1.1 3.4 1.1 7-.4 8-1.2 5-1.6 4.6-4.5 8-6.5 8-4.4 4.5-4.6 3.7-4.4 3.6-9.1 6.2-1.2 1.4 0 1-3.3 .1-.4-.5-4 0-.6-.5-5 0-.4-.5-5.6 0-.4-.5-7 0-.6-.5-12.4 0-1-.5-10.6 0-.4 .5-12 0-.6 .5-6 0-.4 .5-5 0-.6 .5-3.4 0-.6 .5-3.4 0-.6 .5-2.4 0-.6 .5-6 .5-.4 .5-4.6 .5-.4 .5-4.6 .5-.4 .5-1.6 0-.4 .5-2 0-.6 .5-3.4 .5-.6 .5-1.4 0-2 1-1.6 0-2 1-1.4 0-2 1-1.6 0-.4 .5-1 0-.6 .5-2.4 .5-.6 .5-1 0-2 1-4 1-1.4 1-2.6 .5-4 2-2.4 .5-2.6 1.5-1 0-6 3-1 0-4.4 2.5-1 0-11.6 6-1 0-1 1-7.4 3.5-1 1-1 0-1 1-3.6 1.5-1 1-7 3.5-1 1-5 2.5-3.4 2.5-4 2-2.6 2-1.4 .5-1 1-1.6 .5-1 1-3.4 1.7-1.6-1.7-36.4 2.4-35.6 1.1-29.4 0-43-1.5-41.6-3-26-3-1-.1-1.4 2-4-2.9-.6 0-1.4-1.5-2-1-1.6-1.5-.4 0-4-3-.6 0-1.4-1.5-.6 0-7-5-2-1-5.4-4-1.6-.5-2.4-2-1.6-.5-2.4-2-2.6-1-3.4-2.5-6-3-1-1-22-11-1 0-2.6-1.5-1 0-2.4-1.5-1 0-1.6-1-1 0-1.4-1-2.6-.5-1.4-1-4-1-.6-.5-2.4-.5-.6-.5-2.4-.5-.6-.5-1.4 0-2-1-3.6-.5-2-1-4-.5-.4-.5-1.6 0-.4-.5-2 0-.6-.5-4.4-.5-.6-.5-2.4 0-.6-.5-2.4 0-.6-.5-2.4 0-.6-.5-3.4 0-.6-.5-4 0-.4-.5-5 0-.6-.5-8.4 0-.6-.5-20 0-.4 .5-9 0-.6 .5-6.4 0-.6 .5-1 0 0-2.6-3.9-3.4-6-6.6-3.4-4.4-3.3-5.6-2-4.4-1.8-6-.6-5 0-5 1.6-8 2.2-5.6 2.4-4.4 5.4-7.4 4.8-5.2 4.8-4.4 7.7-6 .1-1-.5-.6 .1-.5 1 1.1 .7 0-.3-2.3 1.6 1.3 .1-1-.5-.6 .4-.8 1.4 1.4 .2-1-.5-.6-.1-1 .4 0 4-3 1.6-.5 1-1 2-1 2.4-2 .6 0 1.4-1.5 .6 0 2.4-2 .6 0 7.4-6.1 .6 0 1.4-1.5 .6 0 1.4-1.5 .6 0 2-2 .4 0 4-3.5 .6 0 2.4-2.5 .6 0 2-2 .4 0 2.6-2.5 .4 0 10-9 .6 0 13.4-12.6 .6 0 5.4-5.5 .6 0 6.4-6.5 .6 0 19-18.5 .4 0 11.6-11.5 .4 0 11.6-11.5 .4 0 9.6-9.5 .4 0 8-8 .6 0 12-11.6 .4 0 4.6-4.5 .4 0 3.6-3.5 .4 0 4-4 .6 0 6-5.5 .4 0 3-3 .6 0 12.4-10.5 .6 0 1.4-1.5 .6 0 9.4-7.5 2-1 1.6-1.5 .4 0 1-1 .6 0 1-1 .4 0 8.6-6 .4 0 1-1 1.6-.5 1-1 3-1.5 1-1 1.4-.5 1-1 3.6-1.5 1-1 16-8 1 0 2.4-1.5 1 0 4-2 2.6-.5 1.4-1 1 0 .6-.5 4-1 .4-.5 1 0 .6-.5 1 0 .4-.5 1.6 0 2-1 3.4-.5 .6-.5 1.4 0 .6-.5 1.4 0 .6-.5 4.4-.5 .6-.5 2.4 0 .6-.5 3.1-.2zM476.2 425.6l0-.4 .4 0-.4 .4zM474.8 426.4l.2-.2-.2 .2zM473.2 427.3l0 0z"/>
<path fill="#4660fc" d="M809.6 207.2l3.2 .2 .4 .5 2.6 0 .4 .5 2 0 .6 .5 2 0 .4 .5 1.6 0 .4 .5 1.6 0 .4 .5 3.6 .5 .4 .5 2.6 .5 .4 .5 1.6 0 2 1 1 0 .4 .5 1 0 .6 .5 1 0 .4 .5 1 0 1.6 1 2.4 .5 1.6 1 1 0 2.4 1.5 1 0 2.6 1.5 1 0 15 7.5 1 1 6 3 1 1 1.4 .5 2.6 2 1.4 .5 10 7 2 1 1 1 .6 0 1.4 1.5 2 1 9.6 7.5 .4 0 1.6 1.5 .4 0 9.6 8 .4 0 8.6 7.5 .4 0 3 3 .6 0 3.4 3.5 .6 0 3.4 3.5 .6 0 4 4 .4 0 11 10.6 .6 0 6.4 6.5 .6 0 8 8 .4 0 9.6 9.5 .4 0 10 10 .6 0 10 10 .4 0 16.6 16 .4 0 11.6 11 .4 0 4.6 4.6 .4 0 4 4 .6 0 11 10 .4 0 8.6 7.5 .4 0 2 2 .6 0 2 2 .4 0 2 2 .6 0 1.4 1.5 .6 0 2 2 .4 0 5.6 4.6 2 1 1.4 1.5 .6 0 1.4 1.5 3.6 2 1 1 2 1 1.4 1.5 .6 0 2.4 2 2 1 1.6 1.5 3.4 2 1.6 1.5 2 1 1 1-.7 1.6 0 1 5.1 4.4 5.1 5.6 6.1 8.4 3.4 7.6 1.4 5 .6 4 0 5-.5 4-.8 3.4-2.2 6-3.6 6.6-4.1 5.4-3.8 4.2-6.6 6.1-4.6 3.7-8.6 6-7.2 4.3-.3 2.7-3.3 .1-.4-.5-5.6 0-.4-.5-7 0-.6-.5-12.4 0-.6-.5-11 0-.4 .5-12 0-.6 .5-6 0-.4 .5-5 0-.6 .5-3.4 0-.6 .5-3.4 0-.6 .5-2.4 0-.6 .5-3 0-.4 .5-2.6 0-.4 .5-2 0-.6 .5-2 0-.4 .5-2 0-.6 .5-2 0-.4 .5-1.6 0-.4 .5-2 0-.6 .5-1.4 0-.6 .5-1.4 0-.6 .5-1.4 0-2 1-1.6 0-2 1-1.4 0-2 1-1.6 0-.4 .5-1 0-.6 .5-2.4 .5-.6 .5-1 0-2 1-4 1-1.4 1-2.6 .5-4 2-2.4 .5-2.6 1.5-1 0-1.4 1-1 0-9 4.5-1 0-11.6 6-1 0-1 1-7.4 3.5-1 1-1 0-1 1-8 4-1 1-2.6 1-1 1-5 2.5-1 1-1.4 .5-1 1-1.6 .5-2 1.5-1 .1-.8-1.6-.6-.2-35.6 2.7-37.4 1.6-39.6 .1-34-1-42.4-2.9-21-2.1-23.6-3-2 1.8-11.4-8-.6 0-1-1-2-1-1-1-.4 0-1-1-.6 0-1-1-.4 0-1-1-1.6-.5-2.4-2-1.6-.5-2.4-2-2.6-1-3.4-2.5-6-3-1-1-4.6-2-1-1-1 0-1-1-8-4-1 0-1-1-1 0-3.4-2-1 0-2.6-1.5-1 0-2.4-1.5-1 0-4-2-2.6-.5-1.4-1-4-1-.6-.5-2.4-.5-.6-.5-2.4-.5-.6-.5-1.4 0-2-1-3.6-.5-2-1-4-.5-.4-.5-1.6 0-.4-.5-2 0-.6-.5-4.4-.5-.6-.5-2.4 0-.6-.5-5.4-.5-.6-.5-3.4 0-.6-.5-4 0-.4-.5-5 0-.6-.5-8.4 0-.6-.5-20 0-.4 .5-7.6 0-.2-2.6-6.8-5.4-4.5-4.6-6.1-7.4-2.5-4-2.3-4.6-2.2-6.4-.5-3-.4-5 .4-5.6 .9-4 1.7-5 3.5-6.6 2.6-3.7 6.1-7.1 5.9-5.6 7.7-6-.3-2.1 1.6 1.3 .2-1.2-.5-.4 .3-.9 1.4 1.4 .2-1.1-.5-.4 .3-.9 1.6 1.3-.6-2.5 .6 0 1-1 2-1 2.4-2 .6 0 1.4-1.5 .6 0 1-1 2-1 7.4-6 .6 0 1.4-1.5 .6 0 1.4-1.6 .6 0 2-2 .4 0 4-3.5 .6 0 2.4-2.5 .6 0 2-2 .4 0 2.6-2.5 .4 0 10-9 .6 0 3.4-3.5 .6 0 9.4-9.1 .6 0 5.4-5.5 .6 0 6.4-6.5 .6 0 8.4-8.5 .6 0 34-33 .4 0 9.6-9.5 .4 0 14.6-14 .4 0 5.6-5.6 .4 0 4.6-4.5 .4 0 3.6-3.5 .4 0 4-4 .6 0 9.4-8.5 .6 0 2-2 .4 0 2.6-2.5 .4 0 7-6 .6 0 1.4-1.5 .6 0 9.4-7.5 2-1 1.6-1.5 .4 0 1-1 .6 0 1-1 .4 0 4-3 .6 0 2.4-2 2-1 1-1 1.6-.5 2.4-2 1.6-.5 3.4-2.5 3.6-1.5 1-1 16-8 1 0 2.4-1.5 1 0 4-2 2.6-.5 1.4-1 1 0 .6-.5 4-1 .4-.5 1 0 .6-.5 1 0 .4-.5 1.6 0 2-1 3.4-.5 .6-.5 1.4 0 .6-.5 1.4 0 .6-.5 4.4-.5 .6-.5 2.4 0 .6-.5 3.1-.2zM481.8 422.1l0-.4 .3 .1-.3 .3zM480.2 423l.4-.2-.4 .2zM478.8 423.9l0 0z"/>
<path fill="#4464fd" d="M809.6 207.2l3.2 .2 .4 .5 2.6 0 .4 .5 2 0 .6 .5 2 0 .4 .5 1.6 0 .4 .5 1.6 0 .4 .5 3.6 .5 .4 .5 2.6 .5 .4 .5 1.6 0 2 1 1 0 .4 .5 1 0 .6 .5 1 0 .4 .5 1 0 1.6 1 1 0 3 1.5 1 0 2.4 1.5 1 0 2.6 1.5 1 0 15 7.5 1 1 6 3 1 1 1.4 .5 2.6 2 1.4 .5 10 7 2 1 1 1 .6 0 1.4 1.5 2 1 9.6 7.5 .4 0 1.6 1.5 .4 0 9.6 8 .4 0 8.6 7.5 .4 0 3 3 .6 0 3.4 3.5 .6 0 3.4 3.6 .6 0 4 4 .4 0 11 10.5 .6 0 6.4 6.5 .6 0 8 8 .4 0 9.6 9.5 .4 0 10 10 .6 0 10 10 .4 0 16.6 16 .4 0 6 6 .6 0 5 5.1 .4 0 4.6 4.5 .4 0 12 11 .6 0 6 5.5 .4 0 5.6 5 .4 0 7 6 .6 0 1.4 1.6 .6 0 2 2 .4 0 5.6 4.5 2 1 3.4 3 .6 0 4 3 2 1 1.4 1.5 .6 0 2.4 2 .6 0 .5 .6-.5 2.5 .4 0 1.6-1.5 .4 .7-.6 1.3 0 1 .6 .4 .6-.5 .1 1.1 7.3 6.3 5.2 5.7 4.4 5.7 3.6 6.7 1.5 4 1 4.6 .5 4-.1 5-.9 5.4-1.3 4-2.3 5-3 5-5.7 7-5.4 5.6-11.5 9-9.3 6-9.2 5 0 2.4-4.9 .1-.6-.5-12.4 0-1-.5-10.6 0-.4 .5-12 0-.6 .5-6 0-.4 .5-5 0-.6 .5-3.4 0-.6 .5-3.4 0-.6 .5-2.4 0-.6 .5-6 .5-.4 .5-2 0-.6 .5-2 0-.4 .5-2 0-.6 .5-2 0-.4 .5-1.6 0-.4 .5-2 0-.6 .5-3.4 .5-.6 .5-1.4 0-2 1-1.6 0-2 1-1.4 0-2 1-1.6 0-.4 .5-1 0-.6 .5-2.4 .5-.6 .5-1 0-2 1-4 1-1.4 1-2.6 .5-4 2-2.4 .5-2.6 1.5-1 0-1.4 1-1 0-9 4.5-1 0-11.6 6-1 0-1 1-7.4 3.5-1 1-1 0-1 1-3.6 1.5-1 1-3.4 1.5-1 1-2.6 1-1 1-1 .3-1-2-25 2.4-31.4 2.1-25 1-25 .3-33.6-.4-36-1.6-20.4-1.6-22.6-2.2-24-2.9-13-2.1-1 0-2 1.7-5-3.5-.4 0-1-1-.6 0-1-1-.4 0-1-1-1.6-.5-2.4-2-1.6-.5-2.4-2-2.6-1-3.4-2.5-6-3-1-1-4.6-2-1-1-1 0-1-1-8-4-1 0-1-1-1 0-3.4-2-1 0-2.6-1.5-1 0-2.4-1.5-1 0-1.6-1-1 0-1.4-1-2.6-.5-1.4-1-4-1-.6-.5-1 0-.4-.5-4-1-.6-.5-1.4 0-2-1-3.6-.5-2-1-4-.5-.4-.5-4-.5-.6-.5-2 0-.4-.5-2 0-.6-.5-2.4 0-.6-.5-5.4-.5-.6-.5-8-.5-.4-.5-5 0-.6-.5-8.4 0-.6-.5-17.4-.1 0-2.4-8.3-6-8.2-7.6-5.1-6-2.7-4-2.8-5-1.6-4-1.8-8-.1-5 .6-5 2.5-8 1.9-4 3.5-5.4 4.5-5.5 5.6-5.5 7.9-6.6 .1-.5 .4 .2 .9-.7 .1-.8 .6 .4-.6-2.6 .6-.5 .4 0 4-3 .6 0 1.4-1.5 .6 0 2.4-2 .6 0 7.4-6 .6 0 1.4-1.5 .6 0 1.4-1.5 .6 0 2-2 .4 0 4-3.6 .6 0 2.4-2.5 .6 0 2-2 .4 0 2.6-2.5 .4 0 10-9 .6 0 13.4-12.5 .6 0 5.4-5.5 .6 0 6.4-6.6 .6 0 19-18.5 .4 0 11.6-11.5 .4 0 11.6-11.5 .4 0 9.6-9.5 .4 0 8-8 .6 0 12-11.5 .4 0 4.6-4.5 .4 0 3.6-3.6 .4 0 4-4 .6 0 3-3 .4 0 2.6-2.5 .4 0 3-3 .6 0 12.4-10.5 .6 0 1.4-1.5 .6 0 9.4-7.5 2-1 1.6-1.5 .4 0 1-1 .6 0 1-1 .4 0 4-3 2-1 2.6-2 .4 0 1-1 1.6-.5 1-1 3-1.5 1-1 1.4-.5 1-1 3.6-1.5 1-1 16-8 1 0 2.4-1.5 1 0 4-2 2.6-.5 1.4-1 1 0 .6-.5 4-1 .4-.5 2.6-.5 .4-.5 1.6 0 2-1 3.4-.5 .6-.5 1.4 0 .6-.5 1.4 0 .6-.5 4.4-.5 .6-.5 2.4 0 .6-.5 3.1-.2zM1102.2 423.3l0 0z"/>
<path fill="#4369fe" d="M809.6 207.2l3.2 .2 .4 .5 2.6 0 .4 .5 2 0 .6 .5 2 0 .4 .5 1.6 0 .4 .5 1.6 0 .4 .5 3.6 .5 .4 .5 2.6 .5 .4 .5 1.6 0 2 1 1 0 .4 .5 1 0 .6 .5 1 0 .4 .5 1 0 1.6 1 1 0 3 1.5 1 0 2.4 1.5 1 0 2.6 1.5 1 0 15 7.5 1 1 6 3 1 1 1.4 .5 2.6 2 1.4 .5 10 7 2 1 1 1 .6 0 1.4 1.5 2 1 9.6 7.5 .4 0 1.6 1.5 .4 0 9.6 8 .4 0 8.6 7.6 .4 0 3 3 .6 0 3.4 3.5 .6 0 3.4 3.5 .6 0 4 4 .4 0 11 10.5 .6 0 6.4 6.5 .6 0 8 8 .4 0 9.6 9.5 .4 0 10 10 .6 0 10 10 .4 0 16.6 16 .4 0 6 6.1 .6 0 5 5 .4 0 4.6 4.5 .4 0 12 11 .6 0 6 5.5 .4 0 5.6 5 .4 0 7 6.1 .6 0 1.4 1.5 .6 0 2 2 .4 0 5.6 4.5 2 1 3.4 3 3.6 2 1 1 .4 0 .6 .5-.4 .6 .2 .4-.5 .6 .1 1 .6 .1 1.4-1.5 1.6 .8 .4 .6-.8 1.4 .1 1 7.2 6 3.5 3.5 6.6 8 2.7 4.5 2.3 5 1.8 6.6 .5 8-1.4 8-3.5 8-3.5 5.4-4.4 5.6-9.5 8.8-12 8.7-13.6 7.7-8.7 4.2 0 2.6-4.7 0-.6-.5-11 0-.4 .5-12 0-.6 .5-6 0-.4 .5-5 0-.6 .5-3.4 0-.6 .5-3.4 0-.6 .5-2.4 0-.6 .5-6 .5-.4 .5-2 0-.6 .5-2 0-.4 .5-2 0-.6 .5-2 0-.4 .5-1.6 0-.4 .5-2 0-.6 .5-3.4 .5-.6 .5-1.4 0-2 1-1.6 0-2 1-1.4 0-2 1-1.6 0-.4 .5-1 0-.6 .5-2.4 .5-.6 .5-1 0-2 1-4 1-1.4 1-2.6 .5-4 2-2.4 .5-2.6 1.5-1 0-1.4 1-1 0-9 4.5-1 0-11.6 6-1 0-1 1-7.4 3.5-1 1-1 0-1 1-1 .1-.7-1.6-.9-.4-27.4 3.1-32 2.5-28 1.3-31.6 .5-39.4-.7-34.6-1.8-24.4-2-24-2.6-18.6-2.5-21-3.5-1.4 2-2-1.4-1.6-.5-2.4-2-5-2.5-1-1-6-3-1-1-4.6-2-1-1-1 0-1-1-8-4-1 0-1-1-1 0-3.4-2-1 0-2.6-1.5-1 0-2.4-1.5-1 0-1.6-1-1 0-1.4-1-2.6-.5-1.4-1-4-1-.6-.5-2.4-.5-.6-.5-1 0-2-1-1.4 0-2-1-3.6-.5-2-1-4-.5-.4-.5-1.6 0-.4-.5-2 0-.6-.5-2 0-.4-.5-2 0-.6-.5-2.4 0-.6-.5-2.4 0-.6-.5-2.4 0-.6-.5-8-.5-.4-.5-5 0-.6-.5-8.4 0-.6-.5-5.5-.1 0-2.4-11.9-8-5.1-4-6.8-6.6-2.7-3-4.6-6.4-3.2-6-1.1-3-1-3.6-.8-5.4 .5-8 2.4-8 3.4-6.4 4.8-6.6 3.2-3.6 9.4-8.4 0-.7 .6 .3 .7-.6-.3-2.3 1.7 1.3 0-1-.7-1.2 .6-.9 .4 0 3-2.5 .6 0 1-1 2-1 7.4-6 .6 0 1.4-1.5 .6 0 1.4-1.5 .6 0 2-2 .4 0 4-3.6 .6 0 2.4-2.5 .6 0 2-2 .4 0 2.6-2.5 .4 0 10-9 .6 0 13.4-12.5 .6 0 5.4-5.5 .6 0 6.4-6.6 .6 0 19-18.5 .4 0 11.6-11.5 .4 0 11.6-11.5 .4 0 9.6-9.5 .4 0 8-8 .6 0 12-11.5 .4 0 4.6-4.5 .4 0 3.6-3.5 .4 0 4-4 .6 0 3-3 .4 0 2.6-2.6 .4 0 3-3 .6 0 12.4-10.5 .6 0 1.4-1.5 .6 0 9.4-7.5 2-1 1.6-1.5 .4 0 1-1 .6 0 1-1 .4 0 4-3 .6 0 2.4-2 2-1 1-1 1.6-.5 1-1 3-1.5 1-1 1.4-.5 1-1 3.6-1.5 1-1 16-8 1 0 2.4-1.5 1 0 4-2 2.6-.5 1.4-1 1 0 .6-.5 4-1 .4-.5 2.6-.5 .4-.5 1.6 0 2-1 3.4-.5 .6-.5 1.4 0 .6-.5 1.4 0 .6-.5 4.4-.5 .6-.5 2.4 0 .6-.5 3.1-.2zM485.8 419.4l0 0z"/>
<path fill="#406dfe" d="M809.6 207.2l3.2 .2 .4 .5 2.6 0 .4 .5 2 0 .6 .5 2 0 .4 .5 1.6 0 .4 .5 1.6 0 .4 .5 3.6 .5 .4 .5 2.6 .5 .4 .5 1.6 0 2 1 1 0 .4 .5 1 0 .6 .5 1 0 .4 .5 1 0 1.6 1 2.4 .5 1.6 1 1 0 2.4 1.5 1 0 2.6 1.5 1 0 15 7.5 1 1 6 3 1 1 1.4 .5 2.6 2 1.4 .5 10 7 2 1 1 1 .6 0 1.4 1.5 2 1 9.6 7.5 .4 0 1.6 1.5 .4 0 9.6 8.1 .4 0 8.6 7.5 .4 0 3 3 .6 0 3.4 3.5 .6 0 3.4 3.5 .6 0 4 4 .4 0 11 10.5 .6 0 6.4 6.5 .6 0 8 8 .4 0 9.6 9.5 .4 0 10 10 .6 0 10 10 .4 0 16.6 16.1 .4 0 6 6 .6 0 5 5 .4 0 4.6 4.5 .4 0 12 11 .6 0 6 5.5 .4 0 5.6 5.1 .4 0 2 2 .6 0 6.4 5.5 .6 0 2 2 .4 0 5.6 4.5 2 1 3.4 3 2 1 .6 .9-.6 1.2 0 1 .6 .2 .4-.5 .2 1.3 5 4 5.8 5.4 6.6 8 3.9 7 1.6 4 1.1 4.6 .5 4-.1 5-1 5.4-1.2 4-3.8 7.6-2.4 3.4-4.6 5.6-8.6 8-9 6.7-7.4 4.8-10 5.5-17.6 8 0 2.4-2 .1-.4 .5-12 0-.6 .5-6 0-.4 .5-5 0-.6 .5-3.4 0-.6 .5-3.4 0-.6 .5-6 .5-.4 .5-2.6 0-.4 .5-2 0-.6 .5-2 0-.4 .5-2 0-.6 .5-2 0-.4 .5-1.6 0-.4 .5-2 0-.6 .5-3.4 .5-.6 .5-1.4 0-2 1-3 .5-.6 .5-1.4 0-2 1-1.6 0-.4 .5-1 0-.6 .5-2.4 .5-.6 .5-1 0-2 1-4 1-1.4 1-2.6 .5-4 2-2.4 .5-2.6 1.5-1 0-1.4 1-1 0-3.6 2-1 0-4.4 2.5-1 0-9.6 4.8-1-2-1 0-18.4 2.6-18 2-30.6 2.6-38 1.9-28 .5-24-.2-24-.7-39.4-2.6-20.6-2-27-3.3-21.4-3.3-20.6-4-2.4 1.7-3-1.5-1-1-4.6-2-1-1-1 0-1-1-8-4-1 0-1-1-1 0-3.4-2-1 0-2.6-1.5-1 0-2.4-1.5-1 0-1.6-1-1 0-1.4-1-2.6-.5-1.4-1-4-1-.6-.5-1 0-.4-.5-4-1-.6-.5-1.4 0-2-1-3.6-.5-2-1-4-.5-.4-.5-1.6 0-.4-.5-2 0-.6-.5-4.4-.5-.6-.5-2.4 0-.6-.5-2.4 0-.6-.5-2.4 0-.6-.5-8-.5-.4-.5-5 0-.6-.5-.6 0 .2-2.6-5-2.5-14.2-8.9-7-5.6-6.3-6-6.8-8.4-2.9-5-1.8-4-1.4-5-.5-3-.2-4 .3-4.6 1.7-7 4.1-8.3 7-9.1 5.1-5 4.7-4 .1-1-.5-.6 0-.6 1.2 1.2 .5 0 0-1-.7-1.2 .6-.9 2 1.7 .1-1.2-.7-1.4 .6-.6 2-1 7.4-6 .6 0 1.4-1.5 .6 0 1.4-1.5 .6 0 2-2 .4 0 1.6-1.5 .4 0 5-4.5 .6 0 2-2.1 .4 0 2.6-2.5 .4 0 3-3 .6 0 3-3 .4 0 3-3 .6 0 3.4-3.5 .6 0 9.4-9 .6 0 5.4-5.5 .6 0 6.4-6.5 .6 0 19-18.6 .4 0 11.6-11.5 .4 0 11.6-11.5 .4 0 9.6-9.5 .4 0 8-8 .6 0 12-11.5 .4 0 4.6-4.5 .4 0 3.6-3.5 .4 0 4-4 .6 0 3-3 .4 0 2.6-2.5 .4 0 3-3 .6 0 12.4-10.6 .6 0 1.4-1.5 .6 0 9.4-7.5 2-1 1.6-1.5 .4 0 1-1 .6 0 1-1 .4 0 4-3 .6 0 2.4-2 2-1 1-1 1.6-.5 1-1 3-1.5 1-1 1.4-.5 1-1 3.6-1.5 1-1 16-8 1 0 2.4-1.5 1 0 4-2 2.6-.5 1.4-1 1 0 .6-.5 4-1 .4-.5 1 0 .6-.5 1 0 .4-.5 1.6 0 2-1 3.4-.5 .6-.5 1.4 0 .6-.5 1.4 0 .6-.5 4.4-.5 .6-.5 2.4 0 .6-.5 3.1-.2zM1090.8 415.4l-.3-.2 .3-.2 0 .4zM488.8 417.3l0 0z"/>
<path fill="#3c71ff" d="M809.6 207.2l3.2 .2 .4 .5 2.6 0 .4 .5 2 0 .6 .5 2 0 .4 .5 1.6 0 .4 .5 1.6 0 .4 .5 3.6 .5 .4 .5 2.6 .5 .4 .5 1.6 0 2 1 1 0 .4 .5 1 0 .6 .5 1 0 .4 .5 1 0 1.6 1 1 0 3 1.5 1 0 2.4 1.5 1 0 2.6 1.5 1 0 15 7.5 1 1 6 3 1 1 1.4 .5 2.6 2 1.4 .5 10 7 2 1 1 1 .6 0 1.4 1.5 2 1 9.6 7.6 .4 0 1.6 1.5 .4 0 9.6 8 .4 0 8.6 7.5 .4 0 3 3 .6 0 3.4 3.5 .6 0 3.4 3.5 .6 0 4 4 .4 0 11 10.5 .6 0 6.4 6.5 .6 0 8 8 .4 0 9.6 9.5 .4 0 10 10 .6 0 10 10 .4 0 16.6 16.1 .4 0 6 6 .6 0 5 5 .4 0 4.6 4.5 .4 0 12 11 .6 0 3 3 .4 0 2.6 2.5 .4 0 2.6 2.6 .4 0 2.6 2.5 .4 0 4.6 4 .4 0 2 2 .6 0 4 3.5 .4 0 5.6 4.5 2 1 3.4 3 .6 0 .4 .6-.8 1.5 .1 1 4.8 4 5.9 6 4 5 3 4.8 3.1 7.2 1.3 6 .3 4.4-.3 4-.7 3.6-2 6-1.7 3.4-2.5 4-6.9 8.5-8.6 7.6-12 8.4-9 5.3-11 5.5-11 4.9-13.4 5-.5 .4 0 2.4-2.1 .1-.4 .5-5 0-.6 .5-3.4 0-.6 .5-3.4 0-.6 .5-2.4 0-.6 .5-3 0-.4 .5-2.6 0-.4 .5-2 0-.6 .5-2 0-.4 .5-2 0-.6 .5-2 0-.4 .5-1.6 0-.4 .5-2 0-.6 .5-3.4 .5-.6 .5-1.4 0-2 1-1.6 0-2 1-1.4 0-2 1-1.6 0-.4 .5-1 0-.6 .5-2.4 .5-.6 .5-1 0-2 1-4 1-1.4 1-2.6 .5-4 2-2.4 .5-2.6 1.5-1 0-3 1.5-1 0-.5-1.6-.9-.3-20 3.4-18.6 2.4-29.4 3.2-19 1.4-36 1.8-29.6 .6-45-.9-19-1-26.4-2-27-2.9-24.6-3.4-25-4.3-23.4-5-4.6-1.3-1.4 1.3 0 .6-1 0-.6-.5-1 0-1-1-1 0-3.4-2-1 0-2.6-1.5-1 0-2.4-1.5-1 0-4-2-2.6-.5-1.4-1-4-1-.6-.5-2.4-.5-.6-.5-1 0-2-1-1.4 0-2-1-3.6-.5-.4-.5-3-.5-.6-.5-2 0-.4-.5-1.6 0-.4-.5-2 0-.6-.5-2 0-.4-.5-2 0-.6-.5-2.4 0-.6-.5-.7-.1-.3-2.6-6.4-2.7-12.1-6.1-13.9-8.6-10.6-8.4-5-5-5.5-7-2.5-4-2-4.6-2.2-8-.3-5 .4-4.4 2.1-7.6 3-6.2 4-5.8 4.4-5 7.6-7 0-.6 .6 .2 .7-.6 0-1-.7-1.2 .4-.8 .6 0 7.4-6 .6 0 1.4-1.5 .6 0 1.4-1.5 .6 0 2-2 .4 0 1.6-1.5 .4 0 2-2 .6 0 2.4-2.5 .6 0 5-4.5 .4 0 3-3.1 .6 0 3-3 .4 0 3-3 .6 0 3.4-3.5 .6 0 9.4-9 .6 0 5.4-5.5 .6 0 6.4-6.5 .6 0 19-18.6 .4 0 11.6-11.5 .4 0 11.6-11.5 .4 0 9.6-9.5 .4 0 8-8 .6 0 12-11.5 .4 0 4.6-4.5 .4 0 3.6-3.5 .4 0 4-4 .6 0 6-5.5 .4 0 3-3 .6 0 12.4-10.5 .6 0 1.4-1.5 .6 0 9.4-7.6 2-1 1.6-1.5 .4 0 1-1 .6 0 1-1 .4 0 4-3 .6 0 2.4-2 2-1 1-1 1.6-.5 1-1 3-1.5 1-1 1.4-.5 1-1 3.6-1.5 1-1 16-8 1 0 2.4-1.5 1 0 4-2 2.6-.5 1.4-1 1 0 .6-.5 4-1 .4-.5 2.6-.5 .4-.5 1.6 0 2-1 3.4-.5 .6-.5 1.4 0 .6-.5 1.4 0 .6-.5 4.4-.5 .6-.5 2.4 0 .6-.5 3.1-.2z"/>
<path fill="#3876fe" d="M809.6 207.2l3.2 .2 .4 .5 2.6 0 .4 .5 2 0 .6 .5 2 0 .4 .5 1.6 0 .4 .5 1.6 0 .4 .5 3.6 .5 .4 .5 2.6 .5 .4 .5 1.6 0 2 1 1 0 .4 .5 1 0 .6 .5 1 0 .4 .5 1 0 1.6 1 2.4 .5 1.6 1 1 0 2.4 1.5 1 0 2.6 1.5 1 0 15 7.5 1 1 6 3 1 1 1.4 .5 2.6 2 1.4 .5 10 7.1 2 1 1 1 .6 0 1.4 1.5 2 1 9.6 7.5 .4 0 1.6 1.5 .4 0 9.6 8 .4 0 8.6 7.5 .4 0 3 3 .6 0 3.4 3.5 .6 0 3.4 3.5 .6 0 4 4 .4 0 11 10.5 .6 0 6.4 6.5 .6 0 8 8 .4 0 9.6 9.5 .4 0 29.6 28.6 .4 0 7.6 7.5 .4 0 6 6 .6 0 10 9.5 .4 0 4 4 .6 0 3.4 3.5 .6 0 3.4 3.5 .6 0 3 3.1 .4 0 8.6 7.5 .4 0 2 2 .6 0 6.4 5.5 .6 0 2 2 .4 0 1.6 1.5 .4 0 3.6 3 .4 0 .6 .5-.7 1.6 .1 1.1 .6 .2 1.4-1.5 .6 .1-.9 1.5 0 1 1.9 1.2 9.3 9.8 3.1 4.3 2.6 4.1 2.7 6.6 1.2 6 0 7.6-.6 3.4-1.8 5.6-3 6-2 3-6.3 7.4-8.3 7.6-9.5 6.7-10.4 6.3-10.6 5.4-14 6.1-12.4 4.8-22 7.1-15.6 4.1-.9 .5-.1 1 0-.6-1-.4-.9 .4-.1 1.1-.4-1-23.6 5.5-24 4.5-18.4 2.9-24.6 3.1-24.4 2.5-29.6 2-23 .9-24 .4-29-.3-19-.6-26.4-1.5-24.6-2.1-29.4-3.4-21-3.1-38-7.4-14.6-3.5-18-5-.4-.4-19-6-20-8-11.6-5.5-11.4-6.5-10-6.9-9.6-8.1-6.8-8-3.7-6-1.4-3-1.6-5-.6-3-.4-4.6 .1-3.4 1.4-6.9 3.6-7.9 2.7-4.2 3.5-4.6 8.2-8-.4-2.1 1.1 1.1 1.1-.4 0-1-.8-1.3 .6-.8 2 1.6 0-1.1-.5-.4-.1-1 .6-.6 .4 0 1.6 1.6-.6-2.6 1-1 .6 0 3.4-3 .6 0 2-2 .4 0 4-3.5 .6 0 2.4-2.5 .6 0 2-2 .4 0 9.6-8.5 .4 0 3-3.1 .6 0 3.4-3.5 .6 0 9.4-9 .6 0 12.4-12 .6 0 8.4-8.5 .6 0 10-10.1 .4 0 33.6-32.5 .4 0 8-8 .6 0 12-11.5 .4 0 4.6-4.5 .4 0 3.6-3.5 .4 0 4-4 .6 0 3-3 .4 0 2.6-2.5 .4 0 3-3 .6 0 12.4-10.5 .6 0 1.4-1.5 .6 0 9.4-7.5 2-1 1.6-1.5 .4 0 1-1 .6 0 1-1.1 .4 0 8.6-6 .4 0 1-1 1.6-.5 1-1 3-1.5 1-1 1.4-.5 1-1 3.6-1.5 1-1 16-8 1 0 2.4-1.5 1 0 4-2 2.6-.5 1.4-1 1 0 .6-.5 4-1 .4-.5 1 0 .6-.5 1 0 .4-.5 1.6 0 2-1 3.4-.5 .6-.5 1.4 0 .6-.5 1.4 0 .6-.5 2 0 .4-.5 2 0 .6-.5 2.4 0 .6-.5 3.1-.2zM495.2 412.8l0 0z"/>
<path fill="#337afd" d="M809.6 207.2l3.2 .2 .4 .5 2.6 0 .4 .5 2 0 .6 .5 2 0 .4 .5 1.6 0 .4 .5 1.6 0 .4 .5 3.6 .5 .4 .5 2.6 .5 .4 .5 1.6 0 2 1 1 0 .4 .5 1 0 .6 .5 1 0 .4 .5 1 0 1.6 1 1 0 3 1.5 1 0 2.4 1.5 1 0 2.6 1.5 1 0 15 7.5 1 1 6 3 1 1 1.4 .6 2.6 2 1.4 .5 10 7 2 1 1 1 .6 0 1.4 1.5 2 1 9.6 7.5 .4 0 1.6 1.5 .4 0 9.6 8 .4 0 8.6 7.5 .4 0 3 3 .6 0 3.4 3.5 .6 0 3.4 3.5 .6 0 9.4 9 .6 0 5.4 5.5 .6 0 6.4 6.5 .6 0 18 17.5 .4 0 10 10 .6 0 10 10.1 .4 0 8.6 8.5 .4 0 7.6 7.5 .4 0 11.6 11 .4 0 9 8.5 .6 0 3.4 3.5 .6 0 3.4 3.6 .6 0 3 3 .4 0 8.6 7.5 .4 0 2 2 .6 0 6.4 5.5 .6 0 2 2 .4 0 1.6 1.5 .4 0 1.6 1.5 .4 0 1.1 1-.8 1.6 0 1 7.3 7 3.1 3.4 3.8 5.6 3.5 7.4 1.7 7.6-.2 7.4-2 8-4.3 8-6.6 8.2-5.6 5.4-12 8.9-11.4 6.8-13.6 6.7-18.3 7.6-12.7 4.3-21.4 6.5-17 4.3-20.6 4.5-24.4 4.4-20.6 3.1-27 3.1-26.4 2.3-25.6 1.4-41 .9-32-.4-18-.8-26-1.6-20.4-1.9-22.6-2.6-23.4-3.4-20.6-3.7-16-3.3-20-5-19.4-5.6-21.6-7.5-12.4-5.3-12.8-6.3-10.2-6-10.1-7-8.9-8-6.5-8-4.3-8-2.1-7.4-.3-5 .2-3.6 1.6-7 3.1-7 3.4-5 4.3-5.3 6-5.7 0-.6 .6 .2 1.3-1 0-1-.9-1.4 .6-.7 2 1.6 0-1.1-.5-.4-.1-1 1-1.1 .6 0 1.4-1.5 .6 0 2-2 .4 0 1.6-1.5 .4 0 2-2 .6 0 2.4-2.5 .6 0 2-2 .4 0 2.6-2.5 .4 0 10-9 .6 0 3.4-3.6 .6 0 9.4-9 .6 0 12.4-12 .6 0 8.4-8.5 .6 0 10-10 .4 0 33.6-32.6 .4 0 8-8 .6 0 12-11.5 .4 0 4.6-4.5 .4 0 3.6-3.5 .4 0 4-4 .6 0 3-3 .4 0 2.6-2.5 .4 0 3-3 .6 0 12.4-10.5 .6 0 1.4-1.5 .6 0 9.4-7.5 2-1 1.6-1.5 .4 0 1-1 .6 0 1-1 .4 0 4-3 .6 0 2.4-2 2-1 1-1 1.6-.5 1-1 3-1.6 1-1 1.4-.5 1-1 3.6-1.5 1-1 16-8 1 0 2.4-1.5 1 0 4-2 2.6-.5 1.4-1 1 0 .6-.5 4-1 .4-.5 1 0 .6-.5 1 0 .4-.5 1.6 0 2-1 3.4-.5 .6-.5 1.4 0 .6-.5 1.4 0 .6-.5 2 0 .4-.5 2 0 .6-.5 2.4 0 .6-.5 3.1-.2z"/>
<path fill="#307efb" d="M809.6 207.2l3.2 .2 .4 .5 2.6 0 .4 .5 2 0 .6 .5 2 0 .4 .5 1.6 0 .4 .5 1.6 0 .4 .5 3.6 .5 .4 .5 2.6 .5 .4 .5 1.6 0 2 1 1 0 .4 .5 1 0 .6 .5 1 0 .4 .5 1 0 1.6 1 1 0 3 1.5 1 0 2.4 1.5 1 0 2.6 1.5 1 0 15 7.6 1 1 6 3 1 1 1.4 .5 2.6 2 1.4 .5 10 7 2 1 1 1 .6 0 1.4 1.5 2 1 9.6 7.5 .4 0 1.6 1.5 .4 0 9.6 8 .4 0 8.6 7.5 .4 0 3 3 .6 0 3.4 3.5 .6 0 3.4 3.5 .6 0 9.4 9 .6 0 5.4 5.5 .6 0 6.4 6.5 .6 0 18 17.5 .4 0 10 10.1 .6 0 10 10 .4 0 8.6 8.5 .4 0 7.6 7.5 .4 0 11.6 11 .4 0 4.6 4.5 .4 0 4 4 .6 0 11 10.1 .4 0 2.6 2.5 .4 0 2.6 2.5 .4 0 2.6 2.5 .4 0 4.6 4 .4 0 2 2 .6 0 4 3.5 .4 0 1.1 1-.8 1.6 0 1 1.7 1.2 6.1 6.2 3.5 4.6 3 4.6 3 6.8 1.4 7 .1 3.6-.6 5.4-2 6.6-1.7 3.4-3.2 5-6 7.4-8 7.1-10.6 7.6-8.4 5-17 8.3-12 4.9-14 5-16.6 5.2-19 5.1-18 4.1-23.4 4.4-20.6 3.2-20 2.7-32 3.1-22 1.5-24 1-21.4 .4-18.6-.1-31.4-.9-23.6-1.3-21.4-1.8-25-2.8-21-3-19.6-3.3-25.4-5.3-18-4.6-23-6.9-11.6-4.1-16.4-6.9-8.3-4-12.3-6.8-10-6.9-8.5-7.3-7.2-8.4-2.3-3.6-2.4-5-1.6-5-.6-3-.2-7 1.3-6.4 3.1-7.4 5.1-7.6 4.1-4.6 4.2-4-.4-2.1 1.1 1.1 1.1-.4 0-1-.8-1.6 1-1 .6 0 2-2 .4 0 1.6-1.5 .4 0 5-4.5 .6 0 2-2 .4 0 2.6-2.5 .4 0 10-9 .6 0 3.4-3.5 .6 0 9.4-9.1 .6 0 12.4-12 .6 0 8.4-8.5 .6 0 10-10 .4 0 33.6-32.6 .4 0 8-8 .6 0 6-6 .4 0 10.6-10 .4 0 8-7.5 .6 0 3-3 .4 0 11.6-10 .4 0 7-6 .6 0 1.4-1.5 .6 0 9.4-7.5 2-1 1.6-1.5 .4 0 1-1 .6 0 1-1 .4 0 4-3 .6 0 2.4-2 2-1 1-1 1.6-.5 1-1 3-1.5 1-1 1.4-.5 1-1 3.6-1.5 1-1 16-8.1 1 0 2.4-1.5 1 0 4-2 2.6-.5 1.4-1 1 0 .6-.5 4-1 .4-.5 1 0 .6-.5 1 0 .4-.5 1.6 0 2-1 3.4-.5 .6-.5 1.4 0 .6-.5 1.4 0 .6-.5 2 0 .4-.5 2 0 .6-.5 2.4 0 .6-.5 3.1-.2zM503.2 406.8l0 0z"/>
<path fill="#2e83f9" d="M809.6 207.2l3.2 .2 .4 .5 2.6 0 .4 .5 2 0 .6 .5 2 0 .4 .5 1.6 0 .4 .5 1.6 0 .4 .5 3.6 .5 .4 .5 2.6 .5 .4 .5 1.6 0 2 1 1 0 .4 .5 1 0 .6 .6 1 0 .4 .5 1 0 1.6 1 1 0 3 1.5 1 0 2.4 1.5 1 0 2.6 1.5 1 0 15 7.5 1 1 6 3 1 1 1.4 .5 2.6 2 1.4 .5 10 7 2 1 1 1 .6 0 1.4 1.5 2 1 9.6 7.5 .4 0 1.6 1.5 .4 0 9.6 8 .4 0 8.6 7.5 .4 0 3 3 .6 0 3.4 3.5 .6 0 3.4 3.5 .6 0 4 4 .4 0 11 10.5 .6 0 6.4 6.5 .6 0 8 8 .4 0 9.6 9.5 .4 0 10 10.1 .6 0 10 10 .4 0 8.6 8.5 .4 0 14 13.5 .6 0 5 5 .4 0 4.6 4.6 .4 0 4 4 .6 0 11 10 .4 0 8.6 7.5 .4 0 7 6 .6 0 1 1.1-.8 1.4 .2 1.3 1 .7 1.6-1.5 .4 0-.9 1.5 0 1 6.7 7 3.8 5.1 2 3.5 2.5 6.4 1.2 7-.3 7-.5 2.6-2 5.4-3.9 7-5.6 6.8-6.4 6.3-7 5.5-5.6 3.7-10 5.8-15 7.3-15 6.2-9 3.1-24.4 7.5-17.6 4.5-17 3.7-19.4 3.6-23 3.6-21.6 2.6-25.4 2.4-28.6 1.9-43 1.1-45.4-1-24.6-1.5-21.4-1.8-19.6-2.2-23.4-3.3-27-4.8-20-4.3-19-5-18.6-5.7-11.4-4-16.6-7-9-4.3-15-8.9-9-6.6-6.5-6.2-6.1-7.4-3.8-7-2.3-7.6-.4-7 1-6.4 2.7-6.9 2.3-4.1 3.7-5 7.3-7.6 0-1-.9-1.4 1-1.1 2 1.7 .2-1.2-.5-.4-.2-1 1.1-1.1 .4 0 2-2 .6 0 2.4-2.5 .6 0 5-4.5 .4 0 3-3 .6 0 3-3 .4 0 7-6.5 .6 0 4.4-4.5 .6 0 4.4-4.6 .6 0 5.4-5.5 .6 0 15.4-15 .6 0 10-10 .4 0 11.6-11.5 .4 0 11.6-11.6 .4 0 9.6-9.5 .4 0 8-8 .6 0 12-11.5 .4 0 4.6-4.5 .4 0 3.6-3.5 .4 0 4-4 .6 0 3-3 .4 0 2.6-2.5 .4 0 3-3 .6 0 12.4-10.5 .6 0 1.4-1.5 .6 0 9.4-7.5 2-1 1.6-1.5 .4 0 1-1 .6 0 1-1 .4 0 4-3 2-1 2.6-2 .4 0 1-1 1.6-.5 1-1 3-1.5 1-1 1.4-.5 1-1 3.6-1.5 1-1 16-8 1 0 2.4-1.5 1 0 4-2 2.6-.5 1.4-1 1 0 .6-.5 4-1.1 .4-.5 1 0 .6-.5 1 0 .4-.5 1.6 0 2-1 3.4-.5 .6-.5 1.4 0 .6-.5 1.4 0 .6-.5 2 0 .4-.5 2 0 .6-.5 2.4 0 .6-.5 3.1-.2z"/>
<path fill="#2d88f6" d="M809.5 207.2l3.3 .3 .4 .5 2.6 0 .4 .5 2 0 .6 .5 2 0 .4 .5 1.6 0 .4 .5 1.6 0 .4 .5 3.6 .5 .4 .5 2.6 .5 .4 .5 1.6 0 2 1 1 0 .4 .5 1 0 .6 .5 1 0 .4 .5 1 0 1.6 1 1 0 3 1.5 1 0 2.4 1.5 1 0 2.6 1.5 1 0 15 7.5 1 1 6 3 1 1 1.4 .5 2.6 2 1.4 .5 10 7 2 1 1 1 .6 0 1.4 1.5 2 1 9.6 7.5 .4 0 1.6 1.5 .4 0 9.6 8 .4 0 8.6 7.5 .4 0 3 3 .6 0 3.4 3.5 .6 0 3.4 3.5 .6 0 9.4 9 .6 0 5.4 5.5 .6 0 6.4 6.5 .6 0 8 8 .4 0 9.6 9.6 .4 0 10 10 .6 0 10 10 .4 0 8.6 8.5 .4 0 14 13.5 .6 0 5 5 .4 0 4.6 4.6 .4 0 12 11 .6 0 3 3 .4 0 8.6 7.5 .4 0 2 2 .6 0 1.5 1.5-.5 2.6 .4 0 1.6-1.5 .4 .4 .6 .6-.9 1.5 0 1 7.9 8.4 3.4 5.2 1.8 3.4 2.1 6 .8 6 0 3.4-.6 4.6-1.7 5.4-4.8 8.6-4.9 6-8.2 7.4-8.9 6.6-11 6.6-13.6 6.7-11.1 4.7-16.3 6-14.6 4.4-2.4 .5-1 .6-17.6 4.5-32.4 6.9-22 3.6-26.6 3.5-39 3.5-29 1.5-23.4 .5-42.6-.6-28.4-1.5-25-2-39.6-4.9-24.4-4.2-16.6-3.3-18.4-4.5-15-4.2-19.6-6.4-19-7.7-10.4-5.1-13-7.5-7.6-5.3-8.2-7.3-3.3-3.6-3.8-5-2.8-5-1.3-3-1.7-6-.4-7 1.1-6.5 3-7.4 5.3-8.1 7.3-7.4 0-1-.7-1.6 1.5-1.5 .6 0 2.4-2.5 .6 0 2-2 .4 0 9.6-8.5 .4 0 3-3 .6 0 13.4-12.6 .6 0 5.4-5.5 .6 0 15.4-15 .6 0 10-10 .4 0 11.6-11.5 .4 0 11.6-11.6 .4 0 9.6-9.5 .4 0 8-8 .6 0 6-6 .4 0 10.6-10 .4 0 8-7.5 .6 0 3-3 .4 0 11.6-10 .4 0 7-6 .6 0 1.4-1.5 .6 0 9.4-7.5 2-1 1.6-1.5 .4 0 1-1 .6 0 1-1 .4 0 4-3 .6 0 2.4-2 2-1 1-1 1.6-.5 1-1 3-1.5 1-1 1.4-.5 1-1 3.6-1.5 1-1 16-8 1 0 2.4-1.5 1 0 4-2 2.6-.5 1.4-1 1 0 .6-.5 4-1 .4-.5 1 0 .6-.5 1 0 .4-.5 1.6 0 2-1 3.4-.5 .6-.5 1.4 0 .6-.5 1.4 0 .6-.5 2 0 .4-.5 2 0 .6-.5 2.4 0 .6-.5 3.2-.3z"/>
<path fill="#2d8cf3" d="M809.5 207.2l3.3 .3 .4 .5 2.6 0 .4 .5 2 0 .6 .5 2 0 .4 .5 1.6 0 .4 .5 1.6 0 .4 .5 3.6 .5 .4 .5 2.6 .5 .4 .5 1.6 0 2 1 1 0 .4 .5 1 0 .6 .5 1 0 .4 .5 1 0 1.6 1 1 0 3 1.5 1 0 2.4 1.5 1 0 2.6 1.5 1 0 15 7.5 1 1 6 3 1 1 1.4 .5 2.6 2 1.4 .5 10 7 2 1 1 1 .6 0 1.4 1.5 2 1 9.6 7.5 .4 0 1.6 1.5 .4 0 9.6 8 .4 0 8.6 7.5 .4 0 3 3 .6 0 3.4 3.5 .6 0 3.4 3.5 .6 0 4 4 .4 0 11 10.5 .6 0 6.4 6.5 .6 0 8 8.1 .4 0 9.6 9.5 .4 0 10 10 .6 0 10 10 .4 0 8.6 8.5 .4 0 14 13.5 .6 0 5 5.1 .4 0 4.6 4.5 .4 0 12 11 .6 0 3 3 .4 0 8.6 7.5 .4 0 1.6 1.5-.7 1.6 0 1 6.8 7 4.3 6 1.7 3 2.5 6.4 1 5.6-.5 8-1.9 6.4-1.7 3.6-3.1 4.8-5.1 6.2-6.3 6-7.6 5.7-11 6.9-12.4 6.4-16.4 7-16.6 5.8-22.6 6.7-12.4 3.1-19.6 4.2-16.4 3.1-18.6 3-19.4 2.5-25.6 2.6-21.4 1.5-24 1.1-24.6 .5-21-.1-22.4-.6-24-1.3-20-1.6-21-2.3-27-3.7-13.6-2.5-.4 .2-21.6-4.3-16-3.8-14-3.8-19-6.1-15-5.6-15.4-7.1-9.3-5.1-9.3-5.9-10.5-8.5-6.7-7.6-4.4-7-2.4-6.4-1-7.6 .5-6 1-4 1.5-3.7 2.6-4.6 2.5-3.7 6.8-7.4 0-1-.9-1.6 1.6-1.5 2 1.6 0-1.1-.5-.4-.1-1 1.6-1.6 .4 0 2.6-2.5 .4 0 10-9 .6 0 13.4-12.5 .6 0 5.4-5.6 .6 0 15.4-15 .6 0 10-10 .4 0 11.6-11.5 .4 0 11.6-11.5 .4 0 9.6-9.6 .4 0 8-8 .6 0 6-6 .4 0 10.6-10 .4 0 8-7.5 .6 0 3-3 .4 0 11.6-10 .4 0 7-6 .6 0 1.4-1.5 .6 0 9.4-7.5 2-1 1.6-1.5 .4 0 1-1 .6 0 1-1 .4 0 4-3 2-1 2.6-2 .4 0 1-1 1.6-.5 1-1 3-1.5 1-1 1.4-.5 1-1 3.6-1.5 1-1 16-8 1 0 2.4-1.5 1 0 4-2 2.6-.5 1.4-1 1 0 .6-.5 4-1 .4-.5 1 0 .6-.5 1 0 .4-.5 1.6 0 2-1 3.4-.5 .6-.5 1.4 0 .6-.5 1.4 0 .6-.5 2 0 .4-.5 2 0 .6-.5 2.4 0 .6-.5 3.2-.3z"/>
<path fill="#2b91ef" d="M809.5 207.2l3.3 .3 .4 .5 2.6 0 .4 .5 2 0 .6 .5 2 0 .4 .5 1.6 0 .4 .5 1.6 0 .4 .5 3.6 .5 .4 .5 2.6 .5 .4 .5 1.6 0 2 1 1 0 .4 .5 1 0 .6 .5 1 0 .4 .5 1 0 1.6 1 1 0 3 1.5 1 0 2.4 1.5 1 0 2.6 1.5 1 0 15 7.5 1 1 6 3 1 1 1.4 .5 2.6 2 1.4 .5 10 7 2 1 1 1 .6 0 1.4 1.5 2 1 9.6 7.5 .4 0 1.6 1.5 .4 0 9.6 8 .4 0 8.6 7.5 .4 0 3 3 .6 0 3.4 3.5 .6 0 3.4 3.5 .6 0 4 4 .4 0 11 10.5 .6 0 6.4 6.5 .6 0 8 8.1 .4 0 9.6 9.5 .4 0 10 10 .6 0 10 10 .4 0 8.6 8.5 .4 0 14 13.6 .6 0 5 5 .4 0 4.6 4.5 .4 0 12 11 .6 0 3 3 .4 0 2.6 2.5 .4 0 2.6 2.5 .4 0 2.1 2-.9 1.6 0 1 5.7 6 5.1 7.8 2.7 6.6 1 6.6-.3 6-.7 3.4-1.6 4.6-3.3 6-2.5 3.4-4 4.6-4.7 4.4-5 4.2-8 5.5-10.6 6.1-11.8 5.8-10.8 4.4-12.8 4.8-15 4.8-2.6 .4-1 .6-15 4-23.4 5.3-14 2.7-14.6 2.5-27.4 3.6-20 2.1-25 1.9-20 1-25 .6-20 0-27.6-.7-26-1.5-23.4-2-18-2.1-26-3.8-20.6-3.6-12.4-3-1.6 0-18.4-4.6-11-3.2-16-5.2-17-6.5-10-4.5-10.3-5.6-10.7-6.8-10-8.2-6.9-8-3.8-6-2.2-5.4-.8-3.6-.4-7 1.1-6.4 3-7.3 3.3-5.3 6.1-7 0-.6 .6 .2 1.6-1.6-.7-2.4 2.1-2.1 .4 0 10-9 .6 0 13.4-12.5 .6 0 5.4-5.5 .6 0 15.4-15.1 .6 0 10-10 .4 0 11.6-11.5 .4 0 11.6-11.5 .4 0 9.6-9.5 .4 0 8-8.1 .6 0 6-6 .4 0 10.6-10 .4 0 8-7.5 .6 0 3-3 .4 0 11.6-10 .4 0 7-6 .6 0 1.4-1.5 .6 0 9.4-7.5 2-1 1.6-1.5 .4 0 1-1 .6 0 1-1 .4 0 8.6-6 .4 0 1-1 1.6-.5 1-1 3-1.5 1-1 1.4-.5 1-1 3.6-1.5 1-1 16-8 1 0 2.4-1.5 1 0 4-2 2.6-.5 1.4-1 1 0 2-1 2.6-.5 .4-.5 2.6-.5 .4-.5 1.6 0 2-1 3.4-.5 .6-.5 1.4 0 .6-.5 1.4 0 .6-.5 2 0 .4-.5 2 0 .6-.5 2.4 0 .6-.5 3.2-.3z"/>
<path fill="#2895ec" d="M809.5 207.2l3.3 .3 .4 .5 2.6 0 .4 .5 2 0 .6 .5 2 0 .4 .5 1.6 0 .4 .5 1.6 0 .4 .5 3.6 .5 .4 .5 2.6 .5 .4 .5 1.6 0 2 1 1 0 .4 .5 1 0 .6 .5 1 0 .4 .5 1 0 1.6 1 2.4 .5 1.6 1 1 0 2.4 1.5 1 0 2.6 1.5 1 0 15 7.5 1 1 6 3 1 1 1.4 .5 2.6 2 1.4 .5 10 7 2 1 1 1 .6 0 1.4 1.5 2 1 9.6 7.5 .4 0 1.6 1.5 .4 0 9.6 8 .4 0 8.6 7.5 .4 0 3 3 .6 0 3.4 3.5 .6 0 3.4 3.5 .6 0 4 4 .4 0 11 10.5 .6 0 6.4 6.6 .6 0 8 8 .4 0 9.6 9.5 .4 0 10 10 .6 0 10 10 .4 0 16.6 16.1 .4 0 6 6 .6 0 5 5 .4 0 9 8.5 .6 0 7.4 7 .6 0 3 3 .4 0 2.1 2-.1 1-.5 .6 .1 1.1 .4 .3 1.6-1.5 .4 0-1.5 2.1 .5 0 1.6-1.5 .5 .5-1 1.4 0 1 6.5 7.6 4 7 2 6 .8 7-.8 6-2.7 7.4-2.9 5.1-3 3.9-4.4 4.8-8 6.8-9.6 6.5-9 5.1-14.4 6.9-17.9 6.9-17.1 5.6-14.6 4-16.4 4-22 4.5-18 3-1.6-.1-4 .9-14 1.9-20.4 2.2-19 1.7-21 1.3-22 .8-21.6 .2-42-.9-41.4-3-21.6-2.5-18-2.5-22.4-3.9-20.6-4.3-11.4-2.8-17.6-5-18-6-13.6-5.5-13.4-6.6-9.4-5.4-10-7-8.7-8-4.1-5-2.6-4-2.2-4.6-1.9-7-.1-7 1-5.5 2.9-6.9 4.7-7 5.7-6 0-1-.8-1.6 2.5-2.5 .6 0 10.4-9.5 .6 0 9.4-9 .6 0 5.4-5.5 .6 0 6.4-6.5 .6 0 19-18.6 .4 0 11.6-11.5 .4 0 11.6-11.5 .4 0 9.6-9.5 .4 0 8-8 .6 0 6-6.1 .4 0 10.6-10 .4 0 8-7.5 .6 0 3-3 .4 0 11.6-10 .4 0 7-6 .6 0 1.4-1.5 .6 0 9.4-7.5 2-1 1.6-1.5 .4 0 1-1 .6 0 1-1 .4 0 4-3 2-1 2.6-2 .4 0 1-1 1.6-.5 1-1 3-1.5 1-1 1.4-.5 1-1 3.6-1.5 1-1 16-8 1 0 2.4-1.5 1 0 4-2 2.6-.5 1.4-1 1 0 .6-.5 4-1 .4-.5 1 0 .6-.5 1 0 .4-.5 1.6 0 2-1 3.4-.5 .6-.5 1.4 0 .6-.5 1.4 0 .6-.5 2 0 .4-.5 2 0 .6-.5 2.4 0 .6-.5 3.2-.3z"/>
<path fill="#269ae9" d="M809.5 207.2l3.3 .3 .4 .5 2.6 0 .4 .5 2 0 .6 .5 2 0 .4 .5 1.6 0 .4 .5 1.6 0 .4 .5 3.6 .5 .4 .5 2.6 .5 .4 .5 1.6 0 2 1 1 0 .4 .5 1 0 .6 .5 1 0 .4 .5 1 0 1.6 1 1 0 3 1.5 1 0 2.4 1.5 1 0 2.6 1.5 1 0 15 7.5 1 1 6 3 1 1 1.4 .5 2.6 2 1.4 .5 10 7 2 1 1 1 .6 0 1.4 1.5 2 1 9.6 7.5 .4 0 1.6 1.5 .4 0 9.6 8 .4 0 8.6 7.5 .4 0 3 3 .6 0 3.4 3.5 .6 0 3.4 3.5 .6 0 4 4 .4 0 11 10.6 .6 0 6.4 6.5 .6 0 8 8 .4 0 9.6 9.5 .4 0 10 10 .6 0 10 10 .4 0 16.6 16.1 .4 0 6 6 .6 0 5 5 .4 0 9 8.5 .6 0 3.4 3.5 .6 0 3.4 3.5 .6 0 2.5 2.6-.7 2.4 6.2 6.5 4.4 6.8 2.8 6.7 1.1 5.6-.3 7-1.5 6-1.5 3.4-2.7 4.6-4.7 6-9.2 8.4-6.4 4.7-11 6.6-13.6 6.7-15.9 6.6-10.1 3.5-13 4-2.4 .5-1 .5-19 5-21 4.5-4 .4-12 2.5-36 5-22 2.2-20 1.4-24 1.1-25.6 .5-23-.3-28-1-20.4-1.4-22.6-2.2-18.4-2.2-19.6-3-22.4-4.4-1.6-.1-6-1.6-5.4-.9-17.6-4.5-13.4-4.1-13.6-4.6-14.4-5.8-11.7-5.6-12.9-7.5-8.4-6.3-7.2-6.6-5.9-7.6-3.1-6-1.7-6-.4-7 1.1-6.4 2.2-5.4 4.4-7.2 5.9-6.4 0-1-.9-1.6 2-2 2 1.6-.5-2.6 2.5-2.5 .6 0 3.4-3.5 .6 0 9.4-9 .6 0 5.4-5.5 .6 0 6.4-6.5 .6 0 19-18.6 .4 0 11.6-11.5 .4 0 11.6-11.5 .4 0 9.6-9.5 .4 0 8-8 .6 0 6-6.1 .4 0 10.6-10 .4 0 8-7.5 .6 0 3-3 .4 0 11.6-10 .4 0 7-6 .6 0 1.4-1.5 .6 0 9.4-7.5 2-1 1.6-1.5 .4 0 1-1 .6 0 1-1 .4 0 8.6-6 .4 0 1-1 1.6-.5 1-1 3-1.5 1-1 1.4-.5 1-1 3.6-1.5 1-1 16-8 1 0 2.4-1.5 1 0 4-2 2.6-.5 1.4-1 1 0 .6-.5 4-1 .4-.5 1 0 .6-.5 1 0 .4-.5 1.6 0 2-1 3.4-.5 .6-.5 1.4 0 .6-.5 1.4 0 .6-.5 2 0 .4-.5 2 0 .6-.5 2.4 0 .6-.5 3.2-.3z"/>
<path fill="#249ee6" d="M809.5 207.2l3.3 .3 .4 .5 2.6 0 .4 .5 2 0 .6 .5 2 0 .4 .5 1.6 0 .4 .5 1.6 0 .4 .5 3.6 .5 .4 .5 2.6 .5 .4 .5 1.6 0 2 1 1 0 .4 .5 1 0 .6 .5 1 0 .4 .5 1 0 1.6 1 1 0 3 1.5 1 0 2.4 1.5 1 0 2.6 1.5 1 0 15 7.5 1 1 6 3 1 1 1.4 .5 2.6 2 1.4 .5 10 7 2 1 1 1 .6 0 1.4 1.5 2 1 9.6 7.5 .4 0 1.6 1.5 .4 0 9.6 8 .4 0 8.6 7.5 .4 0 3 3 .6 0 3.4 3.5 .6 0 3.4 3.5 .6 0 4 4.1 .4 0 11 10.5 .6 0 6.4 6.5 .6 0 8 8 .4 0 9.6 9.5 .4 0 10 10 .6 0 10 10 .4 0 16.6 16.1 .4 0 6 6 .6 0 5 5 .4 0 9 8.5 .6 0 3.4 3.5 .6 0 3 3.1-.8 2.4 5.3 5.6 4.5 6.4 2.9 7 1.1 5.6 0 5.4-.6 3.6-1.2 4-3.9 7.4-5.2 6.6-6.3 6-8.4 6.3-13 7.8-10 4.9-11.6 5-12.8 4.6-12 4-4 .9-1 .5-18.6 4.9-18.4 4.1-18.6 3.4-22 3.4-21 2.5-22.4 2.1-23.6 1.4-38 1-43-.9-25.4-1.6-19.6-1.8-34-4.4-19.4-3.3-21-4.3-18-4.5-21-6.5-9-3.2-14-5.8-10.6-5.1-10.4-6-9.6-6.8-7.2-6.6-2.7-3-3.2-4.6-2.7-5-1.5-4-.8-3.4-.3-7 1-5.6 2-5.1 3.7-6.3 6.1-7 0-1-.9-1.6 2.5-2.5 .6 0 3.4-3.5 .6 0 9.4-9 .6 0 5.4-5.5 .6 0 6.4-6.5 .6 0 19-18.6 .4 0 11.6-11.5 .4 0 11.6-11.5 .4 0 9.6-9.5 .4 0 8-8 .6 0 12-11.5 .4 0 4.6-4.6 .4 0 3.6-3.5 .4 0 4-4 .6 0 3-3 .4 0 2.6-2.5 .4 0 3-3 .6 0 12.4-10.5 .6 0 1.4-1.5 .6 0 9.4-7.5 2-1 1.6-1.5 .4 0 1-1 .6 0 1-1 .4 0 4-3 2-1 2.6-2 .4 0 1-1 1.6-.5 1-1 3-1.5 1-1 1.4-.5 1-1 3.6-1.5 1-1 16-8 1 0 2.4-1.5 1 0 4-2 2.6-.5 1.4-1 1 0 .6-.5 4-1 .4-.5 1 0 .6-.5 1 0 .4-.5 1.6 0 2-1 3.4-.5 .6-.5 1.4 0 .6-.5 1.4 0 .6-.5 2 0 .4-.5 2 0 .6-.5 2.4 0 .6-.5 3.2-.3z"/>
<path fill="#22a2e4" d="M809.5 207.2l3.3 .3 .4 .5 2.6 0 .4 .5 2 0 .6 .5 2 0 .4 .5 1.6 0 .4 .5 1.6 0 .4 .5 3.6 .5 .4 .5 2.6 .5 .4 .5 1.6 0 2 1 1 0 .4 .5 1 0 .6 .5 1 0 .4 .5 1 0 3 1.5 1 0 1.6 1 1 0 2.4 1.5 1 0 2.6 1.5 1 0 5 2.5 10 5 1 1 2.4 1 1 1 5 2.5 2.6 2 1.4 .5 10 7 2 1 1 1 .6 0 3 2.5 .4 0 9.6 7.5 .4 0 1.6 1.5 .4 0 9.6 8 .4 0 8.6 7.5 .4 0 3 3 .6 0 3.4 3.5 .6 0 3.4 3.6 .6 0 9.4 9 .6 0 5.4 5.5 .6 0 6.4 6.5 .6 0 18 17.5 .4 0 10 10 .6 0 10 10 .4 0 8.6 8.6 .4 0 14 13.5 .6 0 5 5 .4 0 4.6 4.5 .4 0 7.6 7-.8 1.6 0 1 3.1 3 3.3 4 4.5 7.4 2 6 .7 5-.4 6-1.9 6.6-3.5 6.4-4.6 5.8-4.1 4.2-8.3 6.8-10 6.4-14 7.2-13.2 5.6-12.4 4.6-16 4.9-16.4 4.5-18 4.1-26 4.7-18 2.6-22 2.6-36.6 2.8-21.4 .9-21 .4-37.6-.7-17-.9-26-2-26-2.9-14.2-2-16.8-2.9-22-4.5-21-5.3-11-3.3-15-5-12.4-5.1-16.3-7.9-6.7-4.1-8-5.5-8.8-8-4.6-5.4-3.7-6.6-2.2-6.4-.5-7 .7-5 2.3-6.6 3.9-6.4 5.2-6 0-1-.9-1.6 3-3 .6 0 4.4-4.5 .6 0 4.4-4.5 .6 0 12.4-12 .6 0 19-18.6 .4 0 11.6-11.5 .4 0 11.6-11.5 .4 0 9.6-9.5 .4 0 8-8 .6 0 12-11.5 .4 0 4.6-4.5 .4 0 3.6-3.6 .4 0 4-4 .6 0 3-3 .4 0 2.6-2.5 .4 0 3-3 .6 0 12.4-10.5 .6 0 1.4-1.5 .6 0 9.4-7.5 2-1 1.6-1.5 .4 0 1-1 .6 0 1-1 .4 0 4-3 2-1 2.6-2 .4 0 1-1 1.6-.5 1-1 3-1.5 1-1 1.4-.5 1-1 3.6-1.5 1-1 16-8 1 0 2.4-1.5 1 0 4-2 2.6-.5 1.4-1 1 0 2-1 2.6-.5 .4-.5 2.6-.5 .4-.5 1.6 0 2-1 3.4-.5 .6-.5 1.4 0 .6-.5 1.4 0 .6-.5 2 0 .4-.5 2 0 .6-.5 2.4 0 .6-.5 3.2-.3z"/>
<path fill="#20a5e2" d="M809.5 207.2l3.3 .3 .4 .5 2.6 0 .4 .5 2 0 .6 .5 2 0 .4 .5 1.6 0 .4 .5 1.6 0 .4 .5 3.6 .5 .4 .5 2.6 .5 .4 .5 1.6 0 2 1 1 0 .4 .5 1 0 .6 .5 1 0 .4 .5 1 0 3 1.5 1 0 1.6 1 1 0 2.4 1.5 1 0 2.6 1.5 1 0 5 2.5 10 5 1 1 2.4 1 1 1 5 2.5 2.6 2 1.4 .5 10 7 2 1 1 1 .6 0 3 2.5 .4 0 9.6 7.5 .4 0 1.6 1.5 .4 0 9.6 8 .4 0 8.6 7.5 .4 0 3 3.1 .6 0 3.4 3.5 .6 0 3.4 3.5 .6 0 9.4 9 .6 0 5.4 5.5 .6 0 6.4 6.5 .6 0 18 17.5 .4 0 10 10 .6 0 10 10.1 .4 0 8.6 8.5 .4 0 7.6 7.5 .4 0 6 6 .6 0 5 5 .4 0 8.6 8.1-.7 2.4 6.7 7.6 4 6.7 1.9 5.7 .7 5-.4 6-1.9 6.6-3.2 6-4.1 5.2-5.1 5.2-7.9 6.4-11.6 7.2-9.4 5-13.7 6-16.3 6-11.6 3.5-18 4.8-15.4 3.6-1 0-19.6 3.9-20 3.2-19 2.4-35 3-22.4 1.2-22 .5-23 0-24.6-.8-39.4-2.8-37.6-4.6-17-2.9-24.4-5.1-19-4.9-13-4-16-5.7-10-4.2-10.7-5.1-9.3-5.5-10.6-7.5-6.3-6-4.7-5.8-3.5-6.2-1.7-5-.7-3.6-.1-4 .6-5 1.4-4.7 4.3-7.7 5.6-6.6-.1-1-.8-1.4 9-8.6 .6 0 5.4-5.5 .6 0 6.4-6.5 .6 0 8.4-8.5 .6 0 10-10.1 .4 0 11.6-11.5 .4 0 11.6-11.5 .4 0 18-17.5 .6 0 6-6 .4 0 5.6-5.5 .4 0 4.6-4.5 .4 0 3.6-3.5 .4 0 4-4 .6 0 9.4-8.6 .6 0 2-2 .4 0 2.6-2.5 .4 0 7-6 .6 0 1.4-1.5 .6 0 9.4-7.5 2-1 1.6-1.5 .4 0 1-1 .6 0 1-1 .4 0 4-3 2-1 2.6-2 .4 0 1-1 1.6-.5 2.4-2 1.6-.5 3.4-2.5 3.6-1.5 1-1 6-3 10-5 1 0 2.4-1.5 1 0 4-2 1 0 3-1.5 1 0 .6-.5 4-1 .4-.5 1 0 .6-.5 1 0 .4-.5 1.6 0 2-1 3.4-.5 .6-.5 1.4 0 .6-.5 1.4 0 .6-.5 2 0 .4-.5 2 0 .6-.5 2.4 0 .6-.5 3.2-.3z"/>
<path fill="#1da8e0" d="M809.5 207.2l3.3 .3 .4 .5 2.6 0 .4 .5 2 0 .6 .5 2 0 .4 .5 1.6 0 .4 .5 1.6 0 .4 .5 3.6 .5 .4 .5 2.6 .5 .4 .5 1.6 0 2 1 1 0 .4 .5 1 0 .6 .5 1 0 .4 .5 1 0 1.6 1 2.4 .5 1.6 1 1 0 2.4 1.5 1 0 2.6 1.5 1 0 15 7.5 1 1 6 3 1 1 1.4 .5 2.6 2 1.4 .5 10 7 2 1 1 1 .6 0 1.4 1.5 2 1 9.6 7.5 .4 0 1.6 1.5 .4 0 9.6 8 .4 0 8.6 7.6 .4 0 3 3 .6 0 3.4 3.5 .6 0 3.4 3.5 .6 0 4 4 .4 0 11 10.5 .6 0 6.4 6.5 .6 0 8 8 .4 0 9.6 9.5 .4 0 10 10 .6 0 10 10.1 .4 0 16.6 16 .4 0 6 6 .6 0 5 5 .4 0 4.1 4.1-.2 1-.5 .4 0 1 5.7 6 3.9 5.9 2.4 5.1 1.1 3.6 .5 3.4 0 4.6-.7 4.4-2.2 6-2.6 4.6-5.9 7-5.3 5-8.7 6.5-9 5.5-12 6-12 5-15 5.4-20 5.9-7.6 1.6-.4 .5-18 4-18 3.4-17.6 2.8-22.4 2.8-20.6 1.9-18.4 1.3-26.6 1.1-19.4 .2-42-1-35-2.6-20-2.3-22-3.2-17.6-3-18.4-4-19-5-15.6-4.8-22-8.5-13-6.5-10.4-6.5-7-5.3-6.1-5.8-4.5-5.4-3.5-6.6-1.7-5-.7-6.4 .6-5 1.3-4.7 4.3-7.9 3.1-4 3.3-3.4-.7-2.6 10-9.5 .6 0 6.4-6.5 .6 0 8.4-8.5 .6 0 10-10 .4 0 11.6-11.6 .4 0 11.6-11.5 .4 0 18-17.5 .6 0 6-6 .4 0 5.6-5.5 .4 0 4.6-4.5 .4 0 3.6-3.5 .4 0 4-4 .6 0 9.4-8.6 .6 0 2-2 .4 0 2.6-2.5 .4 0 7-6 .6 0 1.4-1.5 .6 0 9.4-7.5 2-1 1.6-1.5 .4 0 1-1 .6 0 1-1 .4 0 4-3 .6 0 2.4-2 2-1 1-1 1.6-.5 2.4-2 1.6-.5 3.4-2.5 3.6-1.5 1-1 6-3 10-5 1 0 2.4-1.5 1 0 4-2 1 0 3-1.5 1 0 .6-.5 4-1 .4-.5 1 0 .6-.5 1 0 .4-.5 1.6 0 2-1 3.4-.5 .6-.5 1.4 0 .6-.5 1.4 0 .6-.5 2 0 .4-.5 2 0 .6-.5 2.4 0 .6-.5 3.2-.3z"/>
<path fill="#1aabdd" d="M809.5 207.2l3.3 .3 .4 .5 2.6 0 .4 .5 2 0 .6 .5 2 0 .4 .5 1.6 0 .4 .5 1.6 0 .4 .5 3.6 .5 .4 .5 2.6 .5 .4 .5 1.6 0 2 1 1 0 .4 .5 1 0 .6 .5 1 0 .4 .5 1 0 1.6 1 1 0 3 1.5 1 0 2.4 1.5 1 0 2.6 1.5 1 0 15 7.5 1 1 6 3 1 1 1.4 .5 2.6 2 1.4 .5 10 7 2 1 1 1 .6 0 1.4 1.5 2 1 9.6 7.5 .4 0 1.6 1.5 .4 0 9.6 8.1 .4 0 2.6 2.5 .4 0 2.6 2.5 .4 0 2.6 2.5 .4 0 3 3 .6 0 12 11 .4 0 5 5 .6 0 5.4 5.5 .6 0 15 14.5 .4 0 9.6 9.5 .4 0 10 10.1 .6 0 10 10 .4 0 8.6 8.5 .4 0 7.6 7.5 .4 0 6 6 .6 0 9.5 9.1-1 1.4 0 1 4.6 6 3 5.6 1.7 5.4 .5 6-.4 4.6-2.4 7-2.5 4.4-4.4 5.6-6 6-7.1 5.4-10.1 6.3-8.4 4.5-14.1 6.2-16.5 6-26.4 7.6-17.6 4-20 3.8-24 3.6-17 2-23.4 2.1-18 1.1-37.6 1-37.4-.7-19.6-1.1-20.4-1.7-21.6-2.4-22-3.2-18.4-3.4-13.6-2.9-11.4-2.7-1-.6-4-.8-16-4.8-.6-.4-12-4-12-4.9-12.2-6-7.8-4.5-9.4-6.8-7.7-7.3-4-5-2.8-5-1.9-5-.9-6.4 .4-5.6 2.1-6.4 3.8-6.6 4.8-6-1.5-1.4 .1-.6 2-2 .6 0 5.4-5.5 .6 0 6.4-6.5 .6 0 8.4-8.5 .6 0 10-10 .4 0 11.6-11.6 .4 0 11.6-11.5 .4 0 18-17.5 .6 0 6-6 .4 0 5.6-5.5 .4 0 4.6-4.5 .4 0 3.6-3.5 .4 0 4-4 .6 0 9.4-8.5 .6 0 2-2 .4 0 2.6-2.5 .4 0 7-6.1 .6 0 1.4-1.5 .6 0 9.4-7.5 2-1 1.6-1.5 .4 0 1-1 .6 0 1-1 .4 0 4-3 .6 0 2.4-2 2-1 1-1 1.6-.5 2.4-2 1.6-.5 3.4-2.5 3.6-1.5 1-1 6-3 10-5 1 0 2.4-1.5 1 0 4-2 1 0 3-1.5 1 0 .6-.5 4-1 .4-.5 1 0 .6-.5 1 0 .4-.5 1.6 0 2-1 3.4-.5 .6-.5 1.4 0 .6-.5 1.4 0 .6-.5 2 0 .4-.5 2 0 .6-.5 2.4 0 .6-.5 3.2-.3z"/>
<path fill="#17aeda" d="M809.5 207.2l3.3 .3 .4 .5 2.6 0 .4 .5 2 0 .6 .5 2 0 .4 .5 1.6 0 .4 .5 1.6 0 .4 .5 3.6 .5 .4 .5 2.6 .5 .4 .5 1.6 0 2 1 1 0 .4 .5 1 0 .6 .5 1 0 .4 .5 1 0 3 1.5 1 0 1.6 1 1 0 2.4 1.5 1 0 2.6 1.5 1 0 5 2.5 10 5 1 1 2.4 1 1 1 5 2.5 2.6 2 1.4 .5 10 7 2 1 1 1 .6 0 3 2.5 .4 0 9.6 7.5 .4 0 1.6 1.6 .4 0 9.6 8 .4 0 8.6 7.5 .4 0 3 3 .6 0 3.4 3.5 .6 0 3.4 3.5 .6 0 9.4 9 .6 0 5.4 5.5 .6 0 6.4 6.5 .6 0 18 17.5 .4 0 10 10.1 .6 0 10 10 .4 0 8.6 8.5 .4 0 7.6 7.5 .4 0 11.1 10.5-.9 1.6 0 1 4.3 5 3.1 4.9 1.3 3.1 1.5 5 .4 5.4-.4 4-.8 3.6-2.1 5-3.4 5.4-3.5 4-6.6 6.3-6.4 4.7-11 6.9-7.6 3.7-12.3 5.4-16.7 6.1-15 4.6-16.4 4.3-4 .6-.6 .4-6 1-.4 .4-2 .1-2.6 .8-20 3.7-17 2.5-2 0-5.4 1-13.6 1.5-20 1.8-21 1.3-32.4 .9-16-.1-29-.9-33-2.4-23-2.5-13-1.9-20.6-3.5-15.2-3.1-13.2-3.2-9-2.4-7.6-2.5-1 0-.4-.4-5.6-1.5-11-4-11-4.5-11.5-5.5-10.9-6.5-6.6-4.7-7-6.4-3.4-4-3.9-6-2.2-5.4-1.1-6.6 .3-5.4 1.3-4.6 3.1-6.4 4.9-6.6 0-1-1-1.4 12-11.6 .6 0 8.4-8.5 .6 0 10-10 .4 0 11.6-11.5 .4 0 11.6-11.6 .4 0 18-17.5 .6 0 6-6 .4 0 5.6-5.5 .4 0 4.6-4.5 .4 0 3.6-3.5 .4 0 4-4 .6 0 9.4-8.5 .6 0 2-2 .4 0 2.6-2.5 .4 0 7-6 .6 0 1.4-1.6 .6 0 9.4-7.5 2-1 1.6-1.5 .4 0 1-1 .6 0 1-1 .4 0 8.6-6 .4 0 1-1 1.6-.5 2.4-2 1.6-.5 3.4-2.5 3.6-1.5 1-1 6-3 10-5 1 0 2.4-1.5 1 0 4-2 1 0 3-1.5 1 0 .6-.5 4-1 .4-.5 1 0 .6-.5 1 0 .4-.5 1.6 0 2-1 3.4-.5 .6-.5 1.4 0 .6-.5 1.4 0 .6-.5 2 0 .4-.5 2 0 .6-.5 2.4 0 .6-.5 3.2-.3z"/>
<path fill="#13b1d7" d="M809.5 207.2l3.3 .3 .4 .5 2.6 0 .4 .5 2 0 .6 .5 2 0 .4 .5 1.6 0 .4 .5 1.6 0 .4 .5 3.6 .5 .4 .5 2.6 .5 .4 .5 1.6 0 2 1 1 0 .4 .5 1 0 .6 .5 1 0 .4 .5 1 0 3 1.5 1 0 1.6 1 1 0 2.4 1.5 1 0 2.6 1.5 1 0 5 2.5 10 5 1 1 2.4 1 1 1 5 2.5 2.6 2 1.4 .5 10 7 2 1 1 1 .6 0 3 2.5 .4 0 9.6 7.6 .4 0 1.6 1.5 .4 0 9.6 8 .4 0 8.6 7.5 .4 0 3 3 .6 0 3.4 3.5 .6 0 3.4 3.5 .6 0 9.4 9 .6 0 5.4 5.5 .6 0 6.4 6.5 .6 0 18 17.5 .4 0 10 10.1 .6 0 10 10 .4 0 8.6 8.5 .4 0 13.6 13-.7 2.6 5 5.4 2.7 4 2.4 5 1.1 3.6 .7 5-.4 5-1.2 5-2.7 5.4-1.5 2.6-5 6-5 4.5-8 6.1-8.4 5.2-9.6 4.9-9.5 4.3-14.6 5.4-16.9 5.3-18.4 4.8-8 1.5-5 1.4-19.6 3.6-19.4 2.9-2 0-14.6 2-21 2-23 1.4-37.4 .9-23-.4-20-.8-37-3.1-16.6-2-18.4-2.8-21-4-13.6-3.1-15.4-4-12-3.7-15-5.5-12.5-5.4-8.8-4.4-9.7-6.1-9-7.2-4-4.1-4-5.2-3.4-6.4-1.3-4.6-.5-5.4 .6-5 1.6-4.9 4-7.1 5.2-6 0-1-.8-1.6 74.6-71.1 .4 0 5.6-5.5 .4 0 4.6-4.5 .4 0 3.6-3.5 .4 0 4-4 .6 0 9.4-8.5 .6 0 2-2 .4 0 2.6-2.5 .4 0 7-6 .6 0 1.4-1.5 .6 0 9.4-7.6 2-1 1.6-1.5 .4 0 1-1 .6 0 1-1 .4 0 4-3 .6 0 2.4-2 2-1 1-1 1.6-.5 5-3.5 1.4-.5 1-1 3.6-1.5 1-1 16-8 1 0 2.4-1.5 1 0 4-2 2.6-.5 1.4-1 1 0 2-1 2.6-.5 .4-.5 2.6-.5 .4-.5 1.6 0 2-1 3.4-.5 .6-.5 1.4 0 .6-.5 1.4 0 .6-.5 2 0 .4-.5 2 0 .6-.5 2.4 0 .6-.5 3.2-.3z"/>
<path fill="#0cb3d3" d="M809.5 207.2l3.3 .3 .4 .5 2.6 0 .4 .5 2 0 .6 .5 2 0 .4 .5 1.6 0 .4 .5 1.6 0 .4 .5 3.6 .5 .4 .5 2.6 .5 .4 .5 1.6 0 2 1 1 0 .4 .5 1 0 .6 .5 1 0 .4 .5 1 0 1.6 1 1 0 3 1.5 1 0 2.4 1.5 1 0 2.6 1.5 1 0 15 7.5 1 1 6 3 1 1 1.4 .5 2.6 2 1.4 .5 10 7.1 2 1 1 1 .6 0 1.4 1.5 2 1 9.6 7.5 .4 0 1.6 1.5 .4 0 9.6 8 .4 0 2.6 2.5 .4 0 2.6 2.5 .4 0 2.6 2.5 .4 0 3 3 .6 0 12 11 .4 0 5 5 .6 0 5.4 5.5 .6 0 15 14.5 .4 0 9.6 9.6 .4 0 10 10 .6 0 10 10 .4 0 8.6 8.5 .4 0 13.1 12.6-1.6 2 5.1 6.7 2.5 5.3 1.3 5 .3 5.4-.7 4.6-1.9 5.4-2.5 4.6-5 6.2-5.7 5.2-8.3 6.2-5 3.2-12.6 6.5-8.1 3.7-13 5-15.3 4.9-21 5.5-14 3.1-18.6 3.4-34 4.7-36.4 3-18.6 .9-26 .4-41-1.1-35.4-2.8-35.6-4.7-30-5.9-16-4-18-5.4-.4-.5-1-.1-11-4-9-3.8-10.6-5.2-4.6-2.4-4.4-3-.4 0-8-6-5.1-4.6-4.7-5.4-3.4-5.6-2.1-5.4-.8-5 .2-5 2.2-7.6 3.1-5.4 4-5-1.5-1.6 0-.4 13.5-13.1 .6 0 10-10 .4 0 11.6-11.5 .4 0 11.6-11.6 .4 0 18-17.5 .6 0 6-6 .4 0 5.6-5.5 .4 0 4.6-4.5 .4 0 3.6-3.5 .4 0 4-4 .6 0 9.4-8.5 .6 0 2-2 .4 0 2.6-2.5 .4 0 7-6 .6 0 1.4-1.5 .6 0 9.4-7.5 2-1 1.6-1.5 .4 0 1-1 .6 0 1-1.1 .4 0 4-3 2-1 2.6-2 .4 0 1-1 1.6-.5 2.4-2 1.6-.5 3.4-2.5 3.6-1.5 1-1 6-3 10-5 1 0 2.4-1.5 1 0 4-2 1 0 3-1.5 1 0 .6-.5 4-1 .4-.5 1 0 .6-.5 1 0 .4-.5 1.6 0 2-1 3.4-.5 .6-.5 1.4 0 .6-.5 1.4 0 .6-.5 2 0 .4-.5 2 0 .6-.5 2.4 0 .6-.5 3.2-.3z"/>
<path fill="#06b5cf" d="M809.5 207.2l.3 .3 3 0 .4 .5 2.6 0 .4 .5 2 0 .6 .5 2 0 .4 .5 1.6 0 .4 .5 1.6 0 .4 .5 3.6 .5 .4 .5 2.6 .5 .4 .5 1.6 0 2 1 1 0 .4 .5 1 0 .6 .5 1 0 .4 .5 1 0 1.6 1 2.4 .5 1.6 1 1 0 2.4 1.5 1 0 2.6 1.5 1 0 15 7.5 1 1 6 3 1 1 1.4 .5 2.6 2 1.4 .5 10 7.1 2 1 1 1 .6 0 1.4 1.5 2 1 9.6 7.5 .4 0 1.6 1.5 .4 0 9.6 8 .4 0 2.6 2.5 .4 0 2.6 2.5 .4 0 2.6 2.5 .4 0 3 3 .6 0 12 11 .4 0 5 5 .6 0 5.4 5.5 .6 0 62.5 59.6-.7 1.6 0 1 4.2 4.8 4 7 1.6 5.2 .5 5-.6 5.4-1.8 5.6-3.7 6.2-4 4.7-5 4.9-7.6 5.6-8.4 5.2-10.6 5.4-7.8 3.4-16.2 6.1-16.4 5-13 3.4-4 .7-.6 .4-29 5.7-10.4 1.7-6 .6-1.6 .5-20.8 2.5-30.6 2.4-23.6 1-17 .3-40-.9-34.4-2.5-17-1.8-21-3.1-16.6-2.9-17-3.7-15-3.8-17-5.2-.4-.4-10-3.4-11.6-4.9-10.2-5.1-9.8-6-6.4-5.1-5-4.5-3-3.4-4.6-7.6-2-6-.5-4.4 .6-6 1.1-3.6 3.3-6.4 5.2-6.6 0-1-.7-1.4 61-58.7 .6 0 6-6 .4 0 5.6-5.5 .4 0 4.6-4.5 .4 0 3.6-3.5 .4 0 4-4 .6 0 9.4-8.5 .6 0 2-2 .4 0 2.6-2.5 .4 0 7-6 .6 0 1.4-1.5 .6 0 9.4-7.5 2-1 1.6-1.5 .4 0 1-1 .6 0 1-1 .4 0 4-3 .6 0 2.4-2 2-1 1-1.1 1.6-.5 2.4-2 1.6-.5 3.4-2.5 3.6-1.5 1-1 6-3 10-5 1 0 2.4-1.5 1 0 4-2 1 0 3-1.5 1 0 2-1 2.6-.5 .4-.5 2.6-.5 .4-.5 1.6 0 2-1 3.4-.5 .6-.5 1.4 0 .6-.5 1.4 0 .6-.5 2 0 .4-.5 2 0 .6-.5 2.4 0 .6-.5 3 0 .2-.3z"/>
<path fill="#02b7cb" d="M809.5 207.2l.3 .3 3 0 .4 .5 2.6 0 .4 .5 2 0 .6 .5 2 0 .4 .5 1.6 0 .4 .5 1.6 0 .4 .5 3.6 .5 .4 .5 2.6 .5 .4 .5 1.6 0 2 1 1 0 .4 .5 1 0 .6 .5 1 0 .4 .5 1 0 1.6 1 2.4 .5 1.6 1 1 0 2.4 1.5 1 0 2.6 1.5 1 0 15 7.5 1 1 6 3.1 1 1 1.4 .5 2.6 2 1.4 .5 10 7 2 1 1 1 .6 0 1.4 1.5 2 1 9.6 7.5 .4 0 1.6 1.5 .4 0 9.6 8 .4 0 2.6 2.5 .4 0 2.6 2.5 .4 0 2.6 2.5 .4 0 11 10 .6 0 4 4 .4 0 5 5 .6 0 12.4 12 .6 0 8 8.1 .4 0 9.6 9.5 .4 0 10 10 .6 0 10 10 .4 0 14.6 14.1-1.6 2 4.2 5.4 2.7 5.6 1.6 6 .2 4.4-.7 4.6-2 5.4-3 5-3.6 4.6-6.2 6-4.6 3.5-9 5.8-11.1 5.7-7.9 3.5-.6-.1-.5 .6-11.8 4.4-14.1 4.6-16 4.3-6 1.2-.6 .4-9 2-15.4 3-22.6 3.5-16 2-32.4 2.7-18.6 .9-20 .5-37.4-.6-35.6-2.4-35-4.2-19-3.3-15.1-3-16.3-4.1-14-4.1-14-4.8-11-4.6-14-7-9.6-6-5.4-4.4-5.2-5-3.6-4.6-2.4-4-2.3-6.4-.6-4.6 .5-6 1.6-4.8 2.4-4.8 4.3-5.8-1.5-1.6 .2-.4 16.6-16.1 .4 0 11.6-11.5 .4 0 11.6-11.5 .4 0 9.6-9.6 .4 0 8-8 .6 0 12-11.5 .4 0 4.6-4.5 .4 0 11.6-10.5 .4 0 6-5.5 .6 0 2-2 .4 0 2.6-2.5 .4 0 7-6 .6 0 1.4-1.5 .6 0 9.4-7.5 2-1 1.6-1.5 .4 0 1-1 .6 0 1-1 .4 0 8.6-6 .4 0 1-1 1.6-.5 5-3.5 1.4-.5 1-1 3.6-1.6 1-1 16-8 1 0 2.4-1.5 1 0 4-2 2.6-.5 1.4-1 1 0 2-1 2.6-.5 .4-.5 2.6-.5 .4-.5 1.6 0 2-1 3.4-.5 .6-.5 1.4 0 .6-.5 1.4 0 .6-.5 2 0 .4-.5 2 0 .6-.5 2.4 0 .6-.5 3 0 .2-.3z"/>
<path fill="#01b9c6" d="M809.5 207.2l.3 .3 3 0 .4 .5 2.6 0 .4 .5 2 0 .6 .5 2 0 .4 .5 1.6 0 .4 .5 1.6 0 .4 .5 3.6 .5 .4 .5 2.6 .5 .4 .5 1.6 0 2 1 1 0 .4 .5 1 0 .6 .5 1 0 .4 .5 1 0 1.6 1 1 0 3 1.5 1 0 2.4 1.5 1 0 2.6 1.5 1 0 15 7.6 1 1 6 3 1 1 1.4 .5 2.6 2 1.4 .5 10 7 2 1 1 1 .6 0 1.4 1.5 2 1 9.6 7.5 .4 0 1.6 1.5 .4 0 9.6 8 .4 0 2.6 2.5 .4 0 2.6 2.5 .4 0 2.6 2.5 .4 0 11 10 .6 0 4 4 .4 0 11 10.5 .6 0 6.4 6.6 .6 0 8 8 .4 0 9.6 9.5 .4 0 29.1 28.1-.7 1.4 0 1 5.1 6 3.6 7 1.1 3.6 .5 5-.6 5.4-1.2 4-3.2 6-4 5-7.1 6.8-7 5.1-6.6 4-9 4.6-10.2 4.5-7.2 2.6-2 1-13.6 4.5-13.4 3.7-1.6 .2-.4 .4-20 4.6-16.6 3.1-31 4.3-34.4 3.1-19.6 .9-20 .4-37.4-.6-31-2.1-31-3.5-25.6-4.2-5.4-1.4-8-1.4-25.6-6.6-17.4-5.9-13.6-5.5-16-8.5-7-4.9-6.1-5.2-4.9-5.4-3-4.6-2.1-4.4-1-3.6-.4-5 .4-4.4 1.3-4.6 1.8-3.8 3-4.5 4.7-5.1-.7-2.6 9.6-9.5 .4 0 11.6-11.5 .4 0 11.6-11.5 .4 0 18-17.6 .6 0 6-6 .4 0 5.6-5.5 .4 0 4.6-4.5 .4 0 3.6-3.5 .4 0 4-4 .6 0 9.4-8.5 .6 0 2-2 .4 0 2.6-2.5 .4 0 7-6 .6 0 1.4-1.5 .6 0 9.4-7.5 2-1 1.6-1.5 .4 0 1-1 .6 0 1-1 .4 0 4-3 .6 0 2.4-2 2-1 1-1 1.6-.5 2.4-2 1.6-.5 3.4-2.5 3.6-1.5 1-1 6-3.1 10-5 1 0 2.4-1.5 1 0 4-2 1 0 3-1.5 1 0 .6-.5 4-1 .4-.5 2.6-.5 .4-.5 1.6 0 2-1 3.4-.5 .6-.5 1.4 0 .6-.5 1.4 0 .6-.5 2 0 .4-.5 2 0 .6-.5 2.4 0 .6-.5 3 0 .2-.3z"/>
<path fill="#05bbc1" d="M809.5 207.2l.3 .3 3 0 .4 .5 2.6 0 .4 .5 2 0 .6 .5 2 0 .4 .5 1.6 0 .4 .5 1.6 0 .4 .5 3.6 .5 .4 .5 2.6 .5 .4 .5 1.6 0 2 1 1 0 .4 .5 1 0 .6 .5 1 0 .4 .5 1 0 1.6 1 1 0 3 1.6 1 0 2.4 1.5 1 0 2.6 1.5 1 0 15 7.5 1 1 6 3 1 1 1.4 .5 2.6 2 1.4 .5 10 7 2 1 1 1 .6 0 1.4 1.5 2 1 9.6 7.5 .4 0 1.6 1.5 .4 0 9.6 8 .4 0 2.6 2.5 .4 0 2.6 2.5 .4 0 2.6 2.5 .4 0 11 10 .6 0 4 4 .4 0 5 5 .6 0 12.4 12.1 .6 0 8 8 .4 0 9.6 9.5 .4 0 10 10 .6 0 18 17.5-1.7 2 4.1 5.6 2.5 5.4 1 4.6 .2 5.4-1.1 5-1.8 4.6-2.8 4.3-3.8 4.7-4.6 4.5-7.6 5.6-9 5.5-7 3.5-17.2 7.3-9.8 3.4-25.4 7.2-20.6 4.4-17 3-29 3.8-33.4 2.8-20.6 .8-21.4 .3-38-1.2-32-2.5-33.1-4.4-18.9-3.5-14-3.1-21-5.9-12-4-12.7-5.1-12.3-6-7.6-4.5-7.4-5.5-5-4.4-3.9-4.6-2.9-4.4-2.4-5.6-.8-4.4 0-5 1.4-6 3-6 3-4 0-1-1-1.6 33.6-32.5 .4 0 9.6-9.5 .4 0 14.6-14.1 .4 0 5.6-5.5 .4 0 4.6-4.5 .4 0 3.6-3.5 .4 0 4-4 .6 0 9.4-8.5 .6 0 2-2 .4 0 2.6-2.5 .4 0 7-6 .6 0 1.4-1.5 .6 0 9.4-7.5 2-1 1.6-1.5 .4 0 1-1 .6 0 1-1 .4 0 4-3 .6 0 2.4-2 2-1 1-1 1.6-.5 5-3.5 1.4-.5 1-1 3.6-1.5 1-1 16-8 1 0 2.4-1.5 1 0 4-2.1 2.6-.5 1.4-1 1 0 .6-.5 4-1 .4-.5 1 0 .6-.5 1 0 .4-.5 1.6 0 2-1 3.4-.5 .6-.5 1.4 0 .6-.5 1.4 0 .6-.5 2 0 .4-.5 2 0 .6-.5 2.4 0 .6-.5 3 0 .2-.3z"/>
<path fill="#0ebdbb" d="M809.5 207.2l.3 .3 3 0 .4 .5 2.6 0 .4 .5 2 0 .6 .5 2 0 .4 .5 1.6 0 .4 .5 1.6 0 .4 .5 3.6 .6 .4 .5 2.6 .5 .4 .5 1.6 0 2 1 1 0 .4 .5 1 0 .6 .5 1 0 .4 .5 1 0 1.6 1 1 0 3 1.5 1 0 2.4 1.5 1 0 2.6 1.5 1 0 15 7.5 1 1 6 3 1 1 1.4 .5 2.6 2 1.4 .5 10 7 2 1 1 1 .6 0 1.4 1.5 2 1 9.6 7.5 .4 0 1.6 1.5 .4 0 9.6 8 .4 0 2.6 2.5 .4 0 2.6 2.5 .4 0 2.6 2.5 .4 0 11 10 .6 0 4 4 .4 0 5 5 .6 0 12.4 12.1 .6 0 8 8 .4 0 9.6 9.5 .4 0 20.1 19.5-.5 2.6 .4 .2 1.6-1.5 1.5 1.3-1.7 2 4.2 5 3.4 6.2 1.5 5.2 .3 4.6-.5 4.4-2 5.6-2.6 4.4-4.5 5.6-6.2 5.4-6 4.5-9.4 5.6-11 5.3-17 6.7-19 5.9-1.6 .1-12 3.3-17 3.6-16.4 2.9-28.6 3.7-29 2.5-22 1-18.4 .4-30-.6-33.6-2.1-33.4-3.9-15.6-2.5-18-3.5-13.4-3.3-1-.6-7-1.6-1.6-.7-7.4-2-15-5.3-10.4-4.4-10.8-5.4-7.8-5-6-4.6-4.9-4.4-4.5-5.6-2-3.4-2.1-5.6-.7-5 .8-7 1.7-4.4 2.9-5 3.3-4 .1-.6-1.5-1.4 28.9-28.1 .4 0 9.6-9.5 .4 0 8-8 .6 0 12-11.6 .4 0 4.6-4.5 .4 0 11.6-10.5 .4 0 6-5.5 .6 0 2-2 .4 0 2.6-2.5 .4 0 7-6 .6 0 1.4-1.5 .6 0 9.4-7.5 2-1 1.6-1.5 .4 0 1-1 .6 0 1-1 .4 0 8.6-6 .4 0 1-1 1.6-.5 5-3.5 1.4-.5 1-1 3.6-1.5 1-1 16-8 1 0 2.4-1.5 1 0 4-2 2.6-.5 1.4-1 1 0 .6-.5 4-1 .4-.5 1 0 .6-.5 1 0 .4-.5 1.6 0 2-1 3.4-.6 .6-.5 1.4 0 .6-.5 1.4 0 .6-.5 2 0 .4-.5 2 0 .6-.5 2.4 0 .6-.5 3 0 .2-.3z"/>
<path fill="#19bfb6" d="M809.4 207.2l.4 .4 3 0 .4 .5 2.6 0 .4 .5 2 0 .6 .5 2 0 .4 .5 1.6 0 .4 .5 1.6 0 .4 .5 3.6 .5 .4 .5 2.6 .5 .4 .5 1.6 0 2 1 1 0 .4 .5 1 0 .6 .5 1 0 .4 .5 1 0 1.6 1 1 0 3 1.5 1 0 2.4 1.5 1 0 2.6 1.5 1 0 15 7.5 1 1 2.4 1 1 1 5 2.5 2.6 2 1.4 .5 10 7 2 1 1 1 .6 0 1.4 1.5 2 1 9.6 7.5 .4 0 1.6 1.5 .4 0 9.6 8 .4 0 8.6 7.5 .4 0 3 3 .6 0 3.4 3.5 .6 0 3.4 3.5 .6 0 9.4 9.1 .6 0 5.4 5.5 .6 0 6.4 6.5 .6 0 8 8 .4 0 30.1 29-1 1.6 0 1 3.5 4.4 2 3.7 1.8 5.3 .5 5-.7 5.6-1.6 4.4-2.2 4-3 4-4.8 5.1-8 6.2-8.6 5.3-10.4 5.2-12.7 5.2-10.3 3.7-26 7.3-18.6 4-2 0-13 2.6-30 4-34.4 2.7-34 .9-34-.7-31.6-2.2-20.4-2.3-17.6-2.6-15.4-2.8-13.6-3-1-.5-1.4 0-12.6-3.3-13.4-4.2-14-5.1-8.9-3.9-9.6-5-8.5-5.5-5.6-4.5-4.9-5-3.2-4-2.6-5-1.6-5-.3-5 .5-4.6 2.1-5.7 2.6-4.3 4.6-5.4-.7-2.6 33.1-32 .4 0 8-8 .6 0 6-6 .4 0 10.6-10.1 .4 0 3.6-3.5 .4 0 4-4 .6 0 6-5.5 .4 0 3-3 .6 0 2-2 .4 0 2.6-2.5 .4 0 7-6 .6 0 1.4-1.5 .6 0 9.4-7.5 2-1 1.6-1.5 .4 0 1-1 .6 0 1-1 .4 0 8.6-6 .4 0 1-1 1.6-.5 5-3.5 1.4-.5 1-1 3.6-1.5 1-1 16-8 1 0 2.4-1.5 1 0 4-2 2.6-.5 1.4-1 1 0 .6-.5 4-1 .4-.5 2.6-.5 .4-.5 1.6 0 2-1 3.4-.5 .6-.5 1.4 0 .6-.5 1.4 0 .6-.5 2 0 .4-.5 2 0 .6-.5 2.4 0 .6-.5 3 0 .3-.4z"/>
<path fill="#22c1b0" d="M809.4 207.2l.4 .4 3 0 .4 .5 2.6 0 .4 .5 2 0 .6 .5 2 0 .4 .5 1.6 0 .4 .5 1.6 0 .4 .5 3.6 .5 .4 .5 2.6 .5 .4 .5 1.6 0 2 1 1 0 .4 .5 1 0 .6 .5 1 0 .4 .5 1 0 1.6 1 2.4 .5 1.6 1 1 0 2.4 1.5 1 0 2.6 1.5 1 0 15 7.5 1 1 2.4 1 1 1 5 2.5 2.6 2 1.4 .5 10 7 2 1 1 1 .6 0 1.4 1.5 2 1 9.6 7.5 .4 0 1.6 1.5 .4 0 9.6 8 .4 0 2.6 2.5 .4 0 2.6 2.5 .4 0 2.6 2.5 .4 0 3 3 .6 0 12 11.1 .4 0 5 5 .6 0 5.4 5.5 .6 0 6.4 6.5 .6 0 35 33.6-1.6 2 3.8 5 2.2 4.2 1.6 5.2 .3 3.6-.3 4-1 4-2.3 5-2.3 3.4-4 4.6-5 4.5-6.4 4.7-10 5.9-8 3.9-12.2 5-11.7 4-5.7 1.4-1 .6-12.4 3.1-.6 .4-28 6-31.4 4.6-30 2.8-18 1-19.6 .5-16.4 0-25-.7-36.6-2.9-31.4-4.3-17-3.2-13.6-3-11.4-3-1.6-.8-2-.2-12-3.8-.4-.6-7.6-2.4-10.7-4.5-12.3-6.5-4-2.5-7-5.2-6-5.9-2.4-2.9-2.5-4-2.3-6.6-.5-4 .2-4 1.1-4.4 2.9-6 2.9-4-1.5-1.6 .1-.4 32.6-31.6 .4 0 8-8 .6 0 6-6 .4 0 10.6-10.1 .4 0 3.6-3.5 .4 0 4-4 .6 0 3-3 .4 0 2.6-2.5 .4 0 3-3 .6 0 2-2 .4 0 2.6-2.5 .4 0 7-6 .6 0 1.4-1.5 .6 0 9.4-7.5 2-1 1.6-1.5 .4 0 1-1 .6 0 1-1 .4 0 4-3 .6 0 2.4-2 2-1 1-1 1.6-.5 5-3.5 1.4-.5 1-1 3.6-1.5 1-1 16-8 1 0 2.4-1.5 1 0 4-2 2.6-.5 1.4-1 1 0 .6-.5 4-1 .4-.5 1 0 .6-.5 1 0 .4-.5 1.6 0 2-1 3.4-.5 .6-.5 1.4 0 .6-.5 1.4 0 .6-.5 2 0 .4-.5 2 0 .6-.5 2.4 0 .6-.5 3 0 .3-.4z"/>
<path fill="#29c3aa" d="M809.4 207.2l.4 .4 3 0 .4 .5 2.6 0 .4 .5 2 0 .6 .5 2 0 .4 .5 1.6 0 .4 .5 1.6 0 .4 .5 3.6 .5 .4 .5 2.6 .5 .4 .5 1.6 0 2 1 1 0 .4 .5 1 0 .6 .5 1 0 .4 .5 1 0 1.6 1 2.4 .5 1.6 1 1 0 2.4 1.5 1 0 2.6 1.5 1 0 15 7.5 1 1 2.4 1 1 1 5 2.5 2.6 2 1.4 .5 10 7 2 1 1 1 .6 0 1.4 1.5 2 1 9.6 7.5 .4 0 1.6 1.5 .4 0 9.6 8 .4 0 8.6 7.5 .4 0 3 3 .6 0 3.4 3.5 .6 0 3.4 3.6 .6 0 9.4 9 .6 0 5.4 5.5 .6 0 6.4 6.5 .6 0 28 27-.6 2.6 5 5.9 3.6 6.5 1.1 4.6 .3 3.4-.4 4-1.9 6-2.3 4-3.8 5-6.6 5.9-6.4 4.7-8.6 5-7 3.5-19 7.6-12 3.8-7 2-1.4 .1-.6 .5-5.4 1-.6 .5-16 3.6-13 2.4-16 2.5-17 2-14.4 1.5-20 1.3-35.6 1-33.4-.9-36.6-3-28-3.8-28-5.6-14-3.7-14-4.3-.4-.5-10.6-3.6-10-4.3-10-5.4-7-4.5-6-4.8-4.8-4.9-3.5-5-2.2-4.6-.9-3.4-.4-4 .4-4.6 1.4-4.6 2.6-4.8 3.5-4.6 .1-.4-1.5-1.6 36.3-35 .6 0 6-6 .4 0 5.6-5.5 .4 0 4.6-4.5 .4 0 3.6-3.6 .4 0 4-4 .6 0 3-3 .4 0 2.6-2.5 .4 0 3-3 .6 0 2-2 .4 0 5-4.5 .6 0 4.4-4 .6 0 1.4-1.5 .6 0 9.4-7.5 2-1 1.6-1.5 .4 0 1-1 .6 0 1-1 .4 0 4-3 .6 0 2.4-2 2-1 1-1 1.6-.5 1-1 3-1.5 1-1 1.4-.5 1-1 3.6-1.5 1-1 16-8 1 0 2.4-1.5 1 0 4-2 2.6-.5 1.4-1 1 0 .6-.5 4-1 .4-.5 1 0 .6-.5 1 0 .4-.5 1.6 0 2-1 3.4-.5 .6-.5 1.4 0 .6-.5 1.4 0 .6-.5 2 0 .4-.5 2 0 .6-.5 2.4 0 .6-.5 3 0 .3-.4z"/>
<path fill="#2fc5a3" d="M809.4 207.2l.4 .4 3 0 .4 .5 2.6 0 .4 .5 2 0 .6 .5 2 0 .4 .5 1.6 0 .4 .5 1.6 0 .4 .5 3.6 .5 .4 .5 2.6 .5 .4 .5 1.6 0 2 1 1 0 .4 .5 1 0 .6 .5 1 0 .4 .5 1 0 1.6 1 2.4 .5 1.6 1 1 0 2.4 1.5 1 0 2.6 1.5 1 0 15 7.5 1 1 2.4 1 1 1 5 2.5 2.6 2 1.4 .5 10 7 2 1 1 1 .6 0 1.4 1.5 2 1 9.6 7.5 .4 0 1.6 1.5 .4 0 9.6 8 .4 0 2.6 2.5 .4 0 2.6 2.5 .4 0 2.6 2.5 .4 0 3 3.1 .6 0 12 11 .4 0 5 5 .6 0 5.4 5.5 .6 0 6.4 6.5 .6 0 28 27-1.6 2 3.7 5 2 4.6 1 3.4 .3 5.6-.7 4.4-1.8 4.6-4.5 6.6-5.4 5.5-4.6 3.7-7.4 4.9-10 5.3-10.1 4.4-10.9 4.1-17.6 5.3-9.4 2.2-.6 .4-24.4 5.1-1.6 0-14 2.5-18.4 2.4-32 2.6-35 1-32-.6-20-1.3-18-1.6-16-2-18.6-3-24-5-10.4-2.8-5-1.7-1 0-7.6-2.4-9-3.3-11-4.6-8.4-4.3-9-5.6-6-4.6-4.5-4.2-3.8-5-2.4-4.6-1.3-4-.5-5 .5-4.4 2-5.4 2.4-4.2 4.5-5.4-1.5-1.6 0-.4 2 1.5 .1-1.1-.5-.4-.1-1 21.1-20.6 .4 0 8-8 .6 0 6-6 .4 0 10.6-10 .4 0 3.6-3.5 .4 0 4-4 .6 0 3-3.1 .4 0 2.6-2.5 .4 0 3-3 .6 0 2-2 .4 0 2.6-2.5 .4 0 7-6 .6 0 1.4-1.5 .6 0 9.4-7.5 2-1 1.6-1.5 .4 0 1-1 .6 0 1-1 .4 0 8.6-6 .4 0 1-1 1.6-.5 5-3.5 1.4-.5 1-1 3.6-1.5 1-1 16-8 1 0 2.4-1.5 1 0 4-2 2.6-.5 1.4-1 1 0 .6-.5 4-1 .4-.5 1 0 .6-.5 1 0 .4-.5 1.6 0 2-1 3.4-.5 .6-.5 1.4 0 .6-.5 1.4 0 .6-.5 2 0 .4-.5 2 0 .6-.5 2.4 0 .6-.5 3 0 .3-.4z"/>
<path fill="#33c69d" d="M809.4 207.2l.4 .4 3 0 .4 .5 2.6 0 .4 .5 2 0 .6 .5 2 0 .4 .5 1.6 0 .4 .5 1.6 0 .4 .5 3.6 .5 .4 .5 2.6 .5 .4 .5 1.6 0 2 1 1 0 .4 .5 1 0 .6 .5 1 0 .4 .5 1 0 1.6 1 1 0 3 1.5 1 0 2.4 1.5 1 0 2.6 1.5 1 0 15 7.5 1 1 2.4 1 1 1 5 2.5 2.6 2 1.4 .5 10 7 2 1 1 1 .6 0 1.4 1.5 2 1 9.6 7.5 .4 0 1.6 1.5 .4 0 9.6 8 .4 0 8.6 7.6 .4 0 3 3 .6 0 3.4 3.5 .6 0 3.4 3.5 .6 0 9.4 9 .6 0 5.4 5.5 .6 0 6.4 6.5 .6 0 23.5 22.6-1.6 2 3.1 3.8 2.8 5.2 1.5 5 .2 5.4-.9 4.6-1.2 3-2.9 5-3.3 4-6.2 5.7-8 5.6-14.6 7.5-11 4.6-8.4 3.1-11 3.4-16.6 4.2-16 3.4-16.4 2.8-28.6 3.6-34 2.4-30.4 .6-33-1-31.6-2.7-27-3.7-27-5.3-23-6.4-10-3.4-11.9-5-9.8-5-7.7-4.7-7-5.4-4.7-4.9-3.2-4.4-1.6-3-1.4-4-.6-4 .4-5.6 1.1-3.4 2.4-5 2.5-3.6 0-1-1-1.4 11.1-11.1 .4 0 18-17.5 .6 0 6-6 .4 0 5.6-5.5 .4 0 4.6-4.5 .4 0 3.6-3.5 .4 0 4-4 .6 0 3-3 .4 0 2.6-2.6 .4 0 3-3 .6 0 2-2 .4 0 5-4.5 .6 0 4.4-4 .6 0 1.4-1.5 .6 0 9.4-7.5 2-1 1.6-1.5 .4 0 1-1 .6 0 1-1 .4 0 4-3 .6 0 2.4-2 2-1 1-1 1.6-.5 1-1 3-1.5 1-1 1.4-.5 1-1 3.6-1.5 1-1 16-8 1 0 2.4-1.5 1 0 4-2 2.6-.5 1.4-1 1 0 2-1 2.6-.5 .4-.5 2.6-.5 .4-.5 1.6 0 2-1 3.4-.5 .6-.5 1.4 0 .6-.5 1.4 0 .6-.5 2 0 .4-.5 2 0 .6-.5 2.4 0 .6-.5 3 0 .3-.4z"/>
<path fill="#38c896" d="M809.4 207.2l.4 .4 3 0 .4 .5 2.6 0 .4 .5 2 0 .6 .5 2 0 .4 .5 1.6 0 .4 .5 1.6 0 .4 .5 3.6 .5 .4 .5 2.6 .5 .4 .5 1.6 0 2 1 1 0 .4 .5 1 0 .6 .5 1 0 .4 .5 1 0 1.6 1 1 0 3 1.5 1 0 2.4 1.5 1 0 2.6 1.5 1 0 15 7.5 1 1 2.4 1 1 1 5 2.5 2.6 2 1.4 .5 10 7 2 1 1 1 .6 0 1.4 1.5 2 1 9.6 7.5 .4 0 1.6 1.5 .4 0 9.6 8 .4 0 2.6 2.6 .4 0 2.6 2.5 .4 0 2.6 2.5 .4 0 3 3 .6 0 12 11 .4 0 5 5 .6 0 5.4 5.5 .6 0 15 14.5 .4 0 9.1 9-.7 2.6 3.2 3.5 3.3 5.5 1.6 4 .7 4-.1 4-1.1 4.4-2.9 6-2.6 3.6-2.9 3.2-5.6 4.8-9 5.9-7.4 4.1-16.2 7-15.8 4.9-1 .6-11 3-24.6 5.4-18.4 3-17 2.1-28.6 2.5-31 1.1-30-.3-31-1.9-32-3.8-16-2.7-12-2.5-16.4-4-4.6-1.5-1 0-12-3.9-12-4.6-10.5-5-9.5-5.5-4.4-3.3-5.9-5.2-3.7-4.4-2.8-4.6-1.5-4-.7-4 .1-4 1.5-5.6 1.8-3.8 3.9-5.6-1.5-1.4 .2-.6 16.6-16 .4 0 8-8 .6 0 6-6 .4 0 10.6-10 .4 0 3.6-3.5 .4 0 4-4 .6 0 3-3 .4 0 2.6-2.5 .4 0 3-3 .6 0 2-2.1 .4 0 2.6-2.5 .4 0 7-6 .6 0 1.4-1.5 .6 0 9.4-7.5 2-1 1.6-1.5 .4 0 1-1 .6 0 1-1 .4 0 4-3 2-1 2.6-2 .4 0 1-1 1.6-.5 5-3.5 1.4-.5 1-1 3.6-1.5 1-1 16-8 1 0 2.4-1.5 1 0 4-2 2.6-.5 1.4-1 1 0 .6-.5 4-1 .4-.5 2.6-.5 .4-.5 1.6 0 2-1 3.4-.5 .6-.5 1.4 0 .6-.5 1.4 0 .6-.5 2 0 .4-.5 2 0 .6-.5 2.4 0 .6-.5 3 0 .3-.4z"/>
<path fill="#3eca8f" d="M809.4 207.2l.4 .4 3 0 .4 .5 2.6 0 .4 .5 2 0 .6 .5 2 0 .4 .5 1.6 0 .4 .5 1.6 0 .4 .5 3.6 .5 .4 .5 2.6 .5 .4 .5 1.6 0 2 1 1 0 .4 .5 1 0 .6 .5 1 0 .4 .5 1 0 1.6 1 1 0 3 1.5 1 0 2.4 1.5 1 0 2.6 1.5 1 0 15 7.5 1 1 2.4 1 1 1 5 2.5 2.6 2 1.4 .5 10 7 2 1 1 1 .6 0 1.4 1.5 2 1 9.6 7.5 .4 0 1.6 1.5 .4 0 9.6 8.1 .4 0 2.6 2.5 .4 0 2.6 2.5 .4 0 2.6 2.5 .4 0 11 10 .6 0 4 4 .4 0 11 10.5 .6 0 23.5 22.5-1.6 2 2.4 3 2.7 5 1.3 4.6 .4 4.4-1 5.6-1.2 3-4.2 6.4-4.3 4.6-5.5 4.4-6.1 4.2-8 4.3-17.3 7.5-15.1 5-12.6 3.1-.4 .5-22.6 4.9-19.4 3.1-15 1.9-30.6 2.6-31.4 1-28.6-.5-32-2.2-28.4-3.5-3.6-.8-.4 .2-2.6-.7-5-.6-20-4.1-16.4-4.4-12.6-4-.4-.5-2-.4-12-4.9-7.4-3.7-7.6-4.4-6.6-4.7-6.4-6.3-2.7-3.6-2.6-5-1-3.4-.4-4.6 .5-4 1.6-4.8 2.4-4.2 4-5-1.5-1.4 .1-.6 1.6-1.5 .4 0 9.6-9.5 .4 0 14.6-14 .4 0 5.6-5.5 .4 0 4.6-4.5 .4 0 11.6-10.5 .4 0 6-5.5 .6 0 2-2 .4 0 2.6-2.5 .4 0 7-6.1 .6 0 1.4-1.5 .6 0 9.4-7.5 2-1 1.6-1.5 .4 0 1-1 .6 0 1-1 .4 0 4-3 .6 0 2.4-2 2-1 1-1 1.6-.5 1-1 3-1.5 1-1 1.4-.5 1-1 3.6-1.5 1-1 16-8 1 0 2.4-1.5 1 0 4-2 2.6-.5 1.4-1 1 0 2-1 2.6-.5 .4-.5 2.6-.5 .4-.5 1.6 0 2-1 3.4-.5 .6-.5 1.4 0 .6-.5 1.4 0 .6-.5 2 0 .4-.5 2 0 .6-.5 2.4 0 .6-.5 3 0 .3-.4z"/>
<path fill="#47cb87" d="M809.4 207.2l.4 .4 3 0 .4 .5 2.6 0 .4 .5 2 0 .6 .5 2 0 .4 .5 1.6 0 .4 .5 1.6 0 .4 .5 3.6 .5 .4 .5 2.6 .5 .4 .5 1.6 0 2 1 1 0 .4 .5 1 0 .6 .5 1 0 .4 .5 1 0 1.6 1 1 0 3 1.5 1 0 2.4 1.5 1 0 2.6 1.5 1 0 15 7.5 1 1 2.4 1 1 1 5 2.5 2.6 2 1.4 .5 10 7 2 1 1 1 .6 0 1.4 1.5 2 1 9.6 7.5 .4 0 1.6 1.6 .4 0 9.6 8 .4 0 2.6 2.5 .4 0 2.6 2.5 .4 0 2.6 2.5 .4 0 11 10 .6 0 4 4 .4 0 5 5 .6 0 25 23.6-1.7 2 3.1 3.9 2.8 5.1 1.3 5 .2 4-.8 4.4-1.8 4.6-4.7 6.4-4.6 4.6-5.8 4.4-7.6 4.6-6.4 3.4-9.2 4-12.4 4.6-20.4 6-25.6 5.4-28 4.1-31 2.7-14.4 .7-22 .4-31.6-.9-31-2.5-13-1.5-18.4-2.9-22.6-4.8-20-5.6-14.4-5.2-7.6-3.3-10.4-5.6-5.6-3.6-5.4-4.4-3.9-4-2.1-2.6-2.8-5-1.4-4-.5-4 .4-4.4 1.3-4.3 2.3-4.3 2.6-3.4 0-1-1-1.6 17.5-17 .6 0 12-11.5 .4 0 4.6-4.5 .4 0 11.6-10.5 .4 0 6-5.5 .6 0 2-2 .4 0 2.6-2.5 .4 0 7-6 .6 0 1.4-1.6 .6 0 9.4-7.5 2-1 1.6-1.5 .4 0 1-1 .6 0 1-1 .4 0 4-3 .6 0 2.4-2 2-1 1-1 1.6-.5 1-1 3-1.5 1-1 1.4-.5 1-1 3.6-1.5 1-1 16-8 1 0 2.4-1.5 1 0 4-2 2.6-.5 1.4-1 1 0 .6-.5 4-1 .4-.5 1 0 .6-.5 1 0 .4-.5 1.6 0 2-1 3.4-.5 .6-.5 1.4 0 .6-.5 1.4 0 .6-.5 2 0 .4-.5 2 0 .6-.5 2.4 0 .6-.5 3 0 .3-.4z"/>
<path fill="#52cc7e" d="M809.4 207.2l.4 .4 3 0 .4 .5 2.6 0 .4 .5 2 0 .6 .5 2 0 .4 .5 1.6 0 .4 .5 1.6 0 .4 .5 3.6 .5 .4 .5 2.6 .5 .4 .5 1.6 0 2 1 1 0 .4 .5 1 0 .6 .5 1 0 .4 .5 1 0 1.6 1 1 0 3 1.5 1 0 2.4 1.5 1 0 2.6 1.5 1 0 15 7.5 1 1 2.4 1 1 1 5 2.5 2.6 2 1.4 .5 10 7 2 1 1 1 .6 0 1.4 1.5 2 1 9.6 7.6 .4 0 1.6 1.5 .4 0 9.6 8 .4 0 8.6 7.5 .4 0 3 3 .6 0 3.4 3.5 .6 0 3.4 3.5 .6 0 4 4 .4 0 11 10.5 .6 0 6.4 6.5 .6 0 7.5 7.6-.9 1.4 0 1 2.8 3.5 2 3.4 1.6 4.1 .8 5-.4 4-1.1 4-3.8 6.6-4.5 4.8-6 5-12.6 7.6-12.2 5.6-8.8 3.2-20.4 6.2-14 3.3-15.6 3-23.4 3.4-17 1.8-16 1.1-30.6 1-31.4-.6-28-2-14.6-1.6-1-.4-14.4-1.8-22.1-4.2-16.9-4.3-13.6-4.1-.4-.5-7-2.2-9-3.9-8-4-8-4.8-6.6-5.2-3.7-4-2.9-4-2.1-4-1.4-6.4 .4-5.6 1.3-3.5 1.3-2.9 3.7-5 0-.6-1.5-1.4 26.5-25.1 .4 0 4.6-4.5 .4 0 3.6-3.5 .4 0 4-4 .6 0 3-3 .4 0 2.6-2.5 .4 0 3-3 .6 0 2-2 .4 0 2.6-2.5 .4 0 7-6 .6 0 1.4-1.5 .6 0 9.4-7.6 2-1 1.6-1.5 .4 0 1-1 .6 0 1-1 .4 0 4-3 .6 0 2.4-2 2-1 1-1 1.6-.5 1-1 3-1.5 1-1 1.4-.5 1-1 3.6-1.5 1-1 16-8 1 0 2.4-1.5 1 0 4-2 2.6-.5 1.4-1 1 0 .6-.5 4-1 .4-.5 1 0 .6-.5 1 0 .4-.5 1.6 0 2-1 3.4-.5 .6-.5 1.4 0 .6-.5 1.4 0 .6-.5 2 0 .4-.5 2 0 .6-.5 2.4 0 .6-.5 3 0 .3-.4z"/>
<path fill="#5ccc75" d="M809.4 207.2l.4 .4 3 0 .4 .5 2.6 0 .4 .5 2 0 .6 .5 2 0 .4 .5 1.6 0 .4 .5 1.6 0 .4 .5 3.6 .5 .4 .5 2.6 .5 .4 .5 1.6 0 2 1 1 0 .4 .5 1 0 .6 .5 1 0 .4 .5 1 0 1.6 1 1 0 3 1.5 1 0 2.4 1.5 1 0 2.6 1.5 1 0 15 7.5 1 1 2.4 1 1 1 5 2.5 2.6 2 1.4 .5 10 7 2 1 1 1 .6 0 1.4 1.5 2 1.1 9.6 7.5 .4 0 1.6 1.5 .4 0 9.6 8 .4 0 2.6 2.5 .4 0 2.6 2.5 .4 0 2.6 2.5 .4 0 11 10 .6 0 4 4 .4 0 22.6 21 0 .5-1.6 1.5 3 3.6 2.6 4.4 1.5 5 .3 4.6-.5 3-1.3 4-2.5 4.4-3.3 4-4.8 4.5-8.4 6-6.6 3.7-7.4 3.5-15.6 6-12 3.7-13.4 3.2-.6 .4-23.4 4.6-26.6 3.6-25.4 2.2-32 1-35-.8-26-2.2-13.6-1.6-16-2.4-10.4-1.9-16.6-3.8-19-5.6-12.2-4.5-8.8-4-11-6.4-7-5.4-4-4.2-3.4-5-1.5-3-1-3.6-.3-4 .8-5 1.6-4 2.8-4.4 3.1-3.6-.6-2.4 7.5-7.6 .6 0 12-11.5 .4 0 4.6-4.5 .4 0 3.6-3.5 .4 0 4-4 .6 0 3-3 .4 0 2.6-2.5 .4 0 3-3 .6 0 2-2 .4 0 2.6-2.5 .4 0 7-6 .6 0 1.4-1.5 .6 0 9.4-7.6 2-1 1.6-1.5 .4 0 1-1 .6 0 1-1 .4 0 4-3 .6 0 2.4-2 2-1 1-1 1.6-.5 1-1 3-1.5 1-1 1.4-.5 1-1 3.6-1.5 1-1 16-8 1 0 2.4-1.5 1 0 4-2 2.6-.5 1.4-1 1 0 2-1 2.6-.5 .4-.5 2.6-.5 .4-.5 1.6 0 2-1 3.4-.5 .6-.5 1.4 0 .6-.5 1.4 0 .6-.5 2 0 .4-.5 2 0 .6-.5 2.4 0 .6-.5 3 0 .3-.4z"/>
<path fill="#68cd6c" d="M809.4 207.2l.4 .4 3 0 .4 .5 2.6 0 .4 .5 2 0 .6 .5 2 0 .4 .5 1.6 0 .4 .5 1.6 0 .4 .5 3.6 .5 .4 .5 2.6 .5 .4 .5 1.6 0 2 1 1 0 .4 .5 1 0 .6 .5 1 0 .4 .5 1 0 1.6 1 1 0 3 1.5 1 0 2.4 1.5 1 0 2.6 1.5 1 0 15 7.5 1 1 2.4 1 1 1 5 2.5 2.6 2 1.4 .5 10 7.1 2 1 1 1 .6 0 1.4 1.5 2 1 9.6 7.5 .4 0 1.6 1.5 .4 0 9.6 8 .4 0 2.6 2.5 .4 0 2.6 2.5 .4 0 2.6 2.5 .4 0 11 10 .6 0 4 4 .4 0 5 5 .6 0 12 11.6-.8 1.4 0 1 3 3.6 2.4 4 1.8 5 .4 3.4-.4 4-1.2 4-2.1 4-3 4-4.1 4.1-6 4.6-13 7.4-15.5 6.5-14.1 4.4-11.4 3.1-27 5.5-30 4-27.6 2-30 .6-32-1.1-28-2.5-27-4-23.4-5.1-21-6.4-16-6.5-9-5-4.6-3-6.4-5.4-4.2-4.6-3.5-6.6-.9-3.4-.2-3 .4-3.6 1.3-4.4 2.6-4.6 2-2.4 .1-.6-1.5-1.4 6.3-6.6 .6 0 6-6 .4 0 10.6-10 .4 0 8-7.5 .6 0 3-3 .4 0 11.6-10 .4 0 7-6 .6 0 1.4-1.5 .6 0 9.4-7.5 2-1 1.6-1.5 .4 0 1-1 .6 0 1-1.1 .4 0 8.6-6 .4 0 1-1 1.6-.5 1-1 3-1.5 1-1 1.4-.5 1-1 3.6-1.5 1-1 16-8 1 0 2.4-1.5 1 0 4-2 2.6-.5 1.4-1 1 0 .6-.5 4-1 .4-.5 1 0 .6-.5 1 0 .4-.5 1.6 0 2-1 3.4-.5 .6-.5 1.4 0 .6-.5 1.4 0 .6-.5 2 0 .4-.5 2 0 .6-.5 2.4 0 .6-.5 3 0 .3-.4z"/>
<path fill="#74cc62" d="M809.4 207.2l.4 .4 3 0 .4 .5 2.6 0 .4 .5 2 0 .6 .5 2 0 .4 .5 1.6 0 .4 .5 1.6 0 .4 .5 3.6 .5 .4 .5 2.6 .5 .4 .5 1.6 0 2 1 1 0 .4 .5 1 0 .6 .5 1 0 .4 .5 1 0 1.6 1 1 0 3 1.5 1 0 2.4 1.5 1 0 2.6 1.5 1 0 15 7.5 1 1 2.4 1 1 1 5 2.5 2.6 2 1.4 .5 10 7.1 2 1 1 1 .6 0 1.4 1.5 2 1 9.6 7.5 .4 0 1.6 1.5 .4 0 9.6 8 .4 0 8.6 7.5 .4 0 3 3 .6 0 3.4 3.5 .6 0 3.4 3.5 .6 0 20 18.6-1.7 2 2.8 3.4 2.5 5 1.1 4.6 0 3-1.3 6-2 4-2.6 3.4-4.4 4.6-4 3.1-5.4 3.7-9.6 5.2-9.2 4-9.8 3.5-10 2.9-1 .6-10.4 2.4-.6 .4-22 4.5-25 3.6-28 2.5-32 1-26.4-.6-26.6-1.8-28.4-3.7-15.6-2.9-13.4-3.1-7-1.8-2.6-1-1 0-10.4-3.5-17.2-7-4.8-2.6-10.6-6.9-4-3.6-3.4-3.9-2-3-1.8-4-.8-3.6-.1-4 .8-4 1.4-3.4 2.5-3.9 4.1-4.7-.7-2.4 16.6-15.6 .4 0 8-7.5 .6 0 3-3 .4 0 11.6-10 .4 0 7-6 .6 0 1.4-1.5 .6 0 9.4-7.5 2-1 1.6-1.5 .4 0 1-1 .6 0 1-1 .4 0 4-3 .6 0 2.4-2.1 2-1 1-1 1.6-.5 1-1 3-1.5 1-1 1.4-.5 1-1 3.6-1.5 1-1 16-8 1 0 2.4-1.5 1 0 4-2 2.6-.5 1.4-1 1 0 .6-.5 4-1 .4-.5 1 0 .6-.5 1 0 .4-.5 1.6 0 2-1 3.4-.5 .6-.5 1.4 0 .6-.5 1.4 0 .6-.5 2 0 .4-.5 2 0 .6-.5 2.4 0 .6-.5 3 0 .3-.4z"/>
<path fill="#80cc59" d="M809.4 207.2l.4 .4 3 0 .4 .5 2.6 0 .4 .5 2 0 .6 .5 2 0 .4 .5 1.6 0 .4 .5 1.6 0 .4 .5 3.6 .5 .4 .5 2.6 .5 .4 .5 1.6 0 2 1 1 0 .4 .5 1 0 .6 .5 1 0 .4 .5 1 0 1.6 1 1 0 3 1.5 1 0 2.4 1.5 1 0 2.6 1.5 1 0 15 7.5 1 1 2.4 1 1 1 5 2.6 2.6 2 1.4 .5 10 7 2 1 1 1 .6 0 1.4 1.5 2 1 9.6 7.5 .4 0 1.6 1.5 .4 0 9.6 8 .4 0 2.6 2.5 .4 0 2.6 2.5 .4 0 2.6 2.5 .4 0 3 3 .6 0 12 11 .4 0 5 5 .6 0 5 5-.9 1.6 0 1 2.8 3.4 2 3.6 1.2 3.4 .6 4-.2 3-1 4-1.6 3.6-1.7 2.4-3 3.6-4.2 4-5.6 3.9-8.4 5-11.3 5.1-8.3 3.1-14 4.3-24 5.6-25 4-29 2.9-28.4 1.2-25-.2-32-1.9-19.6-2.3-12-1.8-23-4.5-13.4-3.6-10.6-3.4-14.4-5.8-9-4.7-6.6-4.1-5.1-4.4-3.4-3.4-3.8-6-1-2.6-.8-4.4 .2-3.6 1-4 1.9-4 2.9-4-1.5-1.4 .1-.6 16.1-15 .4 0 8-7.5 .6 0 3-3 .4 0 11.6-10 .4 0 7-6 .6 0 1.4-1.5 .6 0 9.4-7.5 2-1 1.6-1.5 .4 0 1-1 .6 0 1-1 .4 0 8.6-6 .4 0 1-1 1.6-.5 1-1 3-1.6 1-1 1.4-.5 1-1 3.6-1.5 1-1 16-8 1 0 2.4-1.5 1 0 4-2 2.6-.5 1.4-1 1 0 .6-.5 4-1 .4-.5 1 0 .6-.5 1 0 .4-.5 1.6 0 2-1 3.4-.5 .6-.5 1.4 0 .6-.5 1.4 0 .6-.5 2 0 .4-.5 2 0 .6-.5 2.4 0 .6-.5 3 0 .3-.4z"/>
<path fill="#8ccb50" d="M809.4 207.2l.4 .4 3 0 .4 .5 5 .5 .6 .5 2 0 .4 .5 1.6 0 .4 .5 1.6 0 .4 .5 3.6 .5 .4 .5 2.6 .5 .4 .5 1.6 0 2 1 1 0 .4 .5 1 0 .6 .5 1 0 .4 .5 1 0 1.6 1 1 0 3 1.5 1 0 2.4 1.5 1 0 2.6 1.5 1 0 15 7.6 1 .9 2.4 1.1 1 1 5 2.5 2.6 2 1.4 .5 10 7 2 1 1 1 .6 0 1.4 1.5 2 1 9.6 7.5 .4 0 1.6 1.5 .4 0 9.6 8 .4 0 2.6 2.5 .4 0 2.6 2.5 .4 0 2.6 2.5 .4 0 11 10 .6 0 4 4 .4 0 4.6 4.6-.1 1-.5 .4 0 1.2 .6 .3 1.4-1.5 .6 0-1.6 2 3 3.6 2.6 4.4 1.1 3.6 .5 4-1 6-1.5 3.4-1.7 2.6-3.9 4.4-4.6 4-5.5 3.9-7 3.9-9.1 4.2-7.7 3-21.2 6.5-18.4 4.1-17.6 3-12 1.5-28.4 2.5-29 .9-26-.6-31-2.3-26-3.8-18.6-3.7-14.4-3.9-11.6-3.7-13-5.5-6.9-3.4-5.5-3.5-6-4.7-4.2-4.4-3.9-6-1.1-3.4-.4-4.6 .6-4 1.8-4.4 2.6-4 2.3-2.6-.1-1-.7-1.4 10.1-9.6 .4 0 8-7.5 .6 0 3-3 .4 0 11.6-10 .4 0 7-6 .6 0 1.4-1.5 .6 0 9.4-7.5 2-1 1.6-1.5 .4 0 1-1 .6 0 1-1 .4 0 4-3 .6 0 2.4-2 2-1 1-1 1.6-.5 1-1 3-1.5 1-1 1.4-.5 1-1 3.6-1.6 1-1 16-8 1 0 2.4-1.5 1 0 4-2 2.6-.5 1.4-1 1 0 .6-.5 4-1 .4-.5 1 0 .6-.5 1 0 .4-.5 1.6 0 2-1 3.4-.5 .6-.5 1.4 0 .6-.5 1.4 0 .6-.5 2 0 .4-.5 5-.5 .6-.5 3 0 .3-.4z"/>
<path fill="#98c947" d="M809.4 207.2l.4 .4 3 0 .4 .5 5 .5 .6 .5 2 0 .4 .5 1.6 0 .4 .5 1.6 0 .4 .5 3.6 .5 .4 .5 2.6 .5 .4 .5 1.6 0 2 1 1 0 .4 .5 1 0 .6 .5 1 0 .4 .5 1 0 1.6 1 2.4 .5 1.6 1 1 0 2.4 1.5 1 0 2.6 1.5 1 0 15 7.6 1 1 2.4 1 1 1 5 2.5 2.6 2 1.4 .5 10 7 2 1 1 1 .6 0 1.4 1.5 2 1 9.6 7.5 .4 0 1.6 1.5 .4 0 9.6 8 .4 0 2.6 2.5 .4 0 2.6 2.5 .4 0 2.6 2.5 .4 0 19.1 17-1.6 2 2.9 3.6 2.2 4 1.1 3.4 .4 3.6-.2 3-1.2 4-2.7 4.7-4 4.6-4.4 3.9-7.6 5-5.4 2.9-6.6 3-14 5.3-19.4 5.5-21.6 4.4-23.4 3.3-28 2.3-26.6 .7-24.4-.5-28.6-2.1-19.4-2.6-24-4.5-16-4.1-9-2.9-15-5.9-5.7-3-7.3-4.5-6-4.9-3.5-3.6-3-4.6-1-2.4-.7-2.6-.3-4 .5-3.4 1.9-5 4.6-6 .1-.6-1.5-1.4 6.9-6.6 .4 0 3.6-3.5 .4 0 4-4 .6 0 9.4-8.5 .6 0 2-2 .4 0 2.6-2.5 .4 0 7-6 .6 0 1.4-1.5 .6 0 9.4-7.5 2-1 1.6-1.5 .4 0 1-1 .6 0 1-1 .4 0 8.6-6 .4 0 1-1 1.6-.5 2.4-2 1.6-.5 3.4-2.5 3.6-1.5 1-1 16-8.1 1 0 2.4-1.5 1 0 4-2 2.6-.5 1.4-1 1 0 .6-.5 4-1 .4-.5 1 0 .6-.5 1 0 .4-.5 1.6 0 2-1 3.4-.5 .6-.5 1.4 0 .6-.5 1.4 0 .6-.5 2 0 .4-.5 5-.5 .6-.5 3 0 .3-.4z"/>
<path fill="#a4c83e" d="M809.4 207.2l.4 .4 3 0 .4 .5 5 .5 .6 .5 2 0 .4 .5 1.6 0 .4 .5 1.6 0 .4 .5 3.6 .5 .4 .5 2.6 .5 .4 .5 1.6 0 2 1 1 0 .4 .5 1 0 .6 .5 1 0 .4 .5 1 0 1.6 1 2.4 .5 1.6 1 1 0 2.4 1.6 1 0 2.6 1.5 1 0 15 7.5 1 1 2.4 1 1 1 5 2.5 2.6 2 1.4 .5 10 7 2 1 1 1 .6 0 1.4 1.5 2 1 9.6 7.5 .4 0 1.6 1.5 .4 0 9.6 8 .4 0 8.6 7.5 .4 0 3 3 .6 0 3.4 3.5 .6 0 7.5 7.1-1 1.4-.1 1 2.4 3 2.2 4 1.1 3.6 .2 4.4-.7 3.6-1.1 3-1.4 2.4-3.1 4-6 5.5-3.6 2.4-11 6.2-13.4 5.5-15.6 4.9-7.4 1.6-.6 .4-26.4 5.2-22.3 2.9-27.7 1.9-26 .5-28.6-1.1-24-2.3-27-4.1-16.4-3.8-14-4.1-17-6.6-5.9-3-7.7-4.7-5-4-4.4-4.7-2.2-3.6-1.3-3-.8-5.4 .3-3.6 1.2-3.4 2-3.6 2.3-3 .1-.4-1.5-1.6 3.9-4 .4 0 3.6-3.5 .4 0 4-4 .6 0 9.4-8.5 .6 0 2-2 .4 0 2.6-2.5 .4 0 7-6 .6 0 1.4-1.5 .6 0 9.4-7.5 2-1 1.6-1.5 .4 0 1-1 .6 0 1-1 .4 0 4-3 .6 0 2.4-2 2-1 1-1 1.6-.5 2.4-2 1.6-.5 3.4-2.5 3.6-1.5 1-1 16-8 1 0 2.4-1.6 1 0 4-2 2.6-.5 1.4-1 1 0 .6-.5 4-1 .4-.5 1 0 .6-.5 1 0 .4-.5 1.6 0 2-1 3.4-.5 .6-.5 1.4 0 .6-.5 1.4 0 .6-.5 2 0 .4-.5 5-.5 .6-.5 3 0 .3-.4z"/>
<path fill="#afc636" d="M809.4 207.2l.4 .4 3 0 .4 .5 5 .5 .6 .5 2 0 .4 .5 1.6 0 .4 .5 1.6 0 .4 .5 3.6 .5 .4 .5 2.6 .5 .4 .5 1.6 0 2 1 1 0 .4 .5 1 0 .6 .6 1 0 .4 .5 1 0 1.6 1 2.4 .5 1.6 1 1 0 2.4 1.5 1 0 2.6 1.5 1 0 15 7.5 1 1 2.4 1 1 1 5 2.5 2.6 2 1.4 .5 10 7 2 1 1 1 .6 0 1.4 1.5 2 1 9.6 7.5 .4 0 1.6 1.5 .4 0 9.6 8 .4 0 2.6 2.5 .4 0 2.6 2.5 .4 0 2.6 2.5 .4 0 10.6 9.6-.9 1.4 0 1 2.7 3.6 2.2 3.9 .9 3.5 .2 3-1 5.6-1.7 3.4-2.4 3.6-7 6.5-5.6 3.7-7 3.8-10 4.5-3.4 .9-2 1.1-8.6 2.4-2 .9-10 2.7-21 4.4-25.4 3.6-25.6 1.9-27 .7-23-.7-17-1.2-13-1.3-23-3.4-21.4-4.8-14-4.2-.6-.5-9-3-8.4-4-7-4-4.6-3.2-5-4.3-2.5-3.1-2.8-5-1-3.4-.2-3.6 .6-4 1.2-3 4.2-6-.1-1-.9-1.4 11.1-10.1 .4 0 6-5.5 .6 0 2-2 .4 0 2.6-2.5 .4 0 7-6 .6 0 1.4-1.5 .6 0 9.4-7.5 2-1 1.6-1.5 .4 0 1-1 .6 0 1-1 .4 0 8.6-6 .4 0 1-1 1.6-.5 2.4-2 1.6-.5 3.4-2.5 3.6-1.5 1-1 16-8 1 0 2.4-1.5 1 0 4-2 2.6-.5 1.4-1 1 0 .6-.5 4-1.1 .4-.5 1 0 .6-.5 1 0 .4-.5 1.6 0 2-1 3.4-.5 .6-.5 1.4 0 .6-.5 1.4 0 .6-.5 2 0 .4-.5 5-.5 .6-.5 3 0 .3-.4z"/>
<path fill="#bac430" d="M809.4 207.2l.4 .4 3 0 .4 .5 5 .5 .6 .5 2 .1 .4 .5 1.6 0 .4 .5 1.6 0 .4 .5 3.6 .5 .4 .5 2.6 .5 .4 .5 1.6 0 2 1 1 0 .4 .5 1 0 .6 .5 1 0 .4 .5 1 0 1.6 1 1 0 3 1.5 1 0 2.4 1.5 1 0 2.6 1.5 1 0 15 7.5 1 1 2.4 1 1 1 5 2.5 2.6 2 1.4 .5 10 7 2 1 1 1 .6 0 1.4 1.5 2 1 9.6 7.5 .4 0 1.6 1.5 .4 0 9.6 8 .4 0 2.6 2.5 .4 0 2.6 2.5 .4 0 2.6 2.5 .4 0 6.6 6-.9 1.6-.1 1 3.4 4.4 1.2 2.6 1.1 3.4 .2 2.6-.4 3.4-.6 2.6-1.5 3-2.4 3.4-3.6 3.7-5 4-4.4 2.9-8.6 4.5-17 6.6-8 2.4-6.4 1.4-.6 .5-22 4.6-21.4 3-23.6 2-29.4 .8-27.6-.9-23.4-2.1-23-3.4-20.6-4.5-17.4-5.4-14.1-6.1-6.9-3.9-5.6-3.8-4-3.7-2.1-2.6-2.5-4-1.3-4-.4-3 .4-3.4 .9-3.2 1.8-3.4 2.7-3.4 0-1-1-1.6 7.1-6.5 .4 0 6-5.5 .6 0 2-2 .4 0 2.6-2.5 .4 0 7-6 .6 0 1.4-1.5 .6 0 9.4-7.5 2-1 1.6-1.5 .4 0 1-1 .6 0 1-1 .4 0 4-3 .6 0 2.4-2 2-1 1-1 1.6-.5 2.4-2 1.6-.5 3.4-2.5 3.6-1.5 1-1 16-8 1 0 2.4-1.5 1 0 4-2 2.6-.5 1.4-1 1 0 .6-.5 4-1 .4-.5 2.6-.5 .4-.5 1.6 0 2-1 3.4-.5 .6-.5 1.4 0 .6-.5 1.4 0 .6-.5 2-.1 .4-.5 5-.5 .6-.5 3 0 .3-.4z"/>
<path fill="#c4c22b" d="M809.3 207.2l.5 .5 3 0 .4 .5 2.6 0 .4 .5 4.6 .5 .4 .5 1.6 0 .4 .5 1.6 0 .4 .5 3.6 .5 .4 .5 2.6 .5 .4 .5 1.6 0 2 1 1 0 .4 .5 1 0 .6 .5 1 0 .4 .5 1 0 1.6 1 1 0 3 1.5 1 0 2.4 1.5 1 0 2.6 1.5 1 0 15 7.5 1 1 6 3 1 1 1.4 .5 2.6 2 1.4 .5 10 7 2 1 1 1 .6 0 1.4 1.5 2 1 9.6 7.5 .4 0 1.6 1.5 .4 0 9.6 8 .4 0 2.6 2.5 .4 0 2.6 2.5 .4 0 2.1 2.1-.1 1-.5 .4 .1 1.1 .4 .2 1.6-1.5 2 1.8-1.6 2 4.1 5.4 1.5 3.6 .5 3-.5 5.4-2.2 5-3.5 4.6-3.9 3.4-5 3.6-5 2.9-6 3.1-8.3 3.4-19.1 6.1-20 4.5-24.6 3.6-21 1.9-23.4 .9-27.6-.4-25-1.9-19-2.5-21.4-4.1-13.6-3.5-9.4-3.1-11.6-4.7-10.4-5.7-7-5.5-3-3.3-2-2.7-1.5-3-.7-2.6-.3-4 .5-3.4 1.4-3.6 4-5.4 0-1-1-1.6 9-8 .6 0 2-2 .4 0 2.6-2.5 .4 0 7-6 .6 0 1.4-1.5 .6 0 9.4-7.5 2-1 1.6-1.5 .4 0 1-1 .6 0 1-1 .4 0 8.6-6 .4 0 1-1 1.6-.5 2.4-2 1.6-.5 3.4-2.5 3.6-1.5 1-1 16-8 1 0 2.4-1.5 1 0 4-2 2.6-.5 1.4-1 1 0 2-1 2.6-.5 .4-.5 2.6-.5 .4-.5 1.6 0 2-1 3.4-.5 .6-.5 1.4 0 .6-.5 1.4 0 .6-.5 4.4-.5 .6-.5 2.4 0 .6-.5 3 0 .4-.5z"/>
<path fill="#cec028" d="M809.3 207.2l.5 .5 3 0 .4 .5 2.6 0 .4 .5 4.6 .5 .4 .5 1.6 0 .4 .5 1.6 0 .4 .5 3.6 .5 .4 .5 2.6 .5 .4 .5 1.6 0 2 1 1 0 .4 .5 1 0 .6 .5 1 0 .4 .5 1 0 1.6 1 2.4 .5 1.6 1 1 0 2.4 1.5 1 0 2.6 1.5 1 0 15 7.5 1 1 6 3 1 1 1.4 .5 2.6 2 1.4 .5 10 7 2 1 1 1 .6 0 1.4 1.5 2 1 9.6 7.5 .4 0 1.6 1.5 .4 0 2 2 .6 0 2 2 .4 0 4.6 4 .4 0 5.1 4.5-.7 2.6 4.7 5.4 1.5 2.9 .9 3.1 .3 2.6-.3 3-.8 3-1.8 3.4-4.1 5-4.2 3.7-5.6 3.7-5 2.7-11.1 4.9-17.3 5.6-18 4.2-19.6 3.2-13.4 1.6-14 1.2-23.6 .9-22-.3-22-1.3-18.4-2.1-16-2.6-10-2-18-4.9-7.6-2.6-10.4-4.3-4.9-2.6-5.7-3.5-5-4-3.6-3.9-2.2-3.6-1.2-3-.5-2.4 .1-3.6 .4-2.5 1.6-3.6 2.6-3.9 2.9-3-.6-2.4 2.5-2.6 .6 0 2-2 .4 0 5-4.5 .6 0 4.4-4 .6 0 1.4-1.5 .6 0 9.4-7.5 2-1 1.6-1.5 .4 0 1-1 .6 0 1-1 .4 0 8.6-6 .4 0 1-1 1.6-.5 1-1 3-1.5 1-1 1.4-.5 1-1 3.6-1.5 1-1 16-8 1 0 2.4-1.5 1 0 4-2 2.6-.5 1.4-1 1 0 2-1 2.6-.5 .4-.5 2.6-.5 .4-.5 1.6 0 2-1 3.4-.5 .6-.5 1.4 0 .6-.5 1.4 0 .6-.5 4.4-.5 .6-.5 2.4 0 .6-.5 3 0 .4-.5z"/>
<path fill="#d6be28" d="M809.3 207.2l.5 .5 3 0 .4 .5 2.6 0 .4 .5 4.6 .5 .4 .5 1.6 0 .4 .5 1.6 0 .4 .5 3.6 .5 .4 .5 2.6 .5 .4 .5 1.6 0 2 1 1 0 .4 .5 1 0 .6 .5 1 0 .4 .5 1 0 1.6 1 2.4 .5 1.6 1 1 0 2.4 1.5 1 0 2.6 1.5 1 0 15 7.5 1 1 6 3 1 1 1.4 .5 2.6 2 1.4 .5 10 7 2 1 1 1 .6 0 1.4 1.5 2 1 9.6 7.5 .4 0 1.6 1.5 .4 0 2 2 .6 0 9.5 8.1-.9 1.4 0 1 2.9 3.6 1.5 2.4 1 2.6 .6 3-.4 5.4-2.7 5.6-3 3.4-3.9 3.6-2.6 2-6.6 3.9-7 3.3-10 4-12.4 3.8-17.6 4.1-25 3.9-20.4 1.8-27 .9-18-.3-27.6-1.9-13.4-1.7-6.6-1.3-.4 .2-19-3.9-9-2.3-5-1.6-.6-.5-1 0-7-2.4-8.1-3.6-11.3-6.4-3-2.4-4.6-4.6-3-5-.9-3.6-.2-2.4 .6-4 1.5-3.6 2-3 2.9-3 0-1-.9-1.4 7-6.1 .6 0 2-2 .4 0 2-2 .6 0 1.4-1.5 .6 0 9.4-7.5 2-1 1.6-1.5 .4 0 1-1 .6 0 1-1 .4 0 4-3 2-1 2.6-2 .4 0 1-1 1.6-.5 1-1 3-1.5 1-1 1.4-.5 1-1 3.6-1.5 1-1 16-8 1 0 2.4-1.5 1 0 4-2 2.6-.5 1.4-1 1 0 .6-.5 4-1 .4-.5 1 0 .6-.5 1 0 .4-.5 1.6 0 2-1 3.4-.5 .6-.5 1.4 0 .6-.5 1.4 0 .6-.5 4.4-.5 .6-.5 2.4 0 .6-.5 3 0 .4-.5z"/>
<path fill="#ddbd29" d="M809.3 207.2l.5 .5 3 0 .4 .5 2.6 0 .4 .5 4.6 .5 .4 .5 1.6 0 .4 .5 1.6 0 .4 .5 3.6 .5 .4 .5 2.6 .5 .4 .5 1.6 0 2 1 1 0 .4 .5 1 0 .6 .5 1 0 .4 .5 1 0 1.6 1 1 0 3 1.5 1 0 2.4 1.5 1 0 2.6 1.5 1 0 15 7.5 1 1 6 3 1 1 1.4 .5 2.6 2 1.4 .5 10 7 2 1 1 1 .6 0 1.4 1.5 2 1 9.6 7.5 .4 0 1.6 1.5 .4 0 6.6 5.5-.8 1.6 0 1 2.5 2.4 2.3 3.3 1.3 2.7 .7 3 .1 2.6-.5 3.4-1.3 3-1.8 3-4.3 4.6-3.2 2.6-9 5.5-6.6 3-11 4.1-15 4.2-14.4 3.1-19 2.9-21.6 2-26.4 1-20.6-.5-23-1.7-20.4-2.8-18.6-3.8-17.4-5.1-11.6-4.7-4.8-2.4-6.2-3.8-4-3.2-3.4-3.6-2-2.8-1.6-3.6-.5-5 .6-3.4 .8-2 1.4-2.6 2.7-3.4-1-1 0-.6 1.1 1 .5 .1 .2-.5-1.5-1.6 .2-.4 1.6 1.4 .9-.3 .2-1.1-.5-.6-.2-1 1.5-1.5 .6 0 4.4-4 .6 0 1.4-1.5 .6 0 9.4-7.5 2-1 1.6-1.5 .4 0 1-1 .6 0 1-1 .4 0 4-3 .6 0 2.4-2 2-1 1-1 1.6-.5 1-1 3-1.5 1-1 1.4-.5 1-1 3.6-1.5 1-1 16-8 1 0 2.4-1.5 1 0 4-2 2.6-.5 1.4-1 1 0 .6-.5 4-1 .4-.5 1 0 .6-.5 1 0 .4-.5 1.6 0 2-1 3.4-.5 .6-.5 1.4 0 .6-.5 1.4 0 .6-.5 4.4-.5 .6-.5 2.4 0 .6-.5 3 0 .4-.5zM660.8 264.8l0 0z"/>
<path fill="#e4bb2c" d="M809.3 207.2l.5 .5 3 0 .4 .5 2.6 0 .4 .5 4.6 .5 .4 .5 1.6 0 .4 .5 1.6 0 .4 .5 3.6 .5 .4 .5 2.6 .5 .4 .5 1.6 0 2 1 1 0 .4 .5 1 0 .6 .5 1 0 .4 .5 1 0 1.6 1 1 0 3 1.5 1 0 2.4 1.5 1 0 2.6 1.5 1 0 15 7.5 1 1 6 3 1 1 1.4 .5 2.6 2 1.4 .5 10 7 2 1 1 1 .6 0 1.4 1.5 2 1 1.6 1.5 .4 0 1.6 1.5 .4 0 9.6 7.5-.7 2.6 4.1 4.5 2 3.5 .9 3 .1 4.4-.6 2.6-1.7 3.4-3.1 4.1-2.1 1.9-2.9 2.5-6.6 4.1-10 4.8-6 2.3-12.4 3.9-16 3.6-19.6 3.2-25 2.4-22.4 .7-22-.4-19.6-1.5-16.4-2.1-21-4-14.6-4-14.3-5.5-10.1-5.4-5-3.9-4-4.1-2.7-5-.6-2.6-.2-3 1.5-5.4 1.5-2.6 2.9-3.4 0-1-1-1.6 1.2-1 1.8 1.7 .1-1.1-.5-.6-.1-1 1.5-1.5 .6 0 1.4-1.5 .6 0 9.4-7.5 2-1 1.6-1.5 .4 0 1-1 .6 0 1-1 .4 0 4-3 2-1 2.6-2 .4 0 1-1 1.6-.5 5-3.5 1.4-.5 1-1 3.6-1.5 1-1 16-8 1 0 2.4-1.5 1 0 4-2 2.6-.5 1.4-1 1 0 .6-.5 4-1 .4-.5 1 0 .6-.5 1 0 .4-.5 1.6 0 2-1 3.4-.5 .6-.5 1.4 0 .6-.5 1.4 0 .6-.5 4.4-.5 .6-.5 2.4 0 .6-.5 3 0 .4-.5z"/>
<path fill="#e8bb2f" d="M809.3 207.2l.5 .5 3 0 .4 .5 2.6 0 .4 .5 4.6 .5 .4 .5 1.6 0 .4 .5 1.6 0 .4 .5 3.6 .5 .4 .5 2.6 .5 .4 .5 1.6 0 2 1 1 0 .4 .5 1 0 .6 .5 1 0 .4 .5 1 0 1.6 1 2.4 .5 1.6 1 1 0 2.4 1.5 1 0 2.6 1.5 1 0 15 7.5 1 1 6 3 1 1 1.4 .5 2.6 2 1.4 .5 10 7 2 1 1 1 .6 0 1.4 1.5 2 1 1.6 1.5 .4 0 1.6 1.5 .4 0 5.1 4.1-.7 1.4 0 1 4 4.6 2.2 4 .7 3-.2 4-1.6 4.4-1.9 3-2.9 3-4.7 3.8-4 2.5-7.4 3.8-8.6 3.5-17 5-18.4 3.8-13.6 2-19 1.8-24.4 .9-21.6-.5-22-1.8-17-2.3-21.4-4.6-14-4.4-13.3-5.9-7.7-5-5.1-5-2.2-3.6-1.3-4 0-4 .7-3 2.2-4 3.1-3.4-.4-2.5 1.4 1.5 .6-.6 0-1-.5-.4-.1-1 5-4.1 .6 0 1.4-1.5 .6 0 1.4-1.5 2-1 1.6-1.5 .4 0 1-1 .6 0 1-1 .4 0 4-3 2-1 2.6-2 .4 0 1-1 1.6-.5 5-3.5 1.4-.5 1-1 3.6-1.5 1-1 16-8 1 0 2.4-1.5 1 0 4-2 2.6-.5 1.4-1 1 0 .6-.5 4-1 .4-.5 2.6-.5 .4-.5 1.6 0 2-1 3.4-.5 .6-.5 1.4 0 .6-.5 1.4 0 .6-.5 4.4-.5 .6-.5 2.4 0 .6-.5 3 0 .4-.5zM671.2 256.3l.5-.1-.5 .1z"/>
<path fill="#ecba32" d="M809.3 207.2l.5 .5 3 0 .4 .5 2.6 0 .4 .5 4.6 .5 .4 .5 1.6 0 .4 .5 1.6 0 .4 .5 3.6 .5 .4 .5 2.6 .5 .4 .5 1.6 0 2 1 1 0 .4 .5 1 0 .6 .5 1 0 .4 .5 1 0 1.6 1 1 0 3 1.5 1 0 2.4 1.5 1 0 2.6 1.5 1 0 15 7.5 1 1 6 3 1 1 1.4 .5 2.6 2 1.4 .5 10 7 2 1 1 1 .6 0 1.4 1.5 2 1 5.1 4.1-1 1.4 .1 1 3.1 3.6 2.5 4.4 .6 3-.1 3-.6 2.6-1.7 3.4-4.5 5-4.9 3.9-3.6 2.1-10.7 5-15.3 5.1-15 3.6-20 3.2-24.4 2.2-19 .5-21-.5-18.6-1.5-16.4-2.2-12-2.3-9-2.1-16-5.1-11-5-7.4-4.9-2.6-2.2-2.9-3.2-1.9-3.6-.8-2.4-.3-3 .6-3.6 2.3-4.4 4.1-4.6 0-1-.5-.4-.2-1 5-4.1 2-1 1.6-1.5 .4 0 1-1 .6 0 1-1 .4 0 8.6-6 .4 0 1-1 1.6-.5 5-3.5 1.4-.5 1-1 3.6-1.5 1-1 16-8 1 0 2.4-1.5 1 0 4-2 2.6-.5 1.4-1 1 0 .6-.5 4-1 .4-.5 2.6-.5 .4-.5 1.6 0 2-1 3.4-.5 .6-.5 1.4 0 .6-.5 1.4 0 .6-.5 4.4-.5 .6-.5 2.4 0 .6-.5 3 0 .4-.5z"/>
<path fill="#f0ba36" d="M809.3 207.2l.5 .5 3 0 .4 .5 2.6 0 .4 .5 4.6 .5 .4 .5 1.6 0 .4 .5 1.6 0 .4 .5 3.6 .5 .4 .5 2.6 .5 .4 .5 1.6 0 2 1 1 0 .4 .5 1 0 .6 .5 1 0 .4 .5 1 0 3 1.5 1 0 5 2.5 1 0 2.6 1.5 1 0 15 7.5 1 1 2.4 1 1 1 5 2.5 2.6 2 1.4 .5 1 1 3.6 2 1 1 .4 0 10.1 7-.9 1.6 0 1 4.3 4.4 1.8 3 1 3-.2 5-1.9 4.6-2.6 3.3-3.5 3.1-7.5 4.9-9.6 4.4-14.4 4.8-17 3.8-18 2.7-16.6 1.6-21.4 .8-18.6-.3-16.4-1.1-21.6-2.7-14.4-2.9-14-3.9-11.8-4.5-6.8-3.5-4.4-3.1-3.6-3-2.5-3-1.2-2-1.2-3-.4-3.4 .4-2.6 1.5-3.6 2.4-3.4 2-2 0-1-1-1.4 .6-.6 2 1.7 .1-1.1-.7-1.6 2.6-2 .4 0 1-1 .6 0 1-1 .4 0 4-3 .6 0 2.4-2 2-1 1-1 1.6-.5 5-3.5 1.4-.5 1-1 3.6-1.5 1-1 16-8 1 0 2.4-1.5 1 0 4-2 2.6-.5 1.4-1 1 0 .6-.5 4-1 .4-.5 2.6-.5 .4-.5 1.6 0 2-1 3.4-.5 .6-.5 1.4 0 .6-.5 1.4 0 .6-.5 4.4-.5 .6-.5 2.4 0 .6-.5 3 0 .4-.5z"/>
<path fill="#f3ba39" d="M809.3 207.2l.5 .5 3 0 .4 .5 2.6 0 .4 .5 4.6 .5 .4 .5 1.6 0 .4 .5 1.6 0 .4 .5 3.6 .5 .4 .5 2.6 .5 .4 .5 1.6 0 2 1 1 0 .4 .5 1 0 .6 .5 1 0 .4 .5 1 0 3 1.5 1 0 5 2.5 1 0 2.6 1.5 1 0 15 7.5 1 1 2.4 1 1 1 5 2.5 2.6 2 1.4 .5 1 1 .6 0 1 1 .4 0 1 1 .6 0 5 3.6-.6 2.4 .6 .2 .4-.5 .2 1.3 3.6 3.6 2.2 3.4 1.1 3.6 .1 3-1.1 4-1.5 2.4-5.4 5.6-8.2 5-12 5.2-13 3.9-16 3.4-21.4 2.8-19 1.3-15 .2-21.6-.8-15.4-1.4-16.6-2.6-15-3.4-10.4-3.1-11.8-5.1-7.3-4.4-3-2.6-3-3.4-1.8-3.6-.8-3.4 .7-4.6 1-2.1 1.9-2.9 3-3 0-1-.5-1 1.1 1 .6 0 0-1-.7-1.4 5-3.6 .6 0 1-1 .4 0 1-1 .6 0 1-1 .4 0 1-1 1.6-.5 1-1 3-1.5 1-1 1.4-.5 1-1 3.6-1.5 1-1 16-8 1 0 2.4-1.5 1 0 4-2 1 0 3-1.5 1 0 .6-.5 4-1 .4-.5 1 0 .6-.5 1 0 .4-.5 1.6 0 2-1 3.4-.5 .6-.5 1.4 0 .6-.5 1.4 0 .6-.5 4.4-.5 .6-.5 2.4 0 .6-.5 3 0 .4-.5zM686.8 244.8l0 0zM893.8 244.9l-.4-.1 .4-.4 0 .5z"/>
<path fill="#f7ba3c" d="M809.3 207.2l.5 .5 3 0 .4 .5 2.6 0 .4 .5 4.6 .5 .4 .5 1.6 0 .4 .5 1.6 0 .4 .5 3.6 .5 .4 .5 2.6 .5 .4 .5 1.6 0 2 1 1 0 .4 .5 1 0 .6 .5 1 0 .4 .5 1 0 3 1.5 1 0 5 2.5 1 0 2.6 1.5 1 0 15 7.5 1 1 2.4 1 1 1 5 2.5 2.6 2 1.4 .5 5.1 3.6-.6 2.4 1.1 .7 3.4 3.9 2.2 4 .7 3-.1 2-.5 2.4-1.8 3.6-4.5 4.7-5.3 3.7-3.1 1.7-11.6 5-12 3.6-12.4 2.8-16 2.5-19 1.6-18 .6-14-.3-21-1.5-13-1.8-15-2.9-14-4-11.6-4.7-6-3.6-2.4-1.9-3.4-3.1-1.9-2.4-1.4-3-.5-2.6-.1-2 .7-3 3-4.9 3.3-3.1 0-1-.8-1.4 5.1-3.6 .4 0 1-1 1.6-.5 1-1 3-1.5 1-1 1.4-.5 1-1 3.6-1.5 1-1 16-8 1 0 2.4-1.5 1 0 4-2 1 0 3-1.5 1 0 .6-.5 4-1 .4-.5 2.6-.5 .4-.5 1.6 0 2-1 3.4-.5 .6-.5 1.4 0 .6-.5 1.4 0 .6-.5 4.4-.5 .6-.5 2.4 0 .6-.5 3 0 .4-.5z"/>
<path fill="#fbbc3d" d="M809.3 207.2l.5 .5 3 0 .4 .5 2.6 0 .4 .5 4.6 .5 .4 .5 1.6 0 .4 .5 1.6 0 .4 .5 3.6 .5 .4 .5 2.6 .5 .4 .5 1.6 0 2 1 1 0 .4 .5 1 0 .6 .5 1 0 .4 .5 1 0 3 1.5 1 0 1.6 1 1 0 2.4 1.5 1 0 2.6 1.5 1 0 5 2.5 10 5 1 1 2.4 1 1 1 5 2.5 2.6 2 .5 .1-1 1.4 .2 1 4.4 4 2.7 4 .8 3 .1 2-.8 3.6-1 2-3.5 4-5.8 4.4-9.2 4.6-13 4.5-15 3.5-16.4 2.5-14.6 1.3-20.4 .7-18-.6-14.6-1.2-15.4-2.2-15-3.3-10.6-3.2-9.4-4.1-7.3-4.5-3.4-3-1.9-2.4-1.9-4.6-.2-3 .7-2.7 1.1-2.3 2.3-3 3.4-3 0-1-.5-.4 .1-.9 1.6 1.3 .1-1-.5-.4-.2-1 2-1.1 1-1 1.6-.5 3.4-2.5 3.6-1.5 1-1 6-3 10-5 1 0 2.4-1.5 1 0 4-2 1 0 3-1.5 1 0 .6-.5 4-1 .4-.5 1 0 .6-.5 1 0 .4-.5 1.6 0 2-1 3.4-.5 .6-.5 1.4 0 .6-.5 1.4 0 .6-.5 4.4-.5 .6-.5 2.4 0 .6-.5 3 0 .4-.5zM698.8 236.9l.3-.1-.3 .1z"/>
<path fill="#fec03b" d="M809.3 207.2l.5 .5 3 0 .4 .5 2.6 0 .4 .5 4.6 .5 .4 .5 1.6 0 .4 .5 1.6 0 .4 .5 3.6 .5 .4 .5 2.6 .5 .4 .5 1.6 0 2 1 1 0 .4 .5 1 0 .6 .5 1 0 .4 .5 1 0 1.6 1 1 0 3 1.5 1 0 2.4 1.5 1 0 2.6 1.5 1 0 15 7.5 1 1 5 2.5-.9 1.5 .1 1 1.2 .7 3.6 3.3 3.1 4.6 .7 4-.6 3.4-.7 1.6-1.7 2.4-2.4 2.5-2.4 2-4.1 2.5-9.5 4.5-11 3.5-11.4 2.7-18.6 2.9-13.4 1.1-15.6 .5-16-.3-17.4-1.3-12-1.7-15.6-3.3-10-3-9.4-4-4-2.3-4-3-2.9-2.7-1.4-2-1.5-4.6 .1-2.4 .7-2.6 2.6-4 3.8-3.4 0-.6 .7 0 .1-1-.5-.4 .3-.8 1.6 1.2 .1-1-.8-1.4 .5-.1 1-1 3.6-1.5 1-1 16-8 1 0 2.4-1.5 1 0 4-2 2.6-.5 1.4-1 1 0 .6-.5 4-1 .4-.5 1 0 .6-.5 1 0 .4-.5 1.6 0 2-1 3.4-.5 .6-.5 1.4 0 .6-.5 1.4 0 .6-.5 4.4-.5 .6-.5 2.4 0 .6-.5 3 0 .4-.5zM705.2 233l.3-.2-.3 .2z"/>
<path fill="#fec537" d="M809.3 207.2l.5 .5 3 0 .4 .5 2.6 0 .4 .5 4.6 .5 .4 .5 1.6 0 .4 .5 1.6 0 .4 .5 3.6 .5 .4 .5 2.6 .5 .4 .5 1.6 0 2 1 1 0 .4 .5 1 0 .6 .5 1 0 .4 .5 1 0 1.6 1 2.4 .5 1.6 1 1 0 2.4 1.5 1 0 2.6 1.5 1 0 13 6.5-.2 1-.5 .6 0 1 1.7 .8 .6-.4 .1 1 2.7 2 1.9 2 2.5 3.6 .8 3 0 2-.6 2.4-1 2-1.6 2-3.2 3-5.3 3.6-6.5 3-11 3.7-12.4 3-18.6 2.7-15.4 1.1-14.6 .2-16.4-.6-16-1.7-11-1.9-10-2.4-12.6-4.1-6.4-3.3-5.5-3.7-2.8-3-1.3-2-1-4 .6-4 2.6-4 4.7-4 .1-1-1-1.6 1.4-.4 1.7 1.4 .1-1-.5-.4-.1-1.1 15-7.5 1 0 2.4-1.5 1 0 4-2 2.6-.5 1.4-1 1 0 2-1 2.6-.5 .4-.5 2.6-.5 .4-.5 1.6 0 2-1 3.4-.5 .6-.5 1.4 0 .6-.5 1.4 0 .6-.5 4.4-.5 .6-.5 2.4 0 .6-.5 3 0 .4-.5zM869.8 229.9l0-.3 0 .3z"/>
<path fill="#fdca33" d="M809.3 207.2l.5 .5 3 0 .4 .5 2.6 0 .4 .5 4.6 .5 .4 .5 1.6 0 .4 .5 1.6 0 .4 .5 3.6 .5 .4 .5 2.6 .5 .4 .5 1.6 0 2 1 1 0 .4 .5 1 0 .6 .5 1 0 .4 .5 1 0 1.6 1 2.4 .5 1.6 1 1 0 2.4 1.5 1 0 2.6 1.5 1 0 8 4-.9 1.5 .2 1 2.9 2 2.8 2.6 2.5 4 .6 3.4-.5 2.6-1 2-1.6 2.2-2.5 2.2-6.2 4-6.9 3.1-10.4 3.3-13.6 2.9-10.4 1.4-15.6 1.3-11 .3-15-.4-12-.9-11-1.5-11.4-2.3-9.6-2.7-8.4-3.4-6.7-4.1-3.3-2.9-1.6-2-1.3-3.5-.1-2 .5-2.6 1.3-2.4 1.7-2 4.3-3.6 .2-.7 .6 .3 .1-1-.7-1.6 10-5 1 0 2.4-1.5 1 0 4-2 2.6-.5 1.4-1 1 0 .6-.5 4-1 .4-.5 2.6-.5 .4-.5 1.6 0 2-1 3.4-.5 .6-.5 1.4 0 .6-.5 1.4 0 .6-.5 4.4-.5 .6-.5 2.4 0 .6-.5 3 0 .4-.5z"/>
<path fill="#fbd32e" d="M809.3 207.2l.5 .5 6 .5 .4 .5 2 0 .6 .5 2 0 .4 .5 1.6 0 .4 .5 1.6 0 .4 .5 3.6 .5 .4 .5 2.6 .5 .4 .5 1.6 0 2 1 1 0 .4 .5 1 0 .6 .5 1 0 .4 .5 1 0 1.6 1 2.4 .5 1.6 1 1 0 2.4 1.5 1 0 2 1-.2 2.6 6.2 4 3.7 4.4 .7 2 .1 2-.4 2.6-1.1 2-3 3.2-6.5 4.2-5.5 2.6-10.4 3.2-8.6 1.9-12 1.9-12.4 1.1-12 .4-11.6-.2-11.4-.8-12-1.5-11-2.3-11-3.3-6.6-2.9-4.9-3.1-3.8-4-1.6-4 .2-3 .8-2 2.8-3.4 4-3 .1-.6 .4 .3 .6-1 .4 .4 .6-1 .4 .4 .6-.9 .4 .5 .6-1 .5 .3 .1-2.4 1.8-1.1 1 0 1.6-1 1 0 1.4-1 2.6-.5 1.4-1 1 0 .6-.5 4-1 .4-.5 1 0 .6-.5 1 0 .4-.5 1.6 0 2-1 3.4-.5 .6-.5 1.4 0 .6-.5 1.4 0 .6-.5 4.4-.5 .6-.5 2.4 0 .6-.5 3 0 .4-.5z"/>
<path fill="#f7dc2a" d="M809.3 207.2l.5 .5 3 0 .4 .5 2.6 0 .4 .5 4.6 .5 .4 .5 1.6 0 .4 .5 1.6 0 .4 .5 3.6 .5 .4 .5 2.6 .5 .4 .5 1.6 0 2 1 1 0 .4 .5 1 0 .6 .5 1 0 0 2.6 .5-.1 .9-1.9 1.6 .9 1 0-.5 .6 .1 2 6.7 3.4 2.5 2 2.3 3 .9 2 .1 2-.3 2-1 2-3.4 3.6-5.4 3.4-7 2.9-7.6 2.2-11 2.3-10 1.3-11 .8-9.4 .2-10.6-.3-14-1.3-16.4-3.1-7.6-2.4-6-2.6-6-4-2.7-3.4-.6-1.6-.2-2.4 .9-3 1.4-2 2.7-2.6 4-2.4 .1-.6 .4 .3 .6-.9 .4 .4 .5-.2 0-2.6 .5-.2 .3 .8 1.3 1 .1-2.6 .9 0 1.4-1 1 0 .6-.5 4-1 .4-.5 1 0 .6-.5 1 0 .4-.5 1.6 0 2-1 3.4-.5 .6-.5 1.4 0 .6-.5 4-.5 .4-.5 2 0 .6-.5 2.4 0 .6-.5 3 0 .4-.5z"/>
<path fill="#f5e526" d="M809.3 207.2l.5 .5 6 .5 .4 .5 4.6 .5 .4 .5 1.6 0 .4 .5 1.6 0 .4 .5 3.5 .5 .1 2.6 .5 0 .9-2 2 .9 1.2 .1-.1 2.4 3.8 1.6 4.7 2.5 2.4 1.9 1.8 2 .9 2 .3 1.6-.4 2.4-1.1 2-3.1 3-5.4 3.1-6.4 2.5-5 1.4-7 1.6-10 1.4-10.6 .8-8 .2-13.4-.5-7.6-.8-15.4-3-7-2.3-6-2.9-3.9-2.9-1.8-2.6-.6-2.4 .1-2 1.7-3 2.6-2.6 5.9-3.2 .3-.8 .7 .4 1-1.1 .4 .4 .4-.1 .2-1.2 1 .8 .4-1.3 1 .8 .3-.1 0-2.6 1.3 0 2-1 1.4 0 .6-.5 1.4 0 .6-.5 1.4 0 .6-.5 1.4 0 .6-.5 4.4-.5 .6-.5 2.4 0 .6-.5 3 0 .4-.5z"/>
<path fill="#f5ee21" d="M809.3 207.2l.5 .5 3 0 .4 .5 2.3 0 .3 2.6 .6 0 .5-1.6 .9-.4 0 2.4 1.2 0 .8-1.6 .1 2.2 1.3 .3 .6-.9 0 1 5.8 2 5.2 2.7 2.5 2.3 1.3 2.6 0 3-1.5 2.4-3.2 2.6-4.1 2.2-6.6 2.3-4 .9-12.4 2-15.6 .7-13-.6-7-1-7.4-1.5-8-2.6-3-1.5-2.6-1.7-2.3-2.2-.8-1.6-.3-1.4 .4-2.6 1.6-2.1 2.8-2.3 3.7-2 3.9-1.6 0-.4 .6 .3 .9-.3 .1-1.1 1 .8 .6-.3 0-1 .4-.1 1 .9 .6-.2 0-2.6 .6 0 0 1 1.2 1.1 .3-2.5 1.1 0 0 1 1.2 1 .1-2.6 2.3 0 .6-.5 3 0 .4-.5z"/>
<path fill="#f8f719" d="M791.8 229.8l-14-.8-10.1-2.2-3.9-1.5-4-2.5-1.4-2-.1-2 .5-1.6 1-1.1 1.6-1.3 2.8-1.6 8.6-2.6 9.2-1.4 0-1 .2 0 1 1 7.6-.3 9 .3 .6-1 0 1 9.8 1.6 6.3 2 4.3 2.2 2.4 2.8 .1 2-1.2 2.4-2.3 1.9-5.6 2.5-6 1.5-5.4 .9-11 .8z"/>
</g>
<path d="M792.0 468.0 L798.3 468.0 L804.6 467.9 L810.8 467.8 L817.1 467.6 L823.3 467.4 L829.5 467.1 L835.7 466.7 L841.9 466.4 L848.0 465.9 L854.1 465.4 L860.2 464.9 L866.2 464.3 L872.2 463.7 L878.1 463.0 L884.0 462.2 L889.8 461.5 L895.5 460.6 L901.2 459.8 L906.8 458.8 L912.3 457.9 L917.7 456.9 L923.1 455.8 L928.4 454.7 L933.6 453.6 L938.7 452.4 L943.7 451.1 L948.6 449.9 L953.4 448.6 L958.1 447.2 L962.7 445.8 L967.2 444.4 L971.5 442.9 L975.8 441.4 L979.9 439.9 L983.9 438.3 L987.8 436.8 L991.6 435.1 L995.2 433.5 L998.7 431.8 L1002.1 430.1 L1005.3 428.3 L1008.4 426.5 L1011.4 424.7 L1014.2 422.9 L1016.9 421.1 L1019.4 419.2 L1021.8 417.3 L1024.0 415.4 L1026.1 413.5 L1028.0 411.6 L1029.8 409.6 L1031.4 407.7 L1032.9 405.7 L1034.2 403.7 L1035.4 401.7 L1036.3 399.7 L1037.2 397.7 L1037.9 395.7 L1038.4 393.6 L1038.8 391.6 L1039.0 389.6 L1039.0 387.5 L1038.9 385.5 L1038.6 383.5 L1038.2 381.4 L1037.6 379.4 L1036.8 377.4 L1035.9 375.4 L1034.8 373.4 L1033.6 371.4 L1032.2 369.4 L1030.7 367.4 L1029.0 365.5 L1027.1 363.5 L1025.1 361.6 L1023.0 359.7 L1020.7 357.8 L1018.3 355.9 L1015.7 354.1" fill="none" stroke="#e8131b" stroke-width="5.5" stroke-dasharray="28 23.5" stroke-dashoffset="9.3"/>
<path d="M792.0 468.0 L786.1 468.0 L780.3 467.9 L774.4 467.8 L768.6 467.6 L762.8 467.4 L756.9 467.2 L751.2 466.9 L745.4 466.6 L739.6 466.2 L733.9 465.8 L728.2 465.3 L722.6 464.8 L717.0 464.2 L711.4 463.6 L705.9 463.0 L700.4 462.3 L695.0 461.6 L689.7 460.8 L684.4 460.0 L679.1 459.2 L673.9 458.3 L668.8 457.3 L663.8 456.4 L658.8 455.4 L653.9 454.3 L649.1 453.2 L644.3 452.1 L639.7 451.0 L635.1 449.8 L630.6 448.6 L626.2 447.3 L621.9 446.0 L617.7 444.7 L613.6 443.3 L609.6 441.9 L605.7 440.5 L601.9 439.1 L598.2 437.6 L594.6 436.1 L591.2 434.6 L587.8 433.0 L584.6 431.4 L581.5 429.8 L578.4 428.2 L575.6 426.5 L572.8 424.9 L570.2 423.2 L567.6 421.5 L565.3 419.7 L563.0 418.0 L560.9 416.2 L558.9 414.4 L557.0 412.6 L555.3 410.8 L553.6 409.0 L552.2 407.1 L550.8 405.3 L549.6 403.4 L548.6 401.6 L547.7 399.7 L546.9 397.8 L546.2 395.9 L545.7 394.0 L545.3 392.1 L545.1 390.2 L545.0 388.3 L545.0 386.4 L545.2 384.5 L545.6 382.7 L546.0 380.8 L546.6 378.9 L547.4 377.0 L548.2 375.1 L549.2 373.2 L550.4 371.4 L551.7 369.5 L553.1 367.7 L554.7 365.9 L556.3 364.0" fill="none" stroke="#e8131b" stroke-width="5.5" stroke-dasharray="28 23.5" stroke-dashoffset="17.2"/>
<path d="M757.5 1003.0 L757.7 1008.6 L756.7 1014.1 L755.2 1019.4 L753.4 1024.5 L751.3 1029.5 L748.8 1034.3 L746.0 1038.9 L742.9 1043.4 L739.5 1047.7 L736.0 1051.8 L732.2 1055.7 L728.2 1059.5 L724.1 1063.1 L719.8 1066.5 L715.5 1069.8 L711.0 1072.9 L706.4 1075.9 L701.7 1078.7 L696.9 1081.3 L692.0 1083.9 L687.1 1086.2 L682.1 1088.5 L677.0 1090.6 L671.8 1092.5 L666.6 1094.4 L661.4 1096.1 L656.0 1097.7 L650.7 1099.2 L645.3 1100.5 L639.9 1101.8 L634.5 1103.0 L629.1 1104.0 L623.6 1105.0 L618.2 1105.8 L612.7 1106.6 L607.2 1107.3 L601.8 1108.0 L596.4 1108.6 L590.9 1109.1 L585.5 1109.7 L580.1 1110.2 L574.6 1110.7 L569.2 1111.2 L563.8 1111.8 L558.4 1112.3 L553.0 1113.0 L547.6 1113.6 L542.2 1114.4 L536.9 1115.2 L531.5 1116.2 L526.1 1117.2 L520.8 1118.3 L515.5 1119.6 L510.2 1120.9 L504.9 1122.4 L499.6 1124.0 L494.4 1125.6 L489.2 1127.4 L484.0 1129.3 L478.8 1131.3 L473.7 1133.4 L468.6 1135.6 L463.6 1137.9 L458.6 1140.3 L453.6 1142.8 L448.8 1145.4 L444.0 1148.1 L439.2 1150.9 L434.6 1153.8 L430.0 1156.9 L425.5 1160.0 L421.1 1163.3 L416.8 1166.7 L412.7 1170.2 L408.6 1173.8 L404.7 1177.6 L400.9 1181.5 L397.3 1185.5 L394.0 1190.0" fill="none" stroke="#fce0e0" stroke-width="6.8" stroke-linejoin="round"/>
<path d="M762.5 1003.0 L761.6 1008.0 L762.1 1013.1 L762.9 1018.0 L764.1 1022.8 L765.6 1027.4 L767.5 1031.8 L769.6 1036.1 L772.0 1040.3 L774.7 1044.3 L777.6 1048.1 L780.7 1051.8 L784.0 1055.4 L787.4 1058.8 L791.1 1062.1 L794.8 1065.2 L798.7 1068.3 L802.6 1071.2 L806.7 1073.9 L810.9 1076.6 L815.1 1079.1 L819.5 1081.5 L823.9 1083.8 L828.4 1085.9 L832.9 1088.0 L837.6 1089.9 L842.2 1091.8 L846.9 1093.5 L851.7 1095.1 L856.5 1096.6 L861.3 1098.0 L866.1 1099.3 L871.0 1100.6 L875.8 1101.7 L880.7 1102.7 L885.6 1103.7 L890.4 1104.6 L895.3 1105.4 L900.2 1106.2 L905.0 1106.9 L909.9 1107.6 L914.7 1108.3 L919.6 1108.9 L924.5 1109.6 L929.3 1110.2 L934.2 1110.9 L939.0 1111.5 L943.8 1112.2 L948.7 1113.0 L953.5 1113.7 L958.3 1114.6 L963.1 1115.5 L967.9 1116.4 L972.7 1117.5 L977.4 1118.6 L982.2 1119.8 L986.9 1121.2 L991.6 1122.6 L996.3 1124.2 L1001.0 1125.8 L1005.6 1127.6 L1010.2 1129.5 L1014.7 1131.4 L1019.2 1133.5 L1023.6 1135.7 L1028.0 1138.1 L1032.3 1140.5 L1036.6 1143.0 L1040.7 1145.7 L1044.8 1148.5 L1048.8 1151.4 L1052.7 1154.4 L1056.5 1157.6 L1060.2 1160.8 L1063.8 1164.2 L1067.3 1167.8 L1070.7 1171.4 L1074.0 1175.2 L1077.1 1179.1 L1080.0 1183.0" fill="none" stroke="#fce0e0" stroke-width="6.8" stroke-linejoin="round"/>
<path d="M573.1 1856.0 L573.1 1860.7 L573.2 1865.3 L573.4 1870.0 L573.7 1874.6 L574.2 1879.3 L574.9 1883.9 L575.8 1888.5 L576.8 1893.0 L578.0 1897.6 L579.3 1902.0 L580.8 1906.4 L582.5 1910.8 L584.3 1915.1 L586.2 1919.3 L588.3 1923.5 L590.6 1927.6 L593.0 1931.6 L595.6 1935.5 L598.3 1939.3 L601.1 1943.0 L604.1 1946.6 L607.2 1950.1 L610.4 1953.4 L613.8 1956.7 L617.2 1959.8 L620.8 1962.9 L624.5 1965.7 L628.2 1968.5 L632.1 1971.1 L636.1 1973.6 L640.1 1975.9 L644.2 1978.1 L648.4 1980.1 L652.7 1982.0 L657.0 1983.7 L661.4 1985.2 L665.8 1986.6 L670.3 1987.8 L674.8 1988.8 L679.4 1989.6 L684.0 1990.4 L688.6 1991.0 L693.2 1991.7 L697.8 1992.3 L702.4 1993.0 L707.0 1993.7 L711.5 1994.6 L716.0 1995.7 L720.4 1996.8 L724.8 1998.2 L729.2 1999.7 L733.4 2001.4 L737.6 2003.2 L741.8 2005.2 L745.8 2007.4 L749.8 2009.7 L753.7 2012.1 L757.6 2014.8 L761.3 2017.5 L765.0 2020.5 L768.6 2023.5 L772.0 2026.7 L775.4 2030.0 L778.7 2033.4 L781.9 2036.9 L785.0 2040.5 L788.0 2044.2 L790.9 2048.0 L793.7 2051.8 L796.3 2055.8 L798.9 2059.7 L801.3 2063.8 L803.6 2067.8 L805.8 2071.9 L807.9 2076.1 L809.8 2080.2 L811.6 2084.4 L813.3 2088.6 L814.7 2093.0" fill="none" stroke="#fce0e0" stroke-width="6.8" stroke-linejoin="round"/>
<path d="M1121.4 1856.0 L1121.4 1860.7 L1121.5 1865.4 L1121.4 1870.2 L1121.1 1875.0 L1120.6 1879.8 L1120.0 1884.7 L1119.1 1889.5 L1118.1 1894.3 L1116.9 1899.0 L1115.5 1903.7 L1113.9 1908.4 L1112.2 1913.0 L1110.2 1917.4 L1108.1 1921.8 L1105.8 1926.1 L1103.4 1930.3 L1100.8 1934.3 L1098.0 1938.1 L1095.1 1941.9 L1092.0 1945.5 L1088.7 1948.9 L1085.4 1952.2 L1081.9 1955.4 L1078.2 1958.4 L1074.5 1961.3 L1070.6 1964.1 L1066.7 1966.7 L1062.6 1969.2 L1058.4 1971.5 L1054.2 1973.7 L1049.8 1975.8 L1045.4 1977.7 L1041.0 1979.5 L1036.4 1981.1 L1031.9 1982.7 L1027.2 1984.0 L1022.5 1985.3 L1017.8 1986.4 L1013.1 1987.4 L1008.3 1988.2 L1003.6 1989.0 L998.8 1989.8 L994.0 1990.5 L989.2 1991.1 L984.4 1991.9 L979.7 1992.6 L975.0 1993.5 L970.3 1994.4 L965.6 1995.5 L961.0 1996.7 L956.5 1998.1 L952.0 1999.6 L947.6 2001.2 L943.2 2003.0 L938.9 2004.9 L934.7 2007.0 L930.5 2009.2 L926.4 2011.6 L922.4 2014.2 L918.6 2017.0 L914.8 2019.9 L911.1 2023.0 L907.5 2026.3 L904.0 2029.6 L900.6 2033.2 L897.3 2036.8 L894.2 2040.6 L891.1 2044.4 L888.2 2048.4 L885.4 2052.4 L882.7 2056.5 L880.2 2060.7 L877.8 2064.9 L875.5 2069.2 L873.3 2073.5 L871.3 2077.8 L869.5 2082.2 L867.7 2086.5 L866.3 2091.0" fill="none" stroke="#fce0e0" stroke-width="6.8" stroke-linejoin="round"/>
<polygon points="379.8,1182.5 385.5,1216.4 410.9,1192.4" fill="#fce0e0"/>
<polygon points="1065.5,1191.5 1091.0,1216.4 1097.2,1181.1" fill="#fce0e0"/>
<polygon points="799.5,2094.6 819.8,2123.9 831.9,2090.1" fill="#fce0e0"/>
<polygon points="850.1,2088.9 861.2,2122.9 882.4,2093.6" fill="#fce0e0"/>
<rect x="178.6" y="1319.4" width="1180.9" height="511.1" fill="none" stroke="#13213f" stroke-width="3"/>
<line x1="988.5" y1="1321" x2="988.5" y2="1829" stroke="#000" stroke-width="2.8" stroke-dasharray="3.6 3.5"/>
<path d="M237.0,1402.2 C211.4,1402.5 199.4,1403.7 199.4,1407.2 L199.4,1787.2 C199.4,1790.7 211.4,1791.9 237.0,1792.2" fill="none" stroke="#000" stroke-width="3.4" stroke-linejoin="round"/>
<path d="M921.7,1399.0 C947.0,1399.3 959.0,1400.5 959.0,1404.0 L959.0,1783.5 C959.0,1787.0 947.0,1788.2 921.7,1788.5" fill="none" stroke="#000" stroke-width="3.4" stroke-linejoin="round"/>
<path d="M1046.6,1398.7 C1025.5,1399.0 1013.5,1400.2 1013.5,1403.7 L1013.5,1787.6 C1013.5,1791.1 1025.5,1792.3 1046.6,1792.6" fill="none" stroke="#000" stroke-width="3.4" stroke-linejoin="round"/>
<path d="M1118.3,1402.8 C1143.4,1403.1 1155.4,1404.3 1155.4,1407.8 L1155.4,1787.6 C1155.4,1791.1 1143.4,1792.3 1118.3,1792.6" fill="none" stroke="#000" stroke-width="3.4" stroke-linejoin="round"/>
<rect x="240.6" y="1427.5" width="66.9" height="344.0" fill="#dcefe0" stroke="#000" stroke-width="3.2"/>
<line x1="240.6" y1="1515.6" x2="306.0" y2="1515.6" stroke="#000" stroke-width="3.2"/>
<line x1="240.6" y1="1606.2" x2="306.0" y2="1606.2" stroke="#000" stroke-width="3.2"/>
<line x1="240.6" y1="1697.3" x2="306.0" y2="1697.3" stroke="#000" stroke-width="3.2"/>
<rect x="362.6" y="1424.3" width="69.5" height="343.0" fill="#f8efb8" stroke="#000" stroke-width="3.2"/>
<line x1="362.6" y1="1510.2" x2="430.6" y2="1510.2" stroke="#000" stroke-width="3.2"/>
<line x1="362.6" y1="1601.9" x2="430.6" y2="1601.9" stroke="#000" stroke-width="3.2"/>
<line x1="362.6" y1="1693.5" x2="430.6" y2="1693.5" stroke="#000" stroke-width="3.2"/>
<rect x="488.6" y="1424.3" width="65.0" height="343.0" fill="#ffd4d4" stroke="#000" stroke-width="3.2"/>
<line x1="488.6" y1="1510.2" x2="552.1" y2="1510.2" stroke="#000" stroke-width="3.2"/>
<line x1="488.6" y1="1602.0" x2="552.1" y2="1602.0" stroke="#000" stroke-width="3.2"/>
<line x1="488.6" y1="1693.5" x2="552.1" y2="1693.5" stroke="#000" stroke-width="3.2"/>
<rect x="613.3" y="1424.3" width="69.3" height="343.0" fill="#66cff5" stroke="#000" stroke-width="3.2"/>
<line x1="613.3" y1="1510.2" x2="681.1" y2="1510.2" stroke="#000" stroke-width="3.2"/>
<line x1="613.3" y1="1602.0" x2="681.1" y2="1602.0" stroke="#000" stroke-width="3.2"/>
<line x1="613.3" y1="1693.5" x2="681.1" y2="1693.5" stroke="#000" stroke-width="3.2"/>
<rect x="734.5" y="1420.0" width="65.0" height="347.3" fill="#ffd452" stroke="#000" stroke-width="3.2"/>
<line x1="734.5" y1="1510.2" x2="798.0" y2="1510.2" stroke="#000" stroke-width="3.2"/>
<line x1="734.5" y1="1602.0" x2="798.0" y2="1602.0" stroke="#000" stroke-width="3.2"/>
<line x1="734.5" y1="1693.5" x2="798.0" y2="1693.5" stroke="#000" stroke-width="3.2"/>
<rect x="851.5" y="1416.2" width="68.8" height="347.1" fill="#dae3f3" stroke="#000" stroke-width="3.2"/>
<line x1="851.5" y1="1506.5" x2="918.8" y2="1506.5" stroke="#000" stroke-width="3.2"/>
<line x1="851.5" y1="1598.1" x2="918.8" y2="1598.1" stroke="#000" stroke-width="3.2"/>
<line x1="851.5" y1="1685.4" x2="918.8" y2="1685.4" stroke="#000" stroke-width="3.2"/>
<rect x="1055.5" y="1424.5" width="64.8" height="346.5" fill="#dcefe0" stroke="#000" stroke-width="3.2"/>
<line x1="1055.5" y1="1514.6" x2="1118.8" y2="1514.6" stroke="#000" stroke-width="3.2"/>
<line x1="1055.5" y1="1605.9" x2="1118.8" y2="1605.9" stroke="#000" stroke-width="3.2"/>
<line x1="1055.5" y1="1697.6" x2="1118.8" y2="1697.6" stroke="#000" stroke-width="3.2"/>
<path d="M503.8,2248.4 C482.9,2248.7 470.9,2249.9 470.9,2253.4 L470.9,2638.0 C470.9,2641.5 482.9,2642.7 503.8,2643.0" fill="none" stroke="#000" stroke-width="3.4" stroke-linejoin="round"/>
<path d="M1079.2,2248.3 C1105.0,2248.6 1117.0,2249.8 1117.0,2253.3 L1117.0,2633.5 C1117.0,2637.0 1105.0,2638.2 1079.2,2638.5" fill="none" stroke="#000" stroke-width="3.4" stroke-linejoin="round"/>
<rect x="507.8" y="2273.4" width="70.5" height="349.0" fill="#fefde2" stroke="#000" stroke-width="3.2"/>
<line x1="507.8" y1="2364.4" x2="576.8" y2="2364.4" stroke="#000" stroke-width="3.2"/>
<line x1="507.8" y1="2456.7" x2="576.8" y2="2456.7" stroke="#000" stroke-width="3.2"/>
<line x1="507.8" y1="2543.4" x2="576.8" y2="2543.4" stroke="#000" stroke-width="3.2"/>
<rect x="632.6" y="2269.5" width="66.7" height="347.5" fill="#c5e6cd" stroke="#000" stroke-width="3.2"/>
<line x1="632.6" y1="2360.4" x2="697.8" y2="2360.4" stroke="#000" stroke-width="3.2"/>
<line x1="632.6" y1="2451.5" x2="697.8" y2="2451.5" stroke="#000" stroke-width="3.2"/>
<line x1="632.6" y1="2543.4" x2="697.8" y2="2543.4" stroke="#000" stroke-width="3.2"/>
<rect x="754.7" y="2269.5" width="64.8" height="347.5" fill="#ffe1ff" stroke="#000" stroke-width="3.2"/>
<line x1="754.7" y1="2360.4" x2="818.0" y2="2360.4" stroke="#000" stroke-width="3.2"/>
<line x1="754.7" y1="2451.5" x2="818.0" y2="2451.5" stroke="#000" stroke-width="3.2"/>
<line x1="754.7" y1="2543.4" x2="818.0" y2="2543.4" stroke="#000" stroke-width="3.2"/>
<rect x="1016.5" y="2266.0" width="66.8" height="342.7" fill="#f6dcc4" stroke="#000" stroke-width="3.2"/>
<line x1="1016.5" y1="2356.0" x2="1081.8" y2="2356.0" stroke="#000" stroke-width="3.2"/>
<line x1="1016.5" y1="2443.2" x2="1081.8" y2="2443.2" stroke="#000" stroke-width="3.2"/>
<line x1="1016.5" y1="2534.2" x2="1081.8" y2="2534.2" stroke="#000" stroke-width="3.2"/>
<circle cx="900.1" cy="2452.9" r="3.05" fill="#000"/>
<circle cx="918.1" cy="2452.9" r="3.05" fill="#000"/>
<circle cx="936.2" cy="2452.9" r="3.05" fill="#000"/>
<g font-family="'Liberation Serif', serif" fill="#000" style="font-kerning:none">
<text x="84.25" y="46.40" font-size="57" font-style="normal" textLength="1402.11" lengthAdjust="spacingAndGlyphs">1. Polarization similarity measurement based on LGMRF</text>
<text x="217.90" y="225.00" font-size="57" font-style="normal" textLength="72.70" lengthAdjust="spacingAndGlyphs">1.0</text>
<text x="218.27" y="311.50" font-size="57" font-style="normal" textLength="72.31" lengthAdjust="spacingAndGlyphs">0.9</text>
<text x="218.27" y="397.10" font-size="57" font-style="normal" textLength="72.31" lengthAdjust="spacingAndGlyphs">0.8</text>
<text x="218.30" y="483.60" font-size="57" font-style="normal" textLength="71.25" lengthAdjust="spacingAndGlyphs">0.7</text>
<text x="218.30" y="570.10" font-size="57" font-style="normal" textLength="71.25" lengthAdjust="spacingAndGlyphs">0.6</text>
<text x="218.27" y="653.80" font-size="57" font-style="normal" textLength="72.31" lengthAdjust="spacingAndGlyphs">0.5</text>
<text x="218.28" y="739.70" font-size="57" font-style="normal" textLength="71.98" lengthAdjust="spacingAndGlyphs">0.4</text>
<text x="938.68" y="324.50" font-size="56" font-style="italic" textLength="25.97" lengthAdjust="spacingAndGlyphs">p</text>
<text x="964.07" y="335.80" font-size="33" font-style="normal" textLength="121.05" lengthAdjust="spacingAndGlyphs">neighbor</text>
<text x="327.06" y="1284.00" font-size="57" font-style="normal" textLength="883.84" lengthAdjust="spacingAndGlyphs">2. The point set of correlative pixels</text>
<text x="517.45" y="1382.80" font-size="56" font-style="italic" textLength="41.13" lengthAdjust="spacingAndGlyphs">G</text>
<text x="558.20" y="1393.80" font-size="32" font-style="normal" textLength="76.44" lengthAdjust="spacingAndGlyphs"><tspan font-style="italic">M</tspan><tspan font-style="normal">×</tspan><tspan font-style="italic">N</tspan></text>
<text x="1186.30" y="1788.30" font-size="56" font-style="italic" textLength="25.74" lengthAdjust="spacingAndGlyphs">g</text>
<text x="1211.00" y="1800.80" font-size="32" font-style="normal" textLength="67.80" lengthAdjust="spacingAndGlyphs"><tspan font-style="italic">M</tspan><tspan font-style="normal">×1</tspan></text>
<text x="239.40" y="1905.50" font-size="57" font-style="normal" textLength="255.54" lengthAdjust="spacingAndGlyphs">Stru-OMP</text>
<text x="242.68" y="1977.50" font-size="56" font-style="italic" textLength="39.33" lengthAdjust="spacingAndGlyphs">G</text>
<text x="282.50" y="1987.70" font-size="32" font-style="normal" textLength="76.73" lengthAdjust="spacingAndGlyphs"><tspan font-style="italic">M</tspan><tspan font-style="normal">×</tspan><tspan font-style="italic">N</tspan></text>
<text x="359.49" y="1976.50" font-size="57" font-style="normal" textLength="39.32" lengthAdjust="spacingAndGlyphs">×</text>
<text x="405.55" y="1977.50" font-size="56" font-style="italic" textLength="38.58" lengthAdjust="spacingAndGlyphs">D</text>
<text x="445.90" y="1987.70" font-size="32" font-style="normal" textLength="77.58" lengthAdjust="spacingAndGlyphs"><tspan font-style="italic">M</tspan><tspan font-style="normal">×</tspan><tspan font-style="italic">K</tspan></text>
<text x="1177.69" y="1905.70" font-size="57" font-style="normal" textLength="130.19" lengthAdjust="spacingAndGlyphs">OMP</text>
<text x="1129.30" y="1977.00" font-size="56" font-style="italic" textLength="25.09" lengthAdjust="spacingAndGlyphs">g</text>
<text x="1153.60" y="1987.60" font-size="32" font-style="normal" textLength="67.60" lengthAdjust="spacingAndGlyphs"><tspan font-style="italic">M</tspan><tspan font-style="normal">×1</tspan></text>
<text x="1223.45" y="1976.50" font-size="57" font-style="normal" textLength="38.30" lengthAdjust="spacingAndGlyphs">×</text>
<text x="1269.76" y="1977.50" font-size="56" font-style="italic" textLength="38.87" lengthAdjust="spacingAndGlyphs">D</text>
<text x="1309.20" y="1987.60" font-size="32" font-style="normal" textLength="77.68" lengthAdjust="spacingAndGlyphs"><tspan font-style="italic">M</tspan><tspan font-style="normal">×</tspan><tspan font-style="italic">K</tspan></text>
<text x="326.90" y="2205.00" font-size="57" font-style="normal" textLength="1031.05" lengthAdjust="spacingAndGlyphs">3. Search for the most correlative columns</text>
<text x="1141.07" y="2617.50" font-size="56" font-style="italic" textLength="39.37" lengthAdjust="spacingAndGlyphs">D</text>
<text x="1182.10" y="2628.60" font-size="32" font-style="normal" textLength="78.17" lengthAdjust="spacingAndGlyphs"><tspan font-style="italic">M</tspan><tspan font-style="normal">×</tspan><tspan font-style="italic">K</tspan></text>
<g transform="translate(416,1101.5) rotate(-25.5)"><text x="-77.11" y="0.00" font-size="52" font-style="italic" textLength="25.04" lengthAdjust="spacingAndGlyphs">p</text><text x="-7.79" y="0.00" font-size="55" font-style="normal" textLength="242.09" lengthAdjust="spacingAndGlyphs">Threshold</text><path d="M-47.1,-29 L-14.1,-13.6 L-47.2,0.9" fill="none" stroke="#000" stroke-width="1.7"/></g>
<g transform="translate(946.9,1037.2) rotate(25)"><text x="-77.60" y="0.00" font-size="52" font-style="italic" textLength="25.13" lengthAdjust="spacingAndGlyphs">p</text><text x="-7.88" y="0.00" font-size="55" font-style="normal" textLength="241.48" lengthAdjust="spacingAndGlyphs">Threshold</text><path d="M-15.1,-28.6 L-47.9,-13.7 L-15.1,0.9" fill="none" stroke="#000" stroke-width="1.7"/></g>
<g transform="translate(166.5,0) rotate(-90)"><text x="-595.17" y="0.00" font-size="57" font-style="normal" textLength="274.52" lengthAdjust="spacingAndGlyphs">Probability</text></g>
</g>
</svg></body></html>
